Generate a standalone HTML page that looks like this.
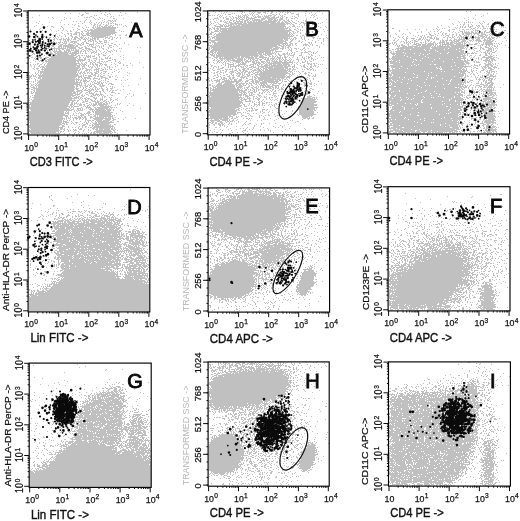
<!DOCTYPE html><html><head><meta charset="utf-8"><title>Figure</title><style>html,body{margin:0;padding:0;background:#fff}svg{display:block}</style></head><body><svg width="520" height="521" viewBox="0 0 520 521" font-family="'Liberation Sans', Arial, sans-serif"><rect width="520" height="521" fill="#fff"/><path transform="translate(0,.5)" d="M97 11h1m2 0h1m8 0h1m103 0h1m5 0h1m1 0h1m5 0h1m9 0h1m1 0h4m6 0h2m2 0h1m1 0h1m9 0h1m1 0h2m2 0h2m5 0h2m3 0h1m3 0h1m1 0h1m15 0h2m10 0h1m1 0h1m146 0h1m3 0h1M85 12h1m19 0h1m14 0h1m16 0h1m77 0h1m8 0h1m1 0h1m15 0h1m1 0h1m7 0h1m1 0h1m2 0h4m2 0h3m5 0h2m3 0h1m3 0h1m1 0h1m2 0h1m1 0h2m1 0h1m20 0h1M65 13h1m4 0h1m8 0h1m6 0h3m12 0h1m7 0h1m15 0h1m82 0h2m11 0h1m1 0h1m8 0h1m1 0h1m6 0h1m7 0h1m1 0h1m1 0h1m4 0h2m5 0h1m1 0h1m2 0h2m7 0h1m7 0h1m3 0h3m4 0h1m6 0h1m3 0h1m5 0h1m6 0h1m164 0h1M82 14h2m20 0h1m2 0h1m2 0h1m97 0h1m9 0h1m6 0h1m2 0h3m11 0h1m2 0h1m1 0h1m2 0h1m1 0h1m3 0h2m3 0h1m10 0h2m2 0h1m2 0h1m4 0h2m10 0h3m13 0h1m1 0h1M39 15h1m41 0h2m11 0h1m1 0h1m8 0h1m13 0h1m1 0h1m86 0h3m1 0h1m1 0h1m2 0h1m2 0h1m1 0h1m13 0h1m1 0h1m1 0h1m2 0h4m1 0h1m3 0h1m1 0h1m3 0h1m5 0h1m1 0h1m1 0h4m2 0h2m4 0h1m1 0h1m15 0h1m6 0h1m5 0h1m1 0h1m2 0h1m158 0h1m7 0h1M78 16h1m11 0h2m15 0h1m3 0h1m1 0h1m105 0h1m1 0h1m4 0h1m2 0h1m2 0h1m5 0h3m1 0h1m1 0h1m1 0h2m5 0h1m1 0h1m1 0h4m1 0h1m1 0h5m1 0h1m2 0h2m3 0h1m2 0h2m1 0h1m7 0h1m1 0h1m3 0h1m15 0h1m166 0h1M32 17h1m15 0h1m3 0h1m11 0h1m19 0h1m1 0h2m1 0h1m3 0h1m5 0h1m10 0h1m106 0h1m2 0h1m2 0h1m1 0h1m4 0h1m2 0h1m1 0h2m1 0h1m1 0h2m1 0h2m1 0h3m2 0h1m2 0h3m1 0h3m2 0h1m1 0h5m1 0h4m1 0h3m1 0h1m1 0h1m3 0h2m7 0h2m13 0h1m2 0h1m154 0h1M53 18h1m12 0h1m3 0h1m23 0h1m5 0h1m1 0h1m10 0h2m8 0h1m90 0h4m5 0h1m2 0h3m2 0h1m1 0h1m2 0h2m1 0h1m2 0h1m1 0h1m1 0h1m1 0h7m6 0h5m1 0h10m3 0h3m3 0h1m4 0h2m1 0h1m2 0h1m8 0h1m10 0h1m146 0h1m8 0h1M64 19h1m21 0h1m8 0h1m2 0h1m5 0h1m11 0h1m91 0h1m1 0h1m2 0h1m4 0h1m7 0h3m1 0h1m1 0h1m3 0h1m1 0h1m1 0h4m2 0h3m1 0h1m1 0h1m1 0h6m1 0h4m3 0h5m1 0h2m1 0h1m1 0h4m3 0h1m1 0h1m17 0h1m8 0h1m10 0h1m122 0h1m18 0h1m6 0h1M61 20h1m23 0h1m4 0h1m11 0h1m5 0h3m1 0h1m1 0h2m100 0h1m3 0h2m2 0h1m5 0h2m1 0h2m1 0h1m2 0h1m2 0h1m1 0h4m1 0h1m2 0h11m2 0h2m1 0h4m1 0h5m1 0h2m2 0h2m2 0h2m2 0h1m4 0h1m6 0h1m1 0h2m159 0h1m25 0h1M39 21h1m33 0h1m2 0h1m3 0h1m3 0h1m5 0h1m13 0h1m2 0h1m2 0h2m1 0h1m1 0h1m94 0h1m3 0h1m5 0h2m1 0h1m1 0h1m1 0h1m1 0h1m3 0h1m2 0h7m1 0h2m1 0h2m1 0h2m1 0h2m1 0h1m1 0h4m1 0h14m1 0h2m2 0h1m1 0h3m1 0h2m2 0h1m5 0h1m6 0h2m5 0h1m145 0h1m9 0h1m14 0h1m11 0h1m4 0h1M36 22h1m12 0h1m10 0h1m23 0h1m4 0h1m1 0h1m4 0h1m2 0h1m1 0h1m1 0h1m2 0h1m1 0h1m3 0h1m18 0h1m78 0h1m4 0h1m1 0h1m6 0h3m2 0h3m2 0h2m1 0h2m1 0h3m1 0h2m1 0h29m1 0h3m1 0h3m1 0h3m2 0h1m2 0h2m6 0h3m11 0h1m6 0h1m136 0h1m4 0h1m1 0h1m1 0h1m1 0h1m1 0h1m6 0h1m4 0h1M38 23h1m39 0h1m3 0h1m7 0h1m3 0h1m3 0h1m2 0h1m6 0h1m1 0h2m1 0h1m1 0h1m95 0h1m1 0h1m4 0h1m7 0h3m1 0h12m1 0h4m1 0h21m1 0h15m1 0h4m1 0h1m3 0h2m3 0h1m2 0h3m3 0h1m3 0h1m4 0h1m1 0h1m131 0h1m11 0h1m15 0h1m1 0h1m5 0h1m5 0h1M42 24h1m21 0h1m3 0h1m3 0h1m2 0h1m15 0h1m2 0h2m1 0h1m2 0h1m2 0h1m2 0h1m1 0h1m6 0h3m1 0h1m1 0h1m86 0h1m1 0h1m5 0h1m2 0h2m2 0h1m1 0h1m2 0h1m1 0h4m1 0h2m1 0h48m1 0h1m2 0h1m1 0h2m5 0h1m4 0h1m4 0h1m2 0h1m140 0h1m6 0h1m2 0h2m3 0h1m2 0h1m9 0h1m5 0h2M36 25h1m37 0h1m3 0h1m6 0h1m7 0h2m2 0h1m1 0h2m4 0h3m2 0h2m1 0h1m3 0h1m7 0h1m83 0h1m4 0h2m4 0h3m1 0h1m1 0h1m1 0h4m1 0h2m1 0h4m1 0h44m8 0h2m6 0h1m2 0h1m1 0h1m2 0h1m131 0h1m15 0h1m5 0h1m4 0h1m3 0h1m3 0h1m1 0h2m2 0h1m16 0h1M34 26h1m12 0h1m3 0h2m8 0h1m16 0h2m13 0h1m1 0h1m1 0h1m1 0h1m1 0h2m1 0h3m1 0h3m1 0h1m10 0h1m2 0h1m88 0h8m1 0h5m1 0h56m3 0h1m2 0h3m2 0h1m1 0h1m2 0h1m5 0h1m7 0h1m1 0h1m6 0h1m111 0h1m10 0h1m11 0h1m1 0h1m2 0h1m2 0h1m1 0h3m4 0h1m1 0h1m2 0h2m2 0h1m1 0h1m1 0h1m12 0h1M53 27h1m8 0h1m9 0h1m9 0h1m3 0h1m1 0h1m3 0h2m1 0h1m1 0h4m1 0h14m1 0h1m90 0h1m3 0h1m1 0h1m2 0h1m1 0h2m4 0h1m3 0h55m1 0h1m1 0h2m1 0h1m4 0h1m6 0h1m17 0h1m5 0h1m111 0h1m10 0h1m5 0h1m1 0h1m2 0h1m1 0h1m1 0h2m3 0h2m4 0h1m2 0h1m4 0h1m7 0h1m2 0h1m6 0h1m1 0h1m1 0h1M40 28h1m19 0h1m2 0h1m13 0h1m5 0h1m9 0h2m1 0h20m93 0h2m2 0h2m1 0h3m1 0h68m1 0h1m7 0h1m11 0h1m3 0h1m74 0h1m3 0h2m42 0h1m5 0h1m1 0h1m11 0h1m2 0h1m11 0h1m1 0h2m2 0h1m2 0h1m2 0h3m1 0h1m1 0h3M30 29h1m8 0h1m10 0h1m12 0h1m9 0h1m4 0h2m5 0h1m1 0h1m2 0h3m1 0h21m94 0h1m1 0h1m2 0h1m2 0h2m1 0h7m1 0h57m1 0h1m2 0h2m3 0h2m2 0h1m1 0h1m12 0h1m9 0h1m83 0h1m7 0h1m3 0h1m6 0h1m6 0h1m3 0h1m1 0h1m9 0h1m2 0h3m7 0h2m2 0h3m1 0h1m1 0h1m2 0h1m6 0h1m7 0h1m2 0h2m1 0h1M42 30h1m8 0h1m6 0h1m3 0h1m3 0h1m3 0h1m6 0h1m6 0h1m2 0h28m4 0h1m89 0h1m5 0h3m1 0h2m1 0h70m4 0h1m3 0h1m1 0h1m24 0h1m71 0h1m38 0h1m9 0h2m9 0h1m4 0h1m8 0h1m1 0h5m5 0h1m6 0h2m10 0h2M56 31h1m10 0h1m2 0h2m4 0h1m4 0h2m2 0h2m1 0h1m2 0h24m6 0h1m1 0h1m87 0h1m2 0h5m1 0h70m2 0h2m3 0h2m7 0h2m4 0h1m5 0h1m5 0h1m74 0h1m21 0h1m8 0h1m3 0h1m2 0h1m3 0h1m7 0h1m3 0h1m6 0h3m1 0h1m1 0h1m1 0h1m2 0h2m2 0h1m1 0h1m1 0h1m4 0h2m3 0h2m4 0h2M45 32h1m15 0h1m13 0h5m2 0h1m4 0h2m1 0h27m94 0h3m5 0h1m1 0h67m1 0h2m2 0h1m1 0h1m1 0h1m2 0h1m8 0h1m2 0h1m76 0h1m19 0h1m7 0h1m3 0h1m6 0h1m11 0h1m2 0h1m8 0h1m2 0h1m2 0h1m3 0h1m1 0h6m1 0h3m1 0h2m1 0h2m1 0h2m1 0h1m1 0h4m4 0h1m4 0h2M34 33h1m15 0h1m5 0h1m5 0h1m4 0h2m1 0h2m2 0h3m2 0h1m1 0h1m1 0h1m2 0h29m95 0h2m3 0h1m2 0h70m1 0h1m1 0h1m1 0h2m5 0h1m4 0h1m7 0h1m81 0h1m7 0h1m6 0h1m18 0h1m4 0h1m3 0h1m3 0h1m2 0h2m9 0h1m5 0h2m1 0h7m1 0h7m1 0h2m1 0h1m5 0h1m2 0h1m4 0h1m8 0h1M51 34h1m3 0h1m8 0h1m3 0h1m2 0h1m1 0h4m2 0h1m1 0h2m3 0h3m1 0h21m1 0h1m2 0h1m10 0h1m81 0h4m2 0h1m1 0h75m1 0h1m12 0h3m3 0h1m2 0h1m6 0h1m74 0h1m5 0h1m2 0h1m20 0h1m2 0h2m4 0h1m6 0h1m2 0h1m3 0h1m2 0h2m2 0h1m2 0h1m2 0h2m2 0h4m1 0h1m2 0h1m2 0h2m2 0h5m3 0h1m1 0h4m6 0h1M54 35h1m4 0h1m5 0h1m4 0h2m7 0h1m2 0h4m1 0h3m1 0h19m5 0h1m3 0h2m4 0h2m81 0h1m4 0h1m2 0h74m1 0h1m1 0h1m2 0h2m4 0h2m5 0h1m16 0h1m63 0h1m22 0h1m4 0h1m3 0h1m1 0h1m5 0h4m3 0h1m3 0h1m1 0h1m2 0h3m3 0h1m3 0h1m2 0h2m3 0h3m1 0h1m2 0h1m1 0h1m4 0h5m2 0h3m2 0h1m1 0h1m1 0h1m1 0h1m2 0h1M44 36h1m9 0h1m2 0h1m3 0h1m3 0h1m5 0h2m2 0h2m2 0h1m1 0h1m1 0h1m6 0h16m1 0h1m2 0h2m97 0h1m1 0h1m2 0h79m7 0h1m3 0h1m6 0h1m6 0h1m71 0h1m7 0h1m4 0h1m3 0h1m7 0h1m4 0h2m2 0h1m2 0h2m2 0h1m3 0h1m9 0h1m2 0h1m3 0h1m1 0h1m3 0h1m1 0h2m1 0h1m1 0h4m1 0h1m1 0h2m1 0h1m2 0h1m1 0h5m1 0h1m2 0h1m1 0h1m4 0h1m8 0h1M38 37h1m7 0h1m2 0h2m2 0h1m1 0h1m2 0h1m9 0h1m3 0h1m1 0h4m2 0h3m2 0h1m2 0h1m3 0h1m1 0h10m1 0h3m1 0h1m2 0h1m1 0h1m2 0h1m2 0h1m87 0h2m2 0h3m1 0h72m1 0h1m4 0h2m5 0h1m2 0h1m7 0h3m11 0h1m66 0h1m5 0h1m2 0h1m3 0h1m10 0h1m3 0h1m1 0h1m1 0h1m1 0h1m1 0h3m2 0h1m1 0h1m6 0h2m2 0h1m1 0h2m1 0h2m3 0h1m1 0h1m1 0h5m4 0h2m1 0h7m2 0h2m1 0h2m1 0h2m1 0h4m2 0h1m1 0h1m4 0h1M35 38h1m10 0h1m2 0h1m4 0h1m1 0h1m4 0h1m1 0h1m2 0h1m1 0h1m2 0h1m2 0h2m2 0h2m1 0h2m1 0h1m1 0h1m1 0h1m1 0h1m1 0h4m1 0h2m6 0h1m2 0h2m2 0h1m3 0h1m3 0h1m89 0h1m1 0h1m1 0h1m1 0h74m1 0h1m1 0h1m1 0h2m4 0h1m2 0h1m8 0h1m3 0h1m1 0h2m2 0h1m3 0h1m67 0h1m7 0h1m2 0h2m3 0h4m4 0h2m2 0h1m1 0h1m4 0h3m1 0h1m1 0h3m8 0h1m3 0h1m2 0h1m4 0h1m1 0h1m1 0h2m2 0h1m1 0h1m1 0h3m1 0h1m1 0h3m1 0h2m1 0h1m2 0h4m1 0h2m2 0h1m8 0h1M42 39h1m4 0h2m4 0h2m2 0h1m1 0h3m1 0h3m1 0h3m1 0h1m1 0h3m3 0h2m2 0h3m1 0h1m2 0h3m1 0h2m1 0h2m4 0h1m7 0h2m96 0h2m4 0h68m1 0h4m2 0h1m1 0h2m1 0h1m6 0h1m1 0h1m3 0h1m14 0h1m70 0h1m3 0h1m5 0h1m1 0h1m6 0h1m2 0h1m1 0h3m1 0h1m1 0h1m1 0h2m1 0h1m3 0h1m2 0h3m3 0h1m4 0h1m2 0h1m3 0h3m1 0h7m1 0h3m3 0h2m2 0h4m4 0h2m1 0h1m1 0h3m2 0h1M29 40h1m2 0h1m10 0h1m4 0h1m1 0h1m3 0h1m5 0h1m2 0h1m1 0h1m1 0h2m1 0h1m6 0h2m1 0h1m4 0h1m2 0h3m1 0h2m1 0h1m3 0h1m4 0h3m2 0h1m99 0h75m1 0h3m3 0h2m6 0h1m5 0h1m6 0h1m5 0h1m4 0h1m64 0h1m4 0h2m2 0h1m7 0h2m5 0h1m1 0h2m2 0h1m2 0h1m3 0h1m1 0h3m10 0h1m1 0h2m1 0h3m1 0h3m1 0h2m1 0h4m2 0h4m3 0h3m1 0h1m1 0h6m2 0h8m1 0h2m12 0h1M31 41h1m15 0h2m1 0h1m2 0h1m6 0h1m3 0h3m1 0h1m2 0h6m7 0h2m2 0h1m1 0h2m1 0h1m1 0h2m2 0h3m2 0h1m1 0h1m9 0h1m94 0h4m3 0h68m4 0h2m6 0h2m2 0h1m12 0h1m7 0h1m72 0h1m4 0h1m1 0h1m2 0h1m1 0h1m1 0h1m3 0h4m7 0h1m2 0h1m2 0h1m2 0h1m5 0h1m1 0h3m1 0h1m4 0h2m1 0h5m2 0h5m1 0h1m2 0h1m1 0h1m3 0h1m1 0h4m2 0h1m1 0h7m2 0h1m6 0h1M40 42h1m3 0h1m7 0h1m1 0h1m1 0h1m1 0h3m1 0h1m1 0h1m1 0h1m3 0h3m1 0h3m5 0h2m2 0h1m6 0h1m3 0h1m2 0h1m3 0h3m1 0h1m15 0h1m84 0h2m1 0h4m1 0h66m2 0h2m2 0h2m10 0h1m6 0h2m1 0h1m3 0h1m5 0h1m70 0h1m1 0h2m4 0h1m3 0h1m1 0h2m1 0h1m2 0h1m1 0h1m5 0h2m1 0h1m1 0h1m4 0h1m2 0h2m4 0h6m1 0h3m1 0h5m1 0h1m1 0h5m1 0h1m1 0h1m1 0h1m9 0h1m4 0h1m1 0h7M34 43h2m2 0h1m1 0h1m3 0h1m7 0h1m1 0h3m2 0h1m3 0h4m2 0h1m3 0h2m2 0h2m2 0h1m1 0h1m2 0h3m4 0h1m2 0h1m1 0h2m1 0h2m8 0h2m11 0h1m83 0h1m1 0h1m3 0h74m2 0h3m2 0h2m8 0h1m3 0h1m1 0h1m9 0h1m67 0h2m1 0h1m1 0h1m1 0h1m7 0h1m1 0h1m1 0h1m1 0h1m3 0h1m1 0h3m2 0h1m3 0h2m1 0h6m1 0h1m1 0h1m1 0h2m1 0h1m1 0h1m1 0h3m1 0h3m1 0h7m1 0h1m1 0h2m3 0h1m5 0h3m1 0h1m3 0h1m1 0h8m1 0h1m1 0h1m1 0h1m2 0h1M41 44h4m1 0h1m5 0h1m5 0h1m1 0h3m2 0h1m2 0h5m2 0h1m2 0h3m1 0h2m5 0h5m1 0h1m9 0h1m2 0h1m5 0h2m3 0h1m8 0h1m79 0h1m3 0h1m1 0h66m2 0h2m1 0h1m1 0h1m1 0h2m1 0h1m2 0h1m7 0h5m2 0h1m1 0h1m10 0h1m64 0h2m3 0h1m2 0h1m4 0h2m4 0h2m4 0h4m1 0h3m1 0h4m1 0h7m1 0h2m3 0h1m1 0h12m2 0h7m1 0h1m1 0h2m1 0h4m1 0h3m4 0h3m1 0h8m6 0h1M30 45h1m18 0h1m1 0h3m5 0h3m1 0h12m1 0h2m2 0h2m5 0h1m1 0h1m1 0h1m1 0h1m2 0h1m1 0h1m4 0h1m5 0h3m4 0h1m91 0h4m1 0h64m1 0h4m1 0h2m1 0h5m1 0h1m3 0h1m6 0h1m1 0h2m1 0h1m3 0h1m3 0h2m77 0h1m1 0h1m1 0h1m1 0h4m3 0h1m3 0h1m3 0h5m1 0h10m1 0h1m1 0h1m1 0h1m1 0h2m1 0h1m2 0h1m1 0h2m1 0h17m11 0h1m1 0h1m1 0h1m3 0h1m1 0h2m2 0h1m1 0h1m2 0h1m7 0h1M30 46h1m5 0h2m2 0h1m1 0h1m1 0h2m3 0h1m2 0h2m4 0h4m1 0h11m1 0h3m6 0h2m2 0h1m2 0h2m2 0h1m1 0h1m1 0h1m1 0h1m1 0h1m5 0h1m3 0h1m3 0h1m92 0h68m3 0h3m1 0h1m2 0h2m19 0h1m9 0h1m68 0h1m8 0h3m2 0h5m1 0h10m1 0h1m1 0h10m1 0h1m1 0h2m1 0h13m1 0h14m1 0h1m7 0h1m5 0h1m4 0h2m2 0h1m1 0h1m2 0h2m1 0h1M30 47h1m15 0h1m2 0h1m1 0h1m2 0h1m3 0h2m1 0h1m1 0h1m1 0h1m1 0h9m2 0h2m1 0h2m2 0h2m5 0h4m3 0h1m1 0h1m6 0h1m1 0h2m25 0h1m2 0h1m68 0h1m1 0h62m2 0h5m2 0h2m1 0h1m1 0h2m1 0h1m13 0h1m14 0h1m78 0h1m1 0h13m1 0h16m1 0h33m1 0h1m1 0h1m2 0h1m2 0h1m6 0h2m3 0h4m1 0h1m1 0h1m3 0h1m11 0h1M30 48h2m9 0h4m2 0h2m3 0h14m1 0h1m1 0h7m3 0h3m3 0h5m5 0h1m6 0h2m4 0h1m10 0h1m1 0h1m87 0h1m1 0h1m1 0h59m1 0h6m1 0h4m1 0h1m2 0h1m2 0h1m2 0h3m1 0h1m4 0h2m3 0h1m80 0h1m6 0h34m2 0h16m1 0h10m1 0h5m1 0h1m7 0h3m3 0h1m1 0h2m4 0h4m1 0h1m1 0h1m1 0h1M29 49h1m3 0h1m10 0h1m4 0h1m2 0h1m1 0h1m1 0h1m1 0h2m2 0h2m2 0h4m1 0h1m1 0h1m1 0h2m1 0h1m3 0h2m2 0h1m1 0h4m3 0h1m2 0h1m4 0h1m2 0h1m6 0h1m95 0h1m2 0h58m1 0h7m4 0h1m6 0h1m1 0h1m4 0h1m3 0h1m1 0h1m2 0h1m86 0h2m1 0h1m1 0h2m1 0h4m1 0h5m1 0h13m1 0h19m1 0h11m1 0h5m4 0h1m2 0h1m1 0h1m1 0h1m6 0h1m2 0h2m3 0h4m1 0h1M29 50h1m12 0h4m1 0h1m1 0h1m2 0h1m1 0h1m1 0h1m2 0h2m3 0h1m1 0h4m1 0h3m1 0h4m2 0h1m2 0h2m1 0h1m1 0h1m2 0h1m3 0h1m2 0h1m7 0h1m3 0h1m2 0h1m1 0h1m91 0h1m2 0h63m1 0h1m12 0h1m1 0h2m9 0h1m2 0h1m84 0h2m6 0h28m1 0h3m1 0h5m1 0h28m10 0h1m4 0h1m6 0h4m1 0h1m1 0h1m2 0h1M29 51h3m12 0h1m2 0h1m2 0h1m2 0h9m2 0h3m1 0h3m3 0h5m1 0h2m1 0h1m1 0h1m2 0h1m1 0h1m2 0h2m1 0h1m3 0h1m3 0h1m3 0h3m1 0h1m3 0h1m3 0h1m18 0h1m70 0h4m1 0h2m1 0h53m1 0h1m2 0h7m9 0h1m4 0h2m7 0h1m2 0h3m6 0h1m73 0h1m1 0h1m1 0h42m1 0h21m1 0h4m1 0h1m10 0h2m2 0h1m4 0h1m1 0h2m1 0h2m3 0h1M45 52h1m2 0h1m1 0h2m2 0h2m1 0h12m1 0h1m1 0h5m1 0h1m1 0h1m4 0h1m5 0h3m1 0h2m6 0h1m2 0h1m3 0h1m97 0h1m1 0h3m1 0h2m1 0h40m1 0h6m1 0h6m1 0h1m1 0h1m1 0h1m10 0h1m4 0h1m1 0h1m6 0h2m1 0h4m3 0h1m1 0h1m2 0h1m73 0h2m1 0h1m2 0h7m1 0h44m1 0h15m1 0h2m5 0h1m1 0h1m6 0h1m1 0h3m1 0h1m1 0h1m2 0h3M33 53h2m6 0h2m2 0h2m3 0h3m2 0h13m1 0h10m1 0h1m1 0h1m2 0h2m4 0h1m2 0h1m3 0h1m2 0h1m3 0h1m102 0h2m2 0h2m1 0h1m1 0h45m1 0h1m1 0h9m1 0h1m2 0h1m4 0h2m1 0h2m1 0h1m1 0h1m2 0h1m6 0h1m6 0h1m4 0h1m1 0h1m75 0h14m1 0h8m1 0h5m1 0h8m1 0h10m1 0h6m1 0h18m1 0h3m1 0h3m1 0h2m8 0h2m1 0h2m1 0h1M32 54h1m1 0h1m2 0h1m3 0h1m4 0h2m2 0h3m1 0h2m1 0h12m2 0h3m1 0h2m19 0h1m1 0h2m3 0h1m8 0h1m97 0h3m1 0h1m1 0h1m1 0h40m1 0h3m1 0h3m1 0h5m3 0h1m2 0h2m2 0h4m1 0h1m1 0h1m3 0h2m6 0h1m7 0h1m1 0h1m80 0h3m1 0h27m1 0h3m1 0h35m1 0h1m2 0h1m12 0h1m4 0h2m2 0h1m1 0h1M31 55h1m8 0h2m2 0h1m5 0h1m1 0h24m2 0h2m1 0h2m1 0h1m1 0h1m1 0h1m1 0h1m3 0h1m3 0h1m4 0h3m3 0h1m13 0h1m87 0h4m1 0h43m1 0h3m2 0h2m1 0h2m2 0h1m3 0h1m2 0h3m2 0h1m3 0h1m1 0h4m5 0h3m9 0h2m6 0h1m73 0h1m1 0h9m1 0h14m1 0h41m1 0h4m1 0h1m2 0h2m3 0h1m3 0h2m4 0h3m2 0h1m2 0h1m2 0h1M37 56h1m2 0h1m9 0h24m2 0h2m1 0h1m6 0h5m1 0h3m4 0h1m8 0h1m11 0h1m92 0h2m1 0h24m1 0h9m1 0h2m1 0h4m1 0h5m5 0h2m1 0h2m1 0h1m1 0h1m2 0h1m3 0h2m1 0h1m5 0h1m8 0h1m3 0h1m1 0h1m1 0h1m4 0h1m76 0h15m1 0h17m1 0h39m4 0h1m4 0h1m8 0h2m3 0h5M31 57h2m2 0h1m1 0h5m3 0h4m2 0h26m2 0h2m2 0h1m1 0h1m1 0h2m1 0h1m5 0h1m2 0h1m5 0h1m1 0h1m2 0h1m12 0h1m85 0h2m3 0h4m1 0h2m1 0h1m1 0h13m1 0h2m1 0h3m1 0h9m1 0h2m2 0h8m1 0h1m3 0h1m1 0h1m2 0h4m1 0h1m1 0h3m2 0h1m2 0h1m4 0h1m4 0h1m1 0h1m3 0h2m1 0h1m9 0h1m1 0h1m68 0h18m1 0h17m1 0h28m1 0h3m2 0h3m5 0h1m1 0h1m4 0h1m3 0h10m1 0h2m1 0h1M29 58h1m4 0h1m5 0h2m3 0h2m2 0h27m1 0h1m1 0h1m4 0h2m7 0h4m4 0h1m3 0h3m1 0h2m101 0h1m3 0h1m2 0h15m1 0h8m1 0h1m1 0h1m1 0h6m1 0h4m3 0h2m1 0h1m1 0h2m1 0h5m1 0h1m1 0h3m1 0h1m2 0h1m4 0h1m6 0h1m5 0h2m1 0h1m1 0h1m2 0h2m4 0h1m71 0h1m1 0h31m1 0h16m1 0h26m4 0h1m1 0h1m3 0h1m1 0h1m2 0h1m4 0h3m1 0h4m4 0h1M35 59h1m2 0h1m3 0h2m3 0h29m2 0h5m1 0h2m2 0h2m6 0h1m2 0h1m1 0h3m8 0h1m1 0h2m7 0h1m90 0h1m2 0h1m2 0h3m1 0h1m1 0h5m1 0h3m2 0h6m1 0h2m2 0h1m1 0h1m1 0h3m2 0h1m1 0h3m2 0h2m1 0h2m1 0h1m1 0h2m1 0h1m1 0h1m1 0h1m1 0h1m1 0h1m1 0h2m2 0h1m1 0h1m4 0h3m2 0h1m2 0h1m6 0h1m1 0h1m1 0h1m73 0h2m1 0h21m1 0h1m1 0h18m1 0h17m1 0h8m3 0h1m2 0h1m3 0h1m1 0h1m4 0h1m2 0h1m3 0h3m1 0h1m1 0h4M33 60h1m4 0h1m1 0h2m1 0h1m1 0h2m1 0h37m4 0h1m1 0h1m2 0h2m3 0h1m8 0h3m4 0h1m97 0h2m1 0h1m1 0h2m1 0h2m2 0h1m1 0h2m1 0h13m1 0h1m1 0h2m2 0h2m1 0h1m1 0h3m2 0h1m5 0h4m1 0h2m1 0h1m1 0h1m2 0h2m1 0h1m1 0h2m1 0h2m1 0h1m2 0h1m4 0h1m6 0h1m3 0h1m3 0h1m9 0h1m67 0h1m1 0h6m1 0h16m1 0h3m1 0h42m1 0h2m1 0h3m1 0h1m3 0h1m7 0h7m1 0h2m1 0h2M35 61h1m3 0h1m1 0h1m3 0h31m1 0h2m1 0h1m1 0h1m5 0h2m2 0h1m2 0h1m3 0h1m1 0h2m1 0h1m1 0h2m7 0h1m3 0h1m97 0h2m1 0h1m3 0h1m1 0h1m1 0h2m3 0h8m1 0h1m2 0h6m1 0h3m1 0h1m1 0h1m2 0h4m1 0h2m1 0h1m2 0h6m1 0h3m2 0h3m2 0h2m1 0h1m5 0h1m3 0h1m2 0h1m1 0h1m2 0h2m77 0h7m1 0h16m1 0h18m1 0h10m1 0h24m5 0h2m1 0h1m1 0h1m6 0h2m1 0h3m1 0h1M30 62h1m12 0h1m2 0h1m1 0h28m2 0h1m2 0h1m3 0h2m3 0h2m1 0h2m2 0h3m3 0h1m1 0h1m5 0h1m6 0h1m1 0h1m18 0h1m68 0h2m3 0h1m3 0h1m1 0h1m1 0h1m1 0h1m1 0h1m4 0h1m1 0h1m3 0h4m1 0h3m1 0h2m1 0h1m3 0h3m1 0h4m1 0h3m1 0h1m1 0h3m1 0h1m1 0h20m1 0h1m2 0h1m4 0h3m2 0h1m82 0h9m1 0h12m1 0h41m1 0h9m1 0h4m5 0h1m1 0h4m6 0h1m1 0h1m1 0h2M37 63h2m3 0h1m2 0h1m1 0h33m1 0h2m1 0h1m1 0h1m3 0h1m1 0h1m2 0h1m3 0h3m12 0h1m4 0h2m9 0h1m83 0h1m1 0h1m5 0h1m2 0h1m1 0h2m4 0h1m1 0h1m2 0h1m1 0h1m1 0h4m7 0h4m1 0h3m2 0h2m1 0h1m1 0h13m1 0h7m3 0h1m3 0h1m3 0h1m6 0h3m1 0h1m1 0h2m1 0h1m73 0h75m1 0h4m14 0h2m2 0h3m1 0h1m2 0h1m2 0h1M30 64h1m2 0h1m1 0h1m1 0h1m2 0h2m2 0h1m2 0h30m2 0h2m1 0h4m4 0h1m1 0h2m1 0h3m2 0h1m1 0h1m1 0h3m4 0h1m3 0h1m7 0h1m86 0h1m12 0h1m1 0h1m2 0h6m4 0h8m4 0h4m1 0h1m1 0h1m1 0h1m1 0h2m2 0h3m1 0h3m1 0h3m1 0h5m1 0h7m1 0h1m2 0h1m2 0h1m6 0h1m3 0h1m1 0h2m2 0h1m3 0h1m1 0h1m1 0h1m70 0h21m1 0h3m1 0h11m1 0h3m2 0h30m2 0h1m5 0h1m4 0h2m4 0h7m1 0h1m1 0h1M30 65h1m3 0h1m4 0h1m4 0h1m1 0h34m1 0h1m1 0h2m1 0h1m1 0h1m4 0h1m2 0h2m1 0h1m1 0h1m3 0h2m10 0h1m5 0h1m2 0h2m4 0h1m78 0h2m8 0h1m3 0h1m2 0h1m1 0h1m2 0h1m2 0h4m4 0h1m1 0h2m1 0h2m2 0h1m3 0h2m2 0h1m2 0h6m1 0h16m1 0h2m4 0h1m5 0h1m2 0h2m6 0h1m2 0h2m72 0h1m1 0h21m1 0h4m1 0h38m1 0h8m1 0h1m5 0h1m2 0h4m1 0h1m5 0h4m1 0h3m4 0h1M31 66h1m2 0h1m3 0h2m1 0h3m1 0h31m1 0h3m2 0h3m3 0h1m1 0h1m1 0h1m1 0h1m2 0h1m1 0h1m7 0h1m1 0h1m5 0h1m95 0h1m2 0h2m2 0h1m9 0h1m1 0h7m1 0h1m1 0h2m1 0h1m1 0h1m1 0h1m3 0h3m1 0h1m2 0h10m1 0h14m1 0h7m1 0h3m6 0h1m1 0h2m2 0h1m2 0h2m1 0h1m1 0h1m2 0h1m70 0h1m1 0h10m1 0h38m1 0h10m1 0h19m2 0h1m3 0h1m3 0h1m1 0h3m1 0h2m2 0h2m1 0h2M34 67h1m5 0h1m1 0h3m1 0h34m2 0h1m1 0h1m4 0h1m1 0h2m2 0h1m1 0h1m6 0h1m2 0h1m1 0h1m2 0h1m14 0h1m15 0h1m69 0h1m2 0h1m1 0h1m3 0h2m4 0h1m1 0h1m4 0h1m5 0h3m2 0h1m2 0h3m1 0h3m2 0h1m2 0h3m1 0h8m1 0h14m4 0h1m1 0h1m1 0h1m7 0h2m4 0h2m5 0h1m73 0h45m1 0h3m1 0h17m1 0h4m1 0h2m5 0h1m2 0h2m6 0h1m1 0h3m1 0h3m2 0h4M33 68h1m2 0h3m3 0h1m1 0h35m1 0h1m1 0h2m1 0h2m4 0h1m4 0h1m1 0h2m1 0h1m3 0h1m3 0h1m11 0h1m86 0h1m1 0h1m2 0h1m4 0h1m1 0h3m9 0h1m2 0h1m2 0h1m4 0h3m1 0h2m3 0h1m3 0h3m1 0h1m2 0h4m1 0h16m1 0h3m1 0h2m2 0h1m3 0h1m8 0h2m1 0h1m2 0h1m13 0h1m61 0h2m2 0h1m2 0h4m1 0h7m1 0h29m1 0h1m1 0h1m1 0h20m1 0h1m2 0h1m6 0h1m2 0h2m4 0h2m1 0h1m2 0h4m2 0h1m3 0h1M34 69h1m2 0h1m3 0h37m1 0h2m1 0h1m3 0h5m3 0h5m3 0h2m1 0h1m1 0h1m2 0h2m2 0h1m3 0h1m93 0h1m4 0h3m5 0h3m1 0h2m1 0h1m3 0h1m2 0h1m2 0h3m2 0h2m1 0h2m2 0h2m1 0h3m1 0h1m1 0h1m1 0h3m1 0h17m1 0h4m1 0h4m6 0h1m1 0h1m2 0h2m1 0h2m1 0h1m75 0h1m2 0h48m2 0h10m1 0h8m1 0h3m1 0h1m4 0h1m11 0h2m5 0h4M38 70h2m2 0h1m1 0h36m5 0h3m1 0h1m1 0h1m2 0h1m1 0h1m1 0h1m1 0h3m13 0h1m91 0h2m3 0h2m5 0h1m1 0h2m2 0h1m5 0h1m1 0h3m2 0h2m2 0h4m5 0h5m1 0h3m1 0h2m1 0h23m1 0h1m2 0h1m17 0h1m2 0h1m1 0h1m72 0h74m1 0h4m4 0h1m1 0h1m2 0h1m4 0h3m3 0h1m1 0h3M38 71h1m1 0h37m1 0h1m2 0h1m2 0h1m1 0h1m2 0h1m6 0h3m4 0h4m7 0h1m4 0h1m97 0h2m1 0h1m4 0h2m3 0h4m3 0h1m2 0h1m1 0h2m1 0h3m1 0h1m1 0h1m1 0h1m3 0h5m1 0h24m1 0h4m2 0h1m1 0h1m1 0h1m3 0h2m84 0h1m1 0h1m1 0h32m1 0h16m1 0h2m1 0h21m1 0h1m3 0h2m7 0h1m5 0h2m1 0h1m1 0h4m1 0h1M29 72h1m5 0h1m2 0h1m1 0h37m1 0h1m1 0h2m1 0h2m2 0h2m1 0h2m2 0h3m1 0h1m2 0h1m3 0h1m6 0h1m5 0h1m8 0h1m83 0h1m2 0h1m1 0h2m2 0h2m1 0h1m1 0h1m3 0h1m1 0h3m1 0h1m2 0h2m1 0h2m1 0h2m2 0h3m1 0h1m2 0h4m1 0h28m2 0h1m1 0h1m6 0h1m5 0h1m2 0h2m11 0h1m66 0h1m2 0h14m1 0h25m1 0h27m1 0h5m3 0h2m2 0h1m3 0h1m3 0h1m3 0h1m2 0h3m1 0h1m2 0h1M35 73h1m1 0h1m2 0h2m1 0h33m1 0h1m1 0h2m1 0h1m1 0h2m1 0h1m1 0h1m1 0h2m2 0h3m2 0h1m2 0h2m3 0h1m20 0h1m78 0h1m4 0h2m4 0h1m3 0h1m6 0h2m4 0h5m1 0h1m1 0h1m3 0h2m3 0h2m2 0h1m1 0h31m2 0h1m1 0h1m5 0h1m3 0h3m4 0h1m77 0h1m1 0h22m1 0h14m1 0h32m1 0h4m5 0h1m1 0h1m3 0h1m8 0h1m1 0h2m3 0h1m2 0h1M32 74h1m3 0h1m1 0h1m1 0h1m1 0h36m2 0h1m2 0h1m7 0h2m1 0h2m2 0h1m2 0h1m9 0h1m105 0h1m2 0h1m5 0h2m3 0h1m1 0h1m3 0h1m1 0h2m1 0h1m1 0h1m1 0h2m1 0h1m1 0h2m2 0h31m3 0h2m1 0h2m5 0h1m5 0h1m2 0h1m6 0h1m73 0h3m1 0h21m1 0h49m1 0h1m4 0h1m2 0h2m12 0h2m1 0h2m1 0h1M29 75h1m1 0h1m1 0h1m1 0h1m2 0h41m2 0h1m1 0h1m1 0h2m1 0h3m2 0h3m2 0h1m1 0h1m2 0h2m3 0h1m7 0h1m10 0h1m86 0h2m1 0h1m5 0h2m4 0h1m2 0h2m2 0h1m1 0h2m2 0h2m3 0h3m5 0h2m2 0h26m1 0h1m2 0h1m1 0h1m5 0h1m3 0h1m6 0h2m3 0h1m1 0h1m73 0h3m1 0h24m1 0h10m1 0h7m1 0h27m1 0h1m1 0h1m6 0h1m3 0h1m3 0h1m1 0h1m1 0h3m1 0h3m2 0h1M29 76h3m1 0h3m3 0h38m1 0h4m1 0h1m4 0h4m3 0h1m1 0h2m1 0h3m6 0h2m1 0h1m2 0h1m97 0h1m4 0h1m1 0h1m6 0h3m3 0h1m3 0h3m1 0h2m1 0h2m1 0h2m1 0h1m1 0h1m1 0h1m1 0h2m2 0h26m1 0h4m18 0h1m2 0h1m1 0h2m74 0h1m1 0h62m1 0h8m2 0h1m1 0h2m2 0h1m3 0h1m4 0h1m1 0h1m2 0h2m2 0h7M29 77h2m5 0h1m1 0h3m1 0h34m2 0h2m1 0h1m2 0h6m4 0h1m6 0h5m3 0h2m6 0h1m5 0h1m84 0h1m7 0h2m3 0h1m1 0h2m4 0h2m1 0h3m5 0h5m1 0h1m5 0h1m1 0h2m1 0h14m1 0h13m1 0h4m6 0h1m3 0h1m6 0h1m81 0h10m1 0h4m1 0h8m1 0h2m2 0h9m1 0h3m1 0h1m1 0h26m1 0h1m2 0h2m9 0h1m1 0h1m2 0h3m2 0h5m3 0h1M29 78h1m1 0h1m2 0h1m3 0h3m1 0h33m1 0h1m1 0h1m3 0h1m1 0h2m1 0h4m2 0h5m1 0h1m1 0h1m3 0h3m32 0h1m67 0h2m3 0h2m6 0h1m1 0h4m2 0h2m1 0h2m3 0h1m3 0h1m1 0h1m2 0h2m4 0h1m2 0h2m1 0h18m1 0h3m1 0h3m2 0h1m2 0h1m6 0h1m7 0h1m1 0h1m2 0h1m3 0h1m74 0h22m1 0h20m1 0h10m1 0h22m11 0h1m2 0h1m3 0h1m1 0h3m1 0h4m2 0h1M29 79h1m5 0h1m4 0h40m1 0h1m1 0h1m1 0h1m4 0h1m2 0h1m4 0h2m5 0h1m2 0h1m6 0h2m10 0h1m80 0h1m2 0h1m5 0h1m1 0h2m1 0h3m1 0h1m1 0h1m1 0h2m2 0h3m2 0h3m7 0h4m1 0h2m2 0h23m1 0h1m1 0h2m1 0h1m7 0h1m2 0h1m1 0h1m6 0h1m5 0h1m75 0h2m1 0h10m1 0h5m1 0h17m1 0h24m1 0h9m1 0h4m2 0h1m7 0h1m1 0h3m1 0h1m1 0h1m3 0h2m1 0h2m1 0h1M35 80h1m1 0h1m1 0h36m1 0h1m1 0h1m1 0h2m1 0h4m2 0h1m4 0h2m5 0h1m1 0h1m1 0h1m15 0h1m3 0h1m83 0h1m1 0h1m2 0h6m4 0h6m1 0h1m2 0h3m1 0h4m4 0h3m3 0h2m1 0h3m1 0h4m1 0h10m1 0h3m1 0h2m1 0h1m5 0h1m2 0h1m9 0h4m1 0h1m3 0h1m78 0h3m1 0h4m1 0h13m1 0h34m1 0h3m1 0h11m2 0h2m4 0h3m6 0h1m3 0h2m1 0h1m1 0h4M29 81h1m1 0h1m1 0h1m1 0h1m2 0h37m1 0h2m2 0h1m2 0h3m1 0h2m2 0h1m1 0h1m1 0h1m1 0h1m1 0h2m6 0h2m100 0h1m2 0h1m3 0h4m2 0h19m1 0h1m2 0h3m3 0h3m1 0h5m2 0h17m3 0h1m1 0h3m2 0h2m3 0h1m1 0h1m5 0h1m7 0h1m7 0h1m70 0h5m1 0h42m1 0h12m1 0h12m1 0h2m1 0h1m1 0h1m8 0h1m4 0h1m1 0h2m3 0h2M33 82h1m3 0h45m2 0h1m1 0h1m5 0h1m1 0h1m2 0h3m1 0h1m1 0h1m1 0h1m110 0h1m2 0h1m1 0h3m1 0h9m2 0h3m2 0h1m3 0h1m3 0h1m2 0h2m1 0h4m1 0h7m1 0h7m1 0h2m3 0h1m21 0h2m3 0h1m2 0h1m77 0h1m1 0h4m1 0h5m1 0h22m1 0h41m1 0h2m2 0h1m6 0h1m2 0h1m3 0h2m1 0h5M30 83h1m4 0h1m1 0h1m1 0h39m1 0h1m1 0h1m2 0h2m4 0h1m3 0h3m1 0h2m1 0h2m3 0h1m2 0h3m100 0h1m5 0h4m2 0h8m4 0h2m1 0h6m1 0h2m1 0h3m1 0h2m1 0h1m1 0h1m1 0h7m4 0h1m1 0h4m1 0h3m7 0h3m8 0h1m4 0h3m2 0h3m2 0h1m6 0h1m66 0h1m1 0h1m1 0h15m1 0h41m1 0h12m1 0h1m1 0h1m10 0h3m2 0h1m3 0h1m1 0h3m1 0h3M31 84h1m1 0h1m2 0h1m1 0h42m1 0h1m3 0h1m2 0h1m1 0h1m1 0h2m3 0h2m1 0h1m1 0h1m5 0h1m2 0h3m7 0h1m16 0h1m70 0h2m6 0h5m1 0h11m1 0h2m1 0h3m1 0h2m2 0h1m1 0h1m2 0h1m3 0h2m2 0h1m1 0h1m1 0h2m1 0h2m2 0h1m1 0h2m5 0h1m3 0h1m1 0h1m4 0h1m2 0h1m7 0h1m2 0h2m4 0h2m4 0h1m72 0h2m1 0h51m1 0h4m1 0h9m1 0h5m7 0h1m8 0h4m2 0h2m2 0h3m10 0h1M31 85h2m2 0h1m1 0h37m2 0h2m1 0h3m2 0h2m1 0h1m1 0h1m1 0h1m2 0h1m4 0h2m1 0h3m23 0h1m80 0h2m1 0h1m1 0h1m1 0h19m1 0h2m1 0h3m1 0h3m3 0h1m1 0h2m4 0h1m2 0h6m1 0h3m2 0h7m4 0h1m1 0h1m4 0h1m13 0h1m2 0h1m6 0h1m73 0h1m2 0h26m1 0h7m1 0h3m1 0h31m1 0h1m1 0h2m1 0h1m2 0h1m2 0h1m2 0h4m3 0h5m1 0h4M30 86h1m2 0h1m2 0h1m1 0h37m1 0h2m2 0h1m1 0h1m2 0h3m2 0h2m2 0h2m4 0h4m6 0h1m1 0h1m10 0h1m88 0h2m1 0h20m1 0h1m1 0h5m5 0h2m3 0h1m2 0h1m1 0h1m1 0h1m1 0h2m1 0h8m2 0h2m1 0h1m3 0h1m5 0h1m5 0h1m9 0h1m1 0h2m1 0h1m1 0h1m76 0h6m2 0h23m1 0h15m1 0h28m1 0h2m2 0h1m5 0h1m3 0h3m2 0h1m1 0h1m1 0h4m2 0h1M31 87h4m1 0h1m1 0h37m1 0h1m3 0h1m2 0h1m1 0h1m3 0h1m3 0h1m1 0h2m4 0h1m4 0h1m5 0h1m1 0h1m95 0h1m2 0h3m1 0h18m2 0h5m2 0h1m1 0h3m2 0h2m1 0h3m1 0h1m1 0h1m1 0h3m1 0h5m1 0h2m1 0h2m1 0h1m2 0h1m1 0h1m5 0h1m5 0h1m5 0h1m4 0h1m81 0h33m1 0h33m2 0h1m1 0h3m1 0h4m1 0h1m3 0h1m2 0h1m2 0h1m1 0h1m2 0h3m1 0h6m1 0h1m5 0h1M29 88h1m3 0h41m1 0h4m4 0h1m2 0h1m3 0h1m1 0h1m2 0h1m1 0h1m1 0h1m1 0h2m4 0h1m2 0h3m95 0h1m1 0h2m1 0h1m1 0h21m1 0h2m1 0h1m1 0h1m1 0h1m2 0h1m4 0h2m2 0h2m2 0h1m8 0h3m1 0h1m1 0h1m1 0h2m2 0h2m2 0h2m2 0h1m12 0h1m2 0h2m3 0h2m76 0h1m2 0h18m1 0h34m1 0h15m1 0h2m1 0h1m3 0h1m3 0h1m8 0h1m5 0h1m1 0h1m1 0h1m1 0h1M31 89h2m1 0h1m1 0h39m1 0h2m4 0h1m2 0h1m2 0h2m1 0h3m1 0h1m1 0h2m3 0h2m2 0h2m3 0h1m5 0h1m5 0h1m84 0h1m1 0h1m1 0h28m1 0h1m3 0h2m1 0h1m1 0h1m2 0h2m1 0h1m1 0h2m1 0h2m1 0h5m3 0h2m5 0h1m1 0h3m7 0h1m7 0h1m9 0h1m2 0h2m74 0h2m1 0h25m1 0h44m1 0h2m5 0h1m2 0h1m2 0h1m1 0h1m2 0h2m1 0h2m1 0h6m1 0h1M33 90h2m1 0h38m3 0h5m2 0h4m1 0h3m1 0h1m2 0h1m5 0h2m3 0h1m2 0h1m1 0h2m1 0h2m3 0h1m9 0h1m79 0h33m1 0h3m3 0h1m1 0h1m1 0h1m1 0h1m1 0h1m3 0h3m1 0h2m2 0h1m1 0h1m2 0h1m2 0h1m6 0h1m2 0h1m16 0h1m1 0h1m2 0h1m77 0h1m1 0h9m1 0h26m1 0h35m2 0h1m6 0h3m5 0h1m2 0h1m2 0h9m1 0h1M31 91h1m2 0h1m1 0h39m1 0h4m1 0h2m5 0h3m4 0h3m1 0h2m2 0h1m5 0h1m2 0h1m95 0h1m1 0h1m2 0h25m1 0h1m1 0h4m3 0h2m3 0h2m1 0h1m6 0h1m1 0h1m2 0h1m2 0h1m2 0h2m5 0h1m12 0h1m9 0h1m2 0h1m10 0h1m70 0h4m1 0h5m1 0h25m1 0h8m1 0h25m1 0h2m1 0h1m5 0h2m2 0h1m3 0h1m2 0h1m1 0h9M31 92h1m1 0h1m1 0h37m1 0h3m1 0h1m2 0h2m4 0h2m1 0h1m1 0h1m2 0h1m5 0h1m3 0h1m6 0h4m94 0h29m1 0h3m1 0h3m2 0h1m1 0h3m1 0h2m3 0h1m2 0h1m1 0h1m2 0h1m1 0h1m3 0h1m16 0h1m98 0h2m1 0h29m1 0h33m1 0h2m1 0h1m1 0h4m7 0h1m1 0h3m2 0h1m6 0h1m2 0h7M31 93h2m2 0h41m1 0h1m1 0h2m4 0h1m3 0h5m2 0h1m3 0h1m4 0h1m9 0h1m2 0h2m9 0h1m15 0h1m63 0h30m2 0h2m1 0h1m1 0h1m2 0h1m1 0h2m6 0h1m1 0h2m10 0h4m12 0h1m3 0h1m7 0h1m3 0h4m8 0h1m4 0h1m66 0h18m1 0h10m1 0h11m1 0h5m1 0h24m3 0h1m4 0h1m2 0h1m1 0h1m6 0h1m1 0h1m1 0h8m1 0h2M35 94h38m2 0h5m2 0h1m3 0h2m4 0h2m1 0h4m1 0h3m7 0h1m16 0h1m5 0h1m74 0h1m1 0h32m1 0h3m3 0h1m1 0h1m1 0h2m2 0h2m7 0h1m2 0h2m2 0h1m10 0h1m7 0h1m1 0h1m11 0h2m5 0h1m74 0h1m1 0h49m1 0h17m1 0h5m6 0h1m1 0h1m1 0h1m2 0h1m2 0h1m3 0h3m1 0h2m1 0h4m1 0h1M32 95h1m1 0h42m1 0h1m3 0h2m1 0h1m3 0h1m2 0h1m1 0h3m1 0h1m1 0h1m1 0h1m1 0h1m3 0h1m3 0h2m20 0h1m75 0h33m1 0h1m1 0h3m1 0h4m5 0h3m11 0h1m1 0h2m2 0h1m2 0h1m13 0h1m3 0h1m5 0h1m3 0h1m4 0h1m73 0h1m2 0h4m1 0h18m1 0h16m1 0h31m1 0h1m2 0h4m2 0h1m2 0h1m5 0h1m1 0h3m1 0h4m1 0h2m1 0h1M30 96h1m3 0h37m1 0h2m2 0h1m1 0h2m2 0h2m6 0h3m5 0h1m3 0h1m1 0h2m20 0h1m4 0h1m76 0h2m1 0h28m1 0h1m4 0h4m4 0h2m1 0h1m2 0h1m1 0h1m2 0h1m1 0h1m7 0h1m1 0h1m8 0h1m10 0h1m7 0h1m2 0h5m78 0h4m1 0h28m1 0h14m1 0h1m1 0h13m1 0h5m2 0h1m3 0h1m7 0h1m7 0h7m3 0h2M32 97h40m2 0h5m1 0h2m4 0h1m6 0h2m1 0h1m5 0h1m1 0h1m4 0h1m1 0h1m13 0h1m83 0h33m1 0h1m3 0h1m1 0h1m3 0h1m3 0h1m2 0h1m3 0h2m3 0h1m1 0h2m2 0h1m13 0h1m3 0h1m9 0h1m3 0h4m1 0h3m1 0h1m71 0h1m1 0h10m1 0h5m1 0h17m1 0h6m1 0h1m1 0h9m1 0h10m1 0h6m3 0h1m1 0h2m1 0h2m1 0h1m1 0h3m2 0h2m4 0h8m3 0h1M29 98h1m4 0h43m1 0h1m1 0h1m1 0h1m1 0h2m1 0h3m4 0h3m3 0h1m1 0h1m7 0h1m6 0h1m91 0h31m1 0h2m1 0h1m2 0h4m2 0h1m1 0h2m1 0h2m6 0h1m2 0h1m7 0h1m5 0h1m13 0h1m3 0h12m1 0h1m1 0h1m71 0h4m1 0h15m1 0h4m1 0h37m1 0h11m4 0h2m4 0h1m1 0h3m1 0h1m3 0h8m1 0h4M31 99h1m1 0h39m2 0h1m4 0h1m1 0h1m3 0h2m1 0h1m1 0h2m3 0h1m4 0h3m3 0h1m3 0h2m3 0h2m92 0h30m1 0h2m1 0h4m2 0h1m3 0h1m3 0h3m3 0h1m2 0h1m3 0h1m1 0h1m2 0h2m10 0h1m1 0h1m6 0h2m4 0h14m1 0h1m71 0h12m1 0h5m1 0h3m1 0h10m1 0h26m1 0h14m1 0h1m6 0h1m1 0h1m3 0h2m3 0h9m3 0h2M29 100h1m2 0h44m1 0h2m3 0h1m2 0h1m1 0h1m3 0h2m1 0h1m2 0h1m2 0h1m1 0h1m1 0h2m4 0h1m2 0h1m3 0h1m90 0h32m1 0h2m2 0h1m3 0h2m7 0h1m3 0h1m8 0h1m2 0h1m2 0h1m10 0h1m1 0h1m8 0h1m2 0h13m73 0h12m1 0h20m1 0h27m1 0h5m1 0h7m9 0h1m7 0h2m2 0h3m1 0h1m1 0h4M32 101h38m2 0h2m3 0h1m5 0h1m1 0h3m4 0h4m1 0h3m3 0h2m1 0h1m1 0h1m3 0h1m95 0h34m3 0h6m1 0h1m1 0h1m4 0h1m1 0h1m2 0h1m34 0h1m1 0h16m72 0h1m1 0h30m1 0h20m1 0h12m1 0h4m1 0h1m5 0h1m2 0h1m11 0h4m1 0h5m1 0h2m1 0h1M29 102h41m1 0h2m1 0h1m1 0h1m5 0h3m4 0h2m4 0h4m1 0h3m2 0h2m2 0h1m1 0h1m96 0h35m9 0h1m3 0h1m1 0h2m2 0h1m3 0h2m1 0h1m1 0h1m6 0h1m1 0h1m5 0h1m13 0h1m1 0h14m73 0h32m2 0h41m10 0h1m2 0h1m2 0h1m2 0h1m1 0h11M30 103h39m2 0h2m1 0h3m1 0h1m1 0h1m5 0h2m3 0h1m1 0h1m1 0h2m1 0h4m1 0h2m1 0h2m1 0h1m7 0h1m2 0h1m8 0h1m78 0h33m1 0h1m6 0h1m4 0h1m4 0h1m2 0h3m1 0h1m8 0h2m6 0h1m12 0h1m4 0h13m75 0h8m1 0h7m1 0h4m1 0h6m1 0h26m1 0h15m1 0h1m1 0h1m1 0h1m2 0h1m3 0h1m1 0h1m2 0h1m1 0h1m2 0h2m1 0h5m1 0h4M29 104h40m1 0h3m1 0h1m2 0h1m1 0h3m1 0h2m4 0h1m1 0h1m1 0h4m1 0h10m9 0h1m1 0h1m88 0h32m3 0h2m4 0h1m4 0h3m1 0h2m2 0h1m6 0h1m1 0h1m2 0h1m1 0h1m1 0h2m4 0h1m16 0h16m71 0h2m1 0h24m1 0h1m1 0h12m1 0h11m1 0h7m1 0h6m1 0h2m1 0h1m1 0h1m2 0h1m2 0h1m1 0h1m2 0h2m2 0h1m4 0h14M29 105h1m1 0h37m2 0h2m1 0h1m5 0h3m2 0h1m2 0h2m1 0h1m1 0h4m1 0h1m1 0h5m1 0h2m1 0h1m2 0h1m3 0h1m11 0h1m5 0h1m75 0h33m2 0h1m3 0h1m2 0h1m2 0h1m2 0h1m1 0h1m2 0h1m1 0h1m3 0h1m3 0h1m1 0h1m25 0h17m72 0h3m2 0h22m1 0h43m2 0h4m1 0h2m1 0h1m5 0h3m3 0h1m3 0h9m1 0h1M29 106h1m1 0h39m1 0h2m1 0h5m4 0h1m1 0h1m1 0h1m1 0h1m3 0h1m6 0h11m97 0h33m3 0h3m6 0h1m2 0h1m13 0h1m3 0h1m3 0h1m19 0h16m78 0h10m1 0h43m2 0h15m5 0h1m2 0h4m3 0h1m1 0h3m1 0h4m1 0h3m1 0h1M29 107h38m2 0h1m1 0h1m1 0h1m7 0h1m4 0h5m3 0h2m1 0h12m1 0h3m1 0h1m1 0h1m91 0h1m2 0h28m2 0h1m9 0h1m11 0h1m6 0h1m4 0h1m15 0h1m6 0h20m70 0h1m1 0h1m1 0h12m1 0h26m1 0h18m1 0h12m1 0h1m6 0h1m1 0h1m2 0h2m4 0h2m1 0h1m1 0h6m1 0h2M29 108h40m1 0h1m2 0h1m3 0h4m1 0h1m3 0h1m1 0h1m1 0h2m3 0h2m1 0h10m1 0h1m1 0h1m28 0h1m67 0h2m1 0h25m2 0h2m3 0h1m2 0h2m1 0h1m1 0h2m1 0h1m21 0h2m20 0h17m1 0h1m71 0h1m3 0h12m1 0h7m1 0h4m1 0h13m1 0h29m2 0h1m9 0h1m2 0h3m2 0h1m2 0h5m1 0h2m1 0h2M30 109h40m1 0h3m3 0h2m1 0h1m1 0h1m1 0h1m4 0h5m1 0h10m1 0h5m2 0h1m94 0h1m1 0h25m1 0h3m2 0h1m3 0h1m6 0h1m2 0h3m4 0h3m2 0h1m30 0h17m73 0h1m2 0h13m1 0h44m1 0h8m2 0h2m1 0h2m6 0h1m3 0h1m5 0h2m2 0h8M31 110h41m2 0h1m1 0h1m1 0h5m7 0h1m1 0h1m1 0h1m1 0h10m1 0h4m2 0h1m6 0h1m88 0h28m1 0h2m6 0h1m1 0h2m1 0h3m1 0h2m5 0h1m3 0h1m5 0h1m8 0h1m10 0h1m4 0h1m1 0h14m1 0h2m72 0h1m1 0h3m1 0h54m1 0h13m3 0h1m4 0h1m2 0h4m1 0h1m5 0h6m1 0h4m7 0h1M29 111h35m2 0h1m1 0h1m5 0h1m2 0h1m10 0h2m2 0h2m1 0h15m12 0h1m85 0h29m10 0h1m1 0h1m1 0h1m8 0h1m1 0h1m6 0h1m16 0h1m5 0h1m6 0h15m75 0h11m1 0h35m1 0h23m13 0h1m2 0h1m5 0h5m1 0h1m1 0h6m2 0h1M29 112h35m1 0h1m1 0h2m6 0h1m3 0h1m7 0h4m2 0h1m1 0h18m95 0h28m1 0h4m2 0h1m1 0h1m14 0h1m2 0h2m3 0h1m3 0h1m4 0h1m21 0h15m3 0h1m70 0h1m1 0h9m1 0h18m1 0h31m1 0h10m1 0h2m2 0h1m3 0h1m3 0h2m1 0h1m5 0h10M29 113h35m1 0h4m4 0h1m2 0h1m1 0h1m1 0h2m2 0h1m1 0h4m5 0h16m5 0h1m91 0h1m1 0h26m1 0h1m3 0h1m5 0h2m4 0h1m2 0h1m5 0h1m21 0h1m6 0h1m7 0h15m74 0h58m1 0h1m1 0h10m1 0h1m2 0h2m2 0h1m1 0h1m3 0h1m2 0h2m3 0h1m2 0h11m4 0h1M29 114h36m3 0h1m4 0h1m7 0h3m1 0h1m2 0h1m1 0h2m1 0h1m1 0h17m96 0h29m4 0h1m7 0h1m18 0h1m5 0h1m7 0h1m14 0h1m1 0h17m72 0h22m1 0h28m1 0h18m1 0h2m1 0h1m6 0h1m3 0h1m5 0h1m4 0h9m1 0h1M29 115h39m2 0h1m1 0h1m1 0h1m1 0h1m3 0h4m4 0h2m4 0h2m1 0h1m1 0h12m1 0h1m1 0h1m93 0h23m2 0h2m7 0h2m4 0h1m1 0h1m8 0h1m1 0h1m3 0h1m2 0h2m7 0h2m19 0h1m2 0h12m75 0h2m1 0h10m1 0h15m2 0h40m3 0h1m3 0h1m1 0h1m2 0h1m4 0h1m4 0h1m1 0h1m1 0h10M29 116h34m2 0h3m2 0h1m7 0h2m1 0h1m2 0h2m4 0h2m1 0h3m1 0h1m1 0h14m95 0h1m1 0h18m1 0h4m3 0h1m1 0h1m2 0h1m3 0h2m4 0h2m6 0h1m3 0h1m11 0h1m5 0h1m1 0h1m18 0h8m1 0h1m76 0h70m1 0h4m21 0h2m1 0h9m2 0h1M29 117h34m3 0h1m1 0h1m1 0h1m1 0h1m1 0h3m1 0h3m1 0h1m1 0h2m4 0h3m2 0h9m1 0h2m1 0h3m1 0h1m2 0h1m9 0h1m84 0h18m1 0h1m2 0h1m3 0h2m21 0h1m4 0h1m37 0h6m1 0h1m3 0h1m74 0h1m2 0h14m1 0h38m1 0h16m1 0h1m3 0h1m2 0h1m6 0h1m4 0h1m4 0h8m1 0h1M29 118h36m1 0h1m1 0h2m3 0h1m1 0h3m1 0h2m2 0h1m1 0h2m3 0h1m2 0h18m1 0h2m4 0h1m16 0h1m72 0h14m1 0h6m2 0h2m1 0h2m7 0h1m2 0h2m1 0h1m1 0h1m12 0h1m5 0h1m7 0h1m24 0h3m1 0h3m2 0h2m74 0h16m1 0h19m1 0h16m1 0h9m1 0h11m8 0h3m10 0h1m1 0h9M29 119h34m1 0h1m1 0h1m3 0h1m2 0h1m2 0h1m2 0h1m2 0h1m2 0h2m7 0h9m2 0h6m2 0h3m7 0h1m84 0h1m2 0h1m2 0h5m1 0h8m1 0h1m3 0h1m3 0h1m10 0h1m14 0h1m1 0h1m1 0h1m8 0h1m25 0h1m5 0h1m80 0h2m1 0h3m1 0h12m1 0h11m1 0h12m1 0h27m1 0h1m8 0h1m3 0h1m3 0h2m2 0h2m1 0h1m1 0h7M29 120h33m1 0h1m3 0h1m1 0h1m3 0h1m11 0h1m1 0h4m1 0h2m2 0h6m1 0h7m2 0h2m96 0h10m2 0h6m1 0h1m2 0h2m2 0h1m13 0h1m6 0h1m3 0h1m12 0h1m15 0h1m1 0h1m95 0h1m1 0h34m1 0h27m1 0h5m1 0h1m9 0h1m3 0h1m1 0h2m6 0h1m1 0h6m1 0h4M30 121h32m1 0h4m4 0h1m8 0h1m4 0h1m2 0h1m2 0h1m3 0h1m1 0h12m1 0h2m5 0h2m92 0h3m3 0h5m3 0h1m1 0h2m1 0h3m1 0h1m3 0h1m7 0h1m50 0h2m89 0h26m1 0h42m1 0h1m1 0h2m2 0h1m10 0h1m2 0h1m3 0h1m1 0h10M29 122h33m1 0h1m1 0h4m3 0h1m2 0h3m6 0h1m1 0h1m1 0h1m3 0h1m2 0h2m1 0h16m95 0h2m1 0h2m1 0h2m3 0h3m3 0h1m2 0h1m8 0h1m6 0h1m41 0h1m7 0h1m92 0h2m2 0h25m1 0h13m1 0h1m1 0h25m2 0h2m6 0h1m5 0h1m6 0h1m1 0h12M30 123h31m1 0h3m1 0h1m4 0h1m1 0h1m2 0h1m5 0h1m3 0h2m2 0h1m2 0h4m1 0h12m98 0h1m2 0h2m2 0h2m1 0h2m1 0h2m1 0h1m4 0h1m1 0h1m4 0h1m7 0h1m4 0h2m10 0h1m1 0h1m5 0h1m5 0h1m24 0h1m89 0h31m1 0h23m1 0h11m1 0h6m11 0h1m4 0h4m2 0h5m1 0h2m1 0h1M30 124h32m2 0h1m1 0h2m6 0h1m4 0h1m3 0h3m1 0h1m4 0h1m1 0h15m1 0h1m3 0h2m93 0h1m3 0h2m3 0h3m1 0h2m4 0h1m2 0h1m11 0h1m1 0h1m2 0h1m7 0h1m4 0h1m26 0h1m99 0h1m1 0h2m1 0h47m1 0h18m2 0h2m4 0h1m1 0h1m1 0h1m2 0h1m2 0h2m4 0h3m1 0h2m2 0h2m4 0h1M29 125h31m2 0h2m18 0h3m4 0h2m1 0h2m1 0h4m1 0h11m1 0h1m96 0h1m4 0h1m4 0h2m1 0h1m1 0h1m17 0h1m11 0h1m25 0h1m3 0h1m104 0h10m1 0h40m1 0h8m1 0h8m1 0h1m2 0h1m19 0h2m2 0h6m1 0h1M29 126h30m3 0h3m3 0h1m10 0h1m2 0h1m2 0h2m5 0h1m1 0h20m106 0h1m3 0h1m2 0h1m8 0h1m17 0h1m5 0h1m12 0h1m8 0h1m7 0h1m97 0h2m3 0h21m1 0h30m1 0h12m1 0h1m10 0h1m4 0h3m5 0h1m2 0h5m1 0h4M29 127h34m5 0h1m3 0h1m2 0h1m2 0h1m3 0h1m2 0h1m2 0h1m1 0h2m1 0h18m1 0h1m1 0h1m94 0h1m5 0h2m2 0h1m6 0h1m20 0h1m5 0h1m9 0h1m11 0h1m2 0h1m3 0h1m106 0h1m1 0h11m2 0h46m2 0h7m1 0h1m1 0h1m3 0h1m9 0h1m1 0h1m1 0h1m3 0h1m1 0h9m1 0h1m1 0h1M30 128h29m1 0h3m1 0h1m13 0h1m1 0h2m10 0h3m1 0h2m1 0h11m1 0h2m1 0h1m115 0h1m9 0h1m2 0h1m2 0h1m6 0h1m13 0h1m21 0h1m14 0h1m83 0h8m1 0h62m1 0h1m6 0h2m1 0h2m5 0h2m4 0h2m1 0h7m2 0h1M29 129h1m1 0h28m1 0h2m1 0h2m2 0h1m5 0h1m1 0h1m3 0h3m2 0h1m3 0h1m4 0h1m1 0h3m1 0h4m1 0h6m1 0h3m1 0h1m98 0h1m5 0h1m7 0h1m7 0h1m8 0h1m3 0h1m2 0h1m7 0h1m7 0h1m16 0h1m19 0h1m82 0h1m1 0h1m2 0h6m1 0h11m1 0h7m1 0h35m1 0h4m4 0h1m20 0h2m1 0h9M29 130h31m4 0h1m3 0h1m1 0h1m3 0h3m6 0h1m4 0h1m1 0h1m5 0h15m2 0h2m2 0h1m8 0h1m83 0h1m11 0h1m8 0h1m11 0h3m14 0h1m3 0h1m3 0h1m1 0h1m117 0h1m1 0h12m1 0h12m2 0h14m1 0h25m4 0h1m7 0h1m8 0h1m1 0h2m1 0h1m1 0h11M29 131h30m1 0h2m1 0h1m4 0h1m4 0h1m4 0h1m4 0h1m10 0h18m2 0h1m99 0h1m27 0h1m4 0h1m22 0h1m11 0h1m12 0h1m92 0h5m2 0h8m1 0h11m1 0h4m1 0h6m1 0h9m1 0h15m1 0h4m1 0h1m2 0h1m7 0h1m2 0h2m2 0h1m1 0h1m4 0h1m1 0h5m1 0h2m1 0h2M30 132h26m2 0h1m1 0h1m14 0h1m3 0h1m8 0h1m2 0h1m1 0h2m1 0h6m1 0h8m1 0h1m1 0h2m93 0h1m2 0h1m3 0h2m3 0h1m10 0h1m4 0h1m5 0h1m9 0h1m19 0h1m114 0h3m2 0h4m1 0h8m1 0h3m1 0h10m2 0h2m2 0h4m1 0h2m1 0h8m1 0h1m1 0h1m2 0h2m1 0h3m1 0h1m3 0h1m3 0h1m5 0h1m10 0h1m1 0h3m1 0h5m1 0h1m2 0h1M29 133h1m1 0h29m4 0h1m4 0h1m4 0h1m3 0h1m3 0h1m1 0h1m1 0h1m3 0h2m1 0h3m1 0h1m1 0h10m1 0h2m5 0h1m102 0h1m8 0h2m14 0h1m2 0h1m35 0h1M209 188h1m2 0h1m3 0h1m6 0h1m3 0h1m6 0h1m3 0h4m6 0h1m2 0h2m1 0h1m1 0h4m2 0h1m4 0h2m1 0h2m12 0h1m2 0h1m3 0h1m1 0h1m6 0h1M130 189h1m86 0h2m6 0h3m8 0h3m2 0h1m3 0h1m1 0h3m2 0h6m1 0h1m3 0h1m1 0h2m2 0h2m3 0h1m8 0h2m18 0h1m1 0h1m3 0h1m1 0h1m1 0h1m5 0h1M216 190h1m1 0h2m5 0h1m2 0h3m5 0h1m3 0h1m1 0h1m1 0h1m3 0h4m4 0h3m1 0h1m1 0h1m2 0h2m3 0h3m2 0h3m9 0h1m18 0h1m14 0h1M216 191h2m4 0h1m2 0h1m1 0h1m1 0h1m4 0h2m1 0h1m1 0h2m1 0h3m1 0h1m1 0h9m1 0h12m5 0h1m9 0h2m3 0h1m4 0h1m1 0h1m14 0h1m15 0h1M210 192h1m7 0h3m5 0h1m1 0h1m3 0h2m5 0h1m2 0h11m2 0h2m2 0h3m1 0h1m1 0h6m2 0h2m1 0h3m1 0h1m2 0h1m1 0h1m1 0h3m4 0h2m7 0h1m2 0h1m4 0h1M212 193h1m1 0h1m2 0h1m12 0h1m1 0h2m1 0h5m2 0h2m1 0h8m1 0h5m1 0h1m1 0h3m1 0h1m1 0h4m1 0h3m2 0h3m2 0h1m2 0h1m5 0h1m9 0h1m19 0h1m82 0h1M77 194h1m132 0h1m1 0h1m4 0h1m5 0h1m2 0h1m6 0h1m2 0h2m3 0h23m1 0h4m1 0h1m2 0h4m2 0h1m2 0h3m2 0h2m1 0h2m4 0h1m1 0h1m1 0h2m6 0h1m2 0h1m9 0h1m4 0h1m173 0h2M51 195h1m36 0h1m5 0h1m114 0h2m4 0h2m3 0h4m1 0h1m1 0h1m1 0h3m2 0h1m1 0h1m1 0h20m1 0h8m1 0h2m1 0h6m1 0h6m2 0h2m3 0h1m2 0h1m30 0h1m164 0h1M49 196h1m21 0h1m138 0h1m5 0h1m3 0h1m6 0h2m1 0h6m1 0h40m1 0h3m1 0h3m3 0h1m1 0h3m1 0h1m3 0h1m2 0h1m5 0h1m5 0h1m8 0h1m5 0h1m118 0h1m24 0h1M49 197h1m172 0h1m3 0h3m1 0h2m1 0h3m1 0h46m3 0h2m3 0h3m2 0h1m7 0h1m166 0h1M67 198h1m143 0h2m7 0h1m2 0h2m4 0h1m1 0h5m1 0h1m1 0h34m1 0h6m1 0h5m3 0h1m10 0h1m1 0h1m3 0h1m5 0h1m102 0h1M51 199h1m159 0h1m1 0h1m6 0h1m1 0h3m1 0h61m3 0h1m1 0h1m2 0h1m2 0h2m3 0h1m8 0h1m117 0h1M52 200h1m80 0h1m78 0h3m3 0h1m1 0h1m1 0h1m1 0h3m1 0h56m1 0h2m1 0h2m2 0h1m3 0h2m5 0h2m4 0h1m2 0h1M83 201h1m126 0h4m2 0h2m4 0h6m1 0h51m1 0h3m1 0h6m2 0h1m4 0h3m3 0h1m1 0h1m3 0h1m141 0h1m1 0h1M72 202h1m8 0h1m127 0h1m10 0h4m1 0h60m1 0h2m8 0h1m11 0h1m1 0h1m109 0h1m32 0h1m2 0h1m3 0h1M32 203h1m70 0h1m1 0h1m105 0h2m1 0h1m1 0h1m1 0h67m1 0h2m1 0h1m1 0h1m1 0h1m6 0h1m17 0h1m1 0h1m5 0h1m79 0h1m57 0h1M40 204h1m64 0h1m20 0h1m9 0h1m73 0h1m2 0h1m1 0h1m3 0h1m1 0h1m1 0h66m1 0h2m3 0h4m9 0h1m131 0h1m20 0h1m12 0h1m2 0h1m6 0h1M53 205h2m26 0h1m6 0h1m122 0h2m2 0h1m1 0h70m2 0h1m1 0h3m1 0h1m4 0h1m3 0h2m9 0h1m6 0h1m4 0h1m162 0h1M53 206h1m70 0h1m23 0h1m60 0h3m1 0h1m2 0h1m1 0h67m1 0h1m1 0h2m1 0h4m1 0h1m1 0h1m9 0h1m1 0h3m6 0h1m7 0h1m174 0h1M83 207h1m18 0h1m25 0h1m80 0h1m1 0h3m2 0h71m1 0h3m2 0h3m3 0h1m26 0h2m157 0h1M31 208h1m18 0h1m6 0h1m31 0h1m24 0h1m94 0h2m1 0h2m1 0h2m1 0h67m1 0h5m6 0h2m1 0h2m1 0h1m5 0h2m3 0h1m107 0h1m8 0h1m13 0h1m9 0h1M48 209h1m21 0h1m2 0h1m4 0h1m15 0h1m2 0h1m1 0h2m21 0h1m1 0h1m22 0h1m61 0h4m1 0h1m1 0h75m4 0h3m12 0h1m7 0h1m91 0h1m38 0h2m2 0h1m12 0h1m14 0h1M41 210h1m14 0h1m1 0h1m8 0h1m16 0h1m1 0h1m34 0h1m20 0h1m2 0h1m64 0h3m1 0h74m3 0h1m1 0h1m5 0h1m6 0h1m12 0h1m85 0h1m13 0h1m4 0h1m5 0h1m14 0h1m1 0h1m21 0h1m35 0h1M45 211h1m2 0h1m23 0h4m2 0h2m1 0h1m3 0h1m2 0h2m2 0h1m2 0h1m7 0h1m34 0h1m6 0h1m64 0h76m2 0h3m4 0h1m3 0h2m13 0h1m1 0h1m8 0h1m112 0h1m7 0h1m5 0h1m36 0h1M47 212h1m5 0h1m2 0h1m11 0h1m1 0h1m9 0h1m3 0h1m4 0h1m1 0h2m4 0h1m6 0h1m4 0h1m3 0h1m18 0h1m78 0h75m1 0h3m5 0h1m4 0h1m134 0h1m15 0h1m3 0h1m4 0h1m18 0h1M52 213h1m3 0h1m4 0h2m9 0h1m9 0h1m8 0h4m3 0h1m2 0h1m4 0h1m2 0h1m2 0h1m96 0h79m2 0h1m5 0h1m12 0h1m5 0h1m1 0h1m94 0h1m8 0h1m17 0h1m5 0h1m25 0h1m7 0h1M41 214h1m8 0h1m1 0h1m6 0h1m2 0h2m4 0h1m9 0h1m8 0h1m7 0h2m6 0h1m4 0h1m1 0h4m4 0h1m5 0h1m1 0h1m13 0h1m68 0h1m1 0h74m1 0h3m3 0h5m1 0h1m3 0h1m2 0h1m122 0h1m22 0h2m15 0h1m26 0h1m8 0h1M42 215h1m5 0h1m7 0h1m2 0h1m7 0h3m5 0h1m2 0h1m1 0h3m4 0h1m1 0h2m3 0h3m2 0h1m2 0h1m1 0h4m2 0h1m2 0h1m3 0h1m3 0h1m2 0h1m23 0h1m60 0h76m5 0h1m3 0h1m1 0h1m2 0h1m3 0h1m6 0h2m4 0h1m2 0h1m78 0h1m6 0h1m11 0h1m6 0h1m7 0h1m12 0h1m20 0h1m3 0h1m13 0h1M40 216h1m2 0h1m2 0h1m8 0h1m3 0h1m6 0h2m4 0h1m2 0h2m1 0h2m3 0h1m7 0h1m1 0h1m1 0h5m1 0h1m2 0h1m1 0h4m2 0h1m1 0h1m94 0h81m2 0h1m1 0h1m10 0h1m14 0h1m103 0h1m5 0h1m5 0h1m33 0h1m22 0h1M38 217h2m18 0h1m1 0h2m1 0h2m1 0h1m5 0h1m8 0h1m2 0h2m1 0h1m1 0h2m1 0h3m6 0h4m2 0h1m1 0h1m1 0h3m1 0h1m12 0h1m19 0h1m62 0h76m4 0h1m2 0h1m1 0h5m1 0h1m5 0h1m5 0h1m5 0h1m7 0h1m73 0h1m35 0h1m2 0h1m12 0h1m7 0h1m13 0h1M29 218h1m12 0h1m11 0h2m2 0h2m2 0h2m6 0h1m3 0h1m2 0h1m1 0h2m1 0h2m3 0h1m3 0h1m3 0h3m1 0h7m1 0h3m1 0h1m1 0h1m1 0h3m2 0h1m3 0h1m7 0h1m76 0h82m20 0h1m9 0h1m76 0h1m15 0h1m1 0h1m5 0h1m20 0h1m3 0h1m2 0h1m9 0h1m3 0h2m26 0h1M43 219h1m10 0h1m1 0h2m4 0h1m1 0h2m1 0h1m1 0h2m1 0h1m2 0h2m1 0h2m1 0h2m1 0h1m1 0h4m1 0h4m1 0h3m1 0h2m1 0h5m1 0h7m2 0h3m2 0h1m14 0h1m70 0h77m1 0h1m3 0h1m3 0h1m4 0h2m2 0h2m5 0h1m7 0h3m81 0h1m18 0h1m3 0h1m22 0h1m17 0h1m22 0h1M31 220h1m5 0h1m20 0h6m1 0h4m1 0h2m1 0h2m3 0h1m1 0h1m1 0h5m1 0h9m1 0h5m1 0h3m1 0h6m1 0h6m12 0h1m77 0h75m2 0h1m2 0h1m2 0h2m1 0h1m160 0h1m14 0h1m11 0h1m15 0h1m4 0h1M52 221h2m1 0h1m1 0h6m1 0h2m1 0h3m2 0h9m2 0h2m1 0h3m1 0h11m1 0h6m1 0h1m1 0h1m1 0h2m2 0h5m15 0h1m71 0h3m1 0h72m1 0h2m6 0h1m4 0h1m5 0h1m3 0h1m95 0h2m13 0h1m12 0h1m3 0h1m3 0h2m13 0h1m10 0h1m14 0h1m13 0h1M53 222h6m1 0h1m1 0h1m1 0h2m1 0h8m2 0h2m2 0h1m1 0h6m2 0h14m1 0h6m2 0h4m1 0h1m23 0h1m65 0h72m3 0h1m2 0h1m5 0h2m3 0h1m10 0h1m97 0h1m1 0h1m3 0h1m1 0h1m1 0h1m12 0h1m10 0h1m17 0h1m4 0h2m6 0h1M51 223h16m1 0h17m1 0h9m2 0h8m1 0h7m1 0h2m1 0h3m2 0h1m4 0h1m81 0h1m1 0h1m1 0h64m1 0h2m1 0h2m1 0h2m3 0h3m1 0h1m2 0h1m2 0h1m8 0h1m8 0h1m9 0h1m68 0h1m12 0h1m8 0h1m19 0h2m7 0h1m6 0h1m2 0h1m2 0h1m13 0h1m13 0h1m1 0h1m7 0h1m1 0h1M51 224h1m1 0h3m1 0h4m1 0h11m1 0h3m1 0h25m1 0h8m1 0h6m2 0h2m86 0h66m1 0h6m2 0h2m1 0h2m5 0h1m9 0h1m2 0h1m3 0h1m3 0h1m105 0h1m2 0h1m4 0h1m3 0h1m1 0h3m1 0h1m1 0h1m1 0h1m6 0h1m11 0h1m10 0h1m6 0h1M53 225h2m1 0h3m1 0h9m1 0h4m1 0h40m1 0h1m1 0h3m3 0h1m2 0h2m81 0h66m1 0h1m1 0h2m1 0h1m1 0h1m6 0h1m2 0h1m6 0h1m4 0h1m11 0h2m2 0h1m85 0h1m6 0h1m4 0h1m10 0h1m9 0h1m6 0h1m2 0h2m1 0h1m1 0h1m2 0h1m3 0h1m1 0h1m14 0h1m11 0h1m1 0h2m5 0h1M53 226h31m1 0h20m1 0h12m2 0h1m7 0h1m1 0h1m3 0h1m1 0h1m8 0h1m64 0h1m1 0h61m1 0h5m1 0h1m1 0h2m1 0h3m11 0h1m9 0h1m1 0h1m13 0h1m1 0h1m84 0h2m3 0h1m1 0h1m1 0h1m2 0h1m4 0h1m7 0h1m3 0h1m29 0h1m9 0h1m2 0h1m7 0h1m6 0h1M54 227h5m1 0h5m1 0h7m1 0h4m1 0h8m1 0h1m1 0h10m2 0h15m1 0h3m14 0h1m73 0h66m1 0h4m3 0h1m3 0h1m3 0h2m5 0h1m6 0h1m102 0h1m13 0h1m1 0h1m11 0h3m5 0h1m22 0h1m1 0h1m6 0h1M45 228h1m6 0h1m1 0h11m1 0h23m1 0h12m2 0h3m2 0h6m1 0h4m1 0h1m15 0h1m71 0h65m1 0h5m1 0h1m1 0h1m14 0h1m6 0h1m2 0h1m6 0h1m89 0h1m10 0h2m6 0h1m17 0h1m32 0h1m5 0h1M41 229h1m9 0h1m3 0h2m1 0h12m1 0h20m1 0h1m1 0h14m1 0h5m1 0h4m3 0h1m6 0h1m3 0h3m4 0h1m70 0h1m1 0h7m1 0h44m1 0h7m1 0h5m3 0h1m2 0h1m5 0h1m3 0h1m6 0h1m22 0h1m71 0h1m6 0h1m17 0h2m3 0h1m1 0h1m9 0h1m3 0h1m2 0h1m2 0h1m4 0h1m10 0h1m4 0h1m1 0h1m4 0h1m18 0h1m9 0h2M34 230h1m1 0h1m16 0h2m2 0h11m1 0h2m1 0h12m1 0h9m1 0h6m1 0h16m1 0h3m10 0h2m2 0h3m70 0h1m1 0h1m1 0h8m1 0h41m1 0h10m2 0h1m3 0h1m1 0h1m2 0h1m5 0h1m2 0h1m1 0h1m26 0h1m77 0h1m16 0h2m16 0h1m2 0h1m3 0h1m6 0h1m1 0h1m2 0h1m3 0h1m2 0h1m2 0h2m2 0h2m11 0h1m7 0h1m4 0h1m2 0h1m6 0h1M52 231h3m1 0h14m1 0h22m1 0h6m1 0h20m4 0h2m1 0h3m1 0h4m1 0h3m2 0h1m69 0h55m1 0h3m1 0h1m1 0h3m4 0h1m2 0h2m2 0h1m4 0h1m2 0h1m17 0h1m79 0h1m17 0h1m4 0h1m9 0h1m10 0h1m2 0h1m5 0h1m2 0h1m10 0h1m10 0h2m2 0h3m4 0h4m3 0h1M48 232h1m6 0h14m1 0h1m1 0h8m1 0h22m1 0h16m1 0h1m6 0h3m1 0h2m1 0h1m1 0h3m2 0h3m65 0h2m4 0h1m1 0h5m2 0h36m1 0h4m2 0h3m1 0h1m2 0h1m1 0h2m2 0h1m12 0h1m1 0h1m8 0h1m11 0h1m71 0h2m4 0h1m2 0h1m7 0h1m6 0h1m2 0h1m6 0h2m9 0h1m2 0h1m1 0h1m1 0h1m7 0h1m1 0h1m1 0h1m2 0h2m12 0h1m3 0h1m7 0h1m11 0h1M34 233h1m16 0h14m1 0h16m1 0h10m1 0h2m1 0h20m1 0h2m1 0h1m1 0h1m2 0h2m3 0h11m1 0h1m65 0h1m2 0h1m2 0h1m5 0h2m1 0h32m1 0h11m2 0h1m1 0h3m3 0h1m2 0h1m3 0h1m1 0h1m1 0h1m1 0h1m1 0h2m2 0h1m4 0h1m8 0h1m10 0h1m84 0h1m1 0h1m3 0h1m2 0h2m3 0h1m1 0h2m2 0h1m3 0h1m4 0h1m5 0h1m11 0h1m4 0h1m6 0h1m2 0h1m11 0h2m1 0h1m20 0h1M48 234h3m4 0h9m1 0h5m1 0h40m1 0h8m1 0h3m2 0h1m2 0h7m2 0h2m2 0h1m2 0h2m65 0h1m2 0h4m2 0h3m1 0h31m2 0h1m1 0h2m1 0h6m1 0h2m1 0h3m1 0h2m2 0h1m9 0h2m1 0h1m2 0h1m3 0h2m2 0h1m88 0h1m6 0h1m20 0h1m1 0h1m1 0h1m4 0h1m6 0h2m5 0h1m10 0h1m18 0h1m6 0h1m2 0h1m3 0h3m3 0h2m7 0h1M29 235h1m3 0h1m19 0h8m1 0h30m1 0h6m1 0h18m1 0h1m1 0h2m1 0h1m1 0h1m3 0h13m66 0h2m2 0h3m1 0h1m2 0h1m1 0h1m1 0h3m2 0h25m1 0h4m2 0h3m1 0h1m4 0h3m4 0h3m1 0h2m2 0h1m2 0h2m6 0h2m1 0h2m5 0h2m6 0h1m85 0h2m5 0h1m2 0h1m7 0h1m6 0h2m1 0h2m5 0h1m2 0h1m1 0h1m2 0h1m6 0h3m2 0h6m1 0h1m7 0h1m4 0h1m1 0h1m6 0h1m2 0h2m3 0h2m2 0h1M52 236h2m2 0h17m1 0h8m1 0h10m1 0h28m1 0h2m1 0h3m1 0h3m1 0h11m65 0h1m1 0h2m1 0h1m5 0h2m1 0h4m4 0h4m1 0h9m1 0h4m1 0h3m1 0h3m3 0h1m1 0h7m1 0h3m5 0h1m1 0h1m1 0h1m2 0h2m2 0h2m2 0h1m8 0h1m12 0h1m92 0h1m2 0h3m10 0h2m2 0h1m2 0h2m2 0h2m1 0h1m2 0h1m1 0h1m2 0h2m1 0h1m9 0h2m1 0h3m2 0h1m5 0h1m1 0h1m4 0h1m1 0h1m2 0h1m2 0h1m14 0h1M34 237h1m8 0h1m3 0h1m3 0h1m1 0h3m1 0h10m1 0h1m1 0h33m1 0h9m1 0h7m1 0h1m3 0h3m1 0h1m1 0h6m1 0h4m1 0h2m68 0h3m4 0h1m1 0h2m3 0h4m1 0h4m2 0h1m1 0h11m1 0h11m1 0h3m1 0h1m1 0h2m1 0h1m1 0h1m1 0h1m3 0h2m2 0h2m7 0h1m11 0h1m17 0h1m72 0h1m15 0h1m3 0h1m4 0h1m2 0h1m1 0h1m2 0h2m4 0h2m3 0h1m1 0h2m2 0h1m2 0h1m1 0h1m3 0h1m1 0h1m2 0h4m4 0h3m3 0h1m21 0h1M40 238h1m3 0h1m3 0h1m2 0h2m2 0h1m1 0h15m1 0h23m1 0h20m2 0h5m1 0h4m1 0h1m2 0h1m1 0h3m1 0h1m1 0h2m2 0h1m64 0h1m7 0h1m3 0h1m2 0h1m1 0h2m1 0h1m2 0h3m1 0h5m2 0h12m1 0h2m1 0h3m3 0h2m1 0h1m2 0h2m3 0h1m1 0h1m3 0h1m1 0h1m2 0h3m3 0h1m10 0h1m13 0h1m3 0h1m86 0h3m11 0h1m2 0h1m1 0h1m1 0h4m1 0h1m2 0h3m1 0h1m1 0h2m5 0h1m1 0h1m4 0h1m3 0h1m1 0h1m1 0h1m1 0h1m2 0h2m2 0h1m18 0h1m3 0h1m1 0h1m4 0h1M40 239h1m2 0h1m9 0h9m1 0h11m1 0h46m2 0h2m1 0h3m1 0h5m1 0h3m1 0h2m2 0h1m69 0h1m3 0h2m1 0h6m3 0h3m2 0h1m1 0h1m1 0h2m3 0h5m1 0h4m1 0h2m5 0h2m4 0h1m3 0h1m1 0h7m1 0h1m1 0h1m1 0h2m2 0h1m1 0h6m4 0h2m15 0h1m1 0h1m70 0h2m6 0h1m7 0h1m2 0h1m6 0h2m2 0h1m2 0h1m3 0h2m1 0h1m1 0h1m1 0h2m1 0h1m5 0h3m1 0h1m2 0h1m1 0h2m1 0h1m3 0h1m1 0h1m10 0h1m1 0h1m2 0h2m5 0h1m1 0h1m1 0h2m15 0h1M36 240h1m18 0h14m1 0h2m1 0h3m1 0h9m1 0h13m1 0h18m2 0h1m5 0h6m2 0h3m1 0h4m1 0h1m72 0h3m1 0h1m2 0h1m1 0h1m7 0h1m3 0h4m2 0h1m1 0h2m3 0h2m2 0h1m1 0h3m3 0h2m1 0h1m3 0h1m1 0h3m1 0h4m1 0h1m3 0h2m1 0h1m3 0h1m2 0h1m6 0h1m3 0h1m1 0h1m3 0h1m3 0h1m82 0h1m2 0h2m5 0h1m3 0h2m1 0h3m7 0h1m5 0h3m1 0h4m1 0h1m1 0h5m1 0h1m1 0h1m4 0h1m7 0h2m6 0h1m2 0h1m3 0h1m1 0h3m3 0h1m6 0h3m5 0h1m1 0h1M48 241h1m4 0h16m1 0h8m1 0h23m2 0h1m1 0h8m1 0h6m8 0h5m1 0h5m1 0h3m2 0h1m65 0h1m1 0h1m8 0h1m3 0h1m2 0h1m3 0h1m1 0h3m1 0h4m1 0h6m2 0h1m1 0h1m3 0h1m2 0h1m1 0h2m2 0h5m1 0h6m1 0h4m4 0h1m1 0h2m6 0h1m18 0h1m6 0h1m69 0h1m5 0h1m1 0h3m3 0h1m7 0h2m1 0h1m2 0h1m2 0h1m1 0h1m1 0h2m1 0h1m2 0h1m1 0h1m2 0h1m3 0h2m1 0h1m1 0h2m5 0h1m2 0h1m2 0h1m1 0h2m1 0h1m2 0h1m1 0h2m1 0h1m7 0h1m9 0h1m6 0h1M48 242h1m1 0h2m5 0h14m1 0h7m1 0h5m1 0h10m1 0h5m1 0h16m1 0h1m4 0h3m1 0h2m1 0h9m1 0h3m1 0h1m1 0h1m61 0h1m4 0h1m5 0h1m3 0h1m3 0h1m8 0h2m1 0h1m1 0h9m3 0h5m1 0h1m1 0h2m1 0h5m1 0h6m1 0h5m1 0h1m1 0h1m1 0h1m6 0h1m1 0h2m4 0h1m15 0h1m68 0h1m1 0h1m3 0h1m4 0h1m5 0h1m2 0h1m3 0h1m2 0h1m4 0h2m5 0h1m1 0h1m1 0h1m3 0h1m2 0h1m1 0h1m1 0h6m1 0h3m3 0h1m1 0h3m5 0h1m1 0h1m1 0h1m4 0h1m1 0h1m8 0h1m8 0h1m5 0h1m1 0h1M35 243h1m12 0h1m4 0h1m2 0h2m2 0h18m1 0h19m1 0h21m2 0h1m1 0h2m3 0h12m1 0h2m2 0h1m64 0h2m1 0h1m3 0h1m1 0h1m8 0h1m1 0h1m6 0h1m5 0h3m6 0h1m3 0h1m3 0h1m2 0h9m2 0h2m1 0h3m1 0h12m2 0h1m10 0h2m6 0h1m79 0h1m3 0h1m2 0h1m5 0h1m4 0h1m3 0h7m1 0h5m3 0h2m2 0h1m1 0h4m2 0h2m1 0h2m1 0h2m2 0h1m1 0h1m1 0h2m1 0h2m2 0h1m2 0h1m3 0h2m1 0h1m1 0h2m3 0h2m2 0h1M48 244h1m4 0h10m2 0h11m1 0h1m1 0h6m1 0h6m1 0h15m1 0h7m1 0h5m1 0h4m1 0h1m2 0h8m1 0h4m1 0h1m65 0h1m5 0h4m4 0h1m5 0h2m3 0h2m5 0h1m1 0h3m1 0h1m3 0h1m1 0h3m1 0h1m1 0h3m1 0h1m1 0h3m3 0h4m1 0h6m3 0h3m16 0h1m4 0h1m4 0h1m72 0h1m3 0h1m3 0h1m2 0h1m2 0h1m3 0h2m4 0h1m5 0h1m4 0h4m1 0h2m1 0h6m1 0h4m1 0h1m1 0h5m2 0h1m1 0h6m1 0h1m5 0h1m1 0h3m6 0h1m10 0h1m7 0h1m1 0h2M39 245h1m3 0h1m10 0h11m1 0h14m1 0h3m1 0h2m2 0h20m1 0h8m1 0h2m3 0h1m1 0h1m1 0h3m2 0h1m1 0h2m1 0h2m2 0h3m1 0h2m64 0h3m4 0h1m5 0h1m2 0h1m2 0h1m1 0h1m1 0h1m1 0h1m3 0h1m2 0h2m1 0h1m2 0h3m1 0h1m4 0h4m1 0h1m2 0h24m1 0h1m3 0h1m1 0h2m1 0h1m9 0h1m81 0h1m3 0h1m1 0h1m4 0h1m3 0h2m4 0h1m3 0h1m1 0h1m2 0h2m1 0h4m1 0h1m1 0h2m2 0h3m2 0h1m1 0h1m1 0h5m1 0h3m2 0h4m1 0h3m7 0h1m1 0h1m4 0h1m3 0h2m2 0h1m2 0h2m16 0h1M45 246h1m2 0h1m4 0h2m4 0h3m1 0h52m1 0h6m4 0h7m1 0h3m1 0h1m4 0h3m67 0h1m1 0h1m6 0h1m3 0h2m6 0h1m1 0h2m1 0h1m1 0h1m1 0h7m1 0h1m2 0h2m1 0h1m2 0h1m1 0h11m1 0h14m1 0h1m1 0h2m1 0h2m6 0h1m11 0h1m3 0h1m72 0h1m3 0h1m1 0h2m1 0h2m3 0h1m3 0h1m3 0h2m3 0h1m1 0h3m2 0h2m2 0h5m2 0h1m2 0h2m1 0h2m1 0h5m1 0h4m2 0h1m2 0h2m1 0h1m1 0h2m1 0h2m2 0h4m3 0h2m7 0h1m12 0h1M29 247h1m22 0h1m3 0h1m1 0h63m2 0h1m1 0h1m2 0h7m1 0h4m2 0h1m69 0h1m5 0h1m7 0h2m5 0h1m2 0h1m2 0h2m1 0h1m1 0h1m6 0h2m3 0h1m4 0h1m1 0h23m1 0h2m2 0h1m6 0h1m6 0h3m2 0h1m8 0h1m74 0h1m7 0h1m5 0h2m2 0h1m3 0h2m3 0h2m1 0h1m4 0h3m1 0h4m1 0h1m2 0h2m1 0h1m3 0h14m1 0h1m3 0h1m2 0h1m1 0h1m25 0h1M40 248h1m12 0h2m2 0h12m1 0h4m1 0h5m1 0h3m1 0h2m1 0h5m2 0h16m1 0h7m1 0h2m1 0h5m1 0h13m1 0h2m64 0h1m7 0h1m10 0h1m1 0h1m3 0h1m1 0h1m3 0h1m1 0h1m2 0h1m2 0h1m2 0h3m5 0h2m1 0h7m1 0h10m1 0h11m3 0h1m4 0h1m1 0h1m7 0h1m17 0h1m76 0h1m10 0h2m1 0h1m2 0h3m2 0h7m1 0h1m1 0h1m2 0h2m1 0h12m1 0h1m1 0h3m1 0h1m1 0h3m1 0h3m5 0h1m1 0h1m1 0h1m4 0h3m6 0h2m2 0h1M52 249h1m6 0h7m2 0h7m1 0h22m2 0h5m1 0h14m1 0h1m1 0h1m2 0h3m1 0h10m1 0h1m1 0h1m3 0h1m66 0h2m1 0h1m2 0h1m3 0h1m4 0h1m5 0h4m1 0h1m2 0h4m2 0h5m1 0h3m1 0h6m1 0h27m1 0h1m1 0h1m1 0h1m4 0h1m4 0h3m5 0h1m7 0h1m67 0h1m3 0h2m4 0h2m6 0h1m2 0h2m1 0h3m1 0h3m1 0h2m1 0h2m1 0h1m1 0h1m1 0h4m1 0h2m1 0h1m2 0h3m1 0h1m2 0h1m1 0h7m1 0h3m1 0h2m3 0h1m1 0h1m4 0h1m10 0h1m5 0h1m4 0h2m3 0h1M37 250h1m6 0h1m10 0h2m2 0h28m1 0h1m1 0h12m1 0h10m2 0h2m1 0h1m1 0h1m1 0h1m1 0h6m1 0h1m1 0h10m1 0h1m71 0h1m1 0h1m8 0h1m3 0h3m2 0h1m2 0h1m3 0h2m1 0h2m1 0h2m1 0h1m4 0h6m1 0h18m1 0h1m1 0h6m1 0h1m2 0h2m2 0h1m2 0h1m1 0h2m4 0h1m80 0h1m1 0h1m4 0h1m9 0h3m4 0h1m2 0h2m1 0h4m1 0h2m1 0h1m1 0h6m1 0h3m1 0h16m1 0h1m2 0h1m1 0h2m2 0h1m5 0h3m4 0h2m3 0h1m3 0h1m11 0h1M54 251h1m2 0h6m1 0h10m1 0h3m1 0h6m1 0h5m1 0h3m1 0h12m1 0h5m2 0h9m1 0h1m1 0h9m1 0h4m3 0h2m63 0h2m5 0h1m11 0h3m1 0h5m1 0h5m1 0h1m2 0h1m2 0h1m1 0h5m1 0h27m1 0h3m1 0h1m2 0h1m12 0h1m2 0h1m6 0h1m1 0h1m69 0h1m3 0h1m3 0h3m2 0h4m5 0h3m2 0h2m1 0h1m3 0h3m1 0h4m1 0h1m2 0h19m1 0h1m1 0h2m1 0h1m1 0h5m1 0h1m4 0h2m12 0h1m5 0h1m2 0h1M38 252h1m12 0h1m2 0h2m1 0h2m1 0h20m1 0h20m1 0h7m1 0h10m1 0h1m2 0h1m1 0h1m1 0h1m1 0h2m2 0h6m1 0h2m1 0h3m69 0h1m5 0h1m4 0h1m2 0h3m1 0h4m1 0h2m1 0h3m3 0h1m1 0h1m2 0h14m1 0h16m2 0h2m1 0h2m5 0h2m4 0h1m11 0h1m12 0h1m61 0h2m3 0h1m7 0h1m1 0h1m3 0h1m1 0h1m2 0h2m1 0h2m2 0h2m1 0h5m1 0h1m1 0h15m2 0h9m1 0h4m1 0h5m1 0h3m1 0h2m1 0h1m2 0h1m1 0h1m3 0h2m4 0h2m4 0h2M48 253h1m6 0h4m1 0h17m2 0h8m1 0h21m1 0h9m1 0h1m2 0h1m1 0h1m3 0h3m1 0h1m1 0h6m1 0h2m3 0h1m62 0h2m2 0h1m1 0h1m2 0h1m3 0h3m2 0h1m2 0h1m6 0h1m1 0h1m1 0h1m1 0h5m1 0h2m1 0h6m2 0h29m1 0h1m1 0h1m3 0h2m5 0h1m1 0h1m2 0h1m81 0h2m2 0h1m1 0h1m1 0h1m1 0h1m1 0h2m2 0h1m4 0h2m1 0h1m2 0h3m1 0h8m1 0h20m1 0h9m1 0h4m1 0h2m1 0h1m2 0h1m4 0h3m1 0h4m1 0h1m2 0h1m4 0h1m8 0h1m3 0h1M36 254h1m19 0h6m2 0h13m1 0h3m1 0h18m1 0h10m1 0h6m1 0h2m5 0h2m1 0h1m1 0h8m1 0h1m1 0h1m78 0h1m2 0h1m2 0h2m1 0h1m1 0h1m3 0h4m4 0h5m1 0h4m1 0h1m2 0h2m2 0h23m1 0h3m2 0h1m2 0h1m4 0h1m7 0h1m2 0h1m82 0h1m3 0h1m1 0h1m7 0h1m1 0h1m1 0h1m3 0h2m4 0h3m1 0h6m1 0h8m1 0h19m1 0h7m4 0h2m1 0h1m1 0h1m4 0h2m7 0h1m4 0h1m8 0h1M33 255h1m3 0h1m2 0h1m16 0h11m1 0h4m1 0h9m1 0h5m1 0h2m1 0h2m1 0h16m1 0h7m1 0h3m2 0h1m2 0h7m1 0h5m1 0h2m64 0h1m2 0h1m10 0h3m1 0h1m5 0h1m1 0h1m2 0h4m2 0h3m1 0h3m4 0h5m1 0h15m1 0h6m3 0h4m3 0h1m3 0h1m4 0h1m88 0h1m1 0h1m6 0h1m1 0h6m2 0h4m1 0h2m1 0h4m1 0h13m1 0h19m1 0h5m1 0h1m2 0h2m1 0h1m2 0h3m1 0h1m5 0h1m3 0h1M40 256h1m3 0h1m1 0h1m8 0h1m2 0h2m1 0h11m1 0h11m1 0h1m1 0h3m1 0h6m1 0h3m1 0h14m1 0h2m2 0h2m3 0h3m1 0h1m2 0h2m3 0h5m1 0h2m2 0h1m62 0h1m1 0h1m5 0h1m4 0h1m10 0h3m1 0h1m2 0h1m1 0h1m1 0h1m1 0h1m4 0h5m2 0h21m1 0h1m1 0h1m1 0h1m5 0h1m1 0h2m4 0h1m2 0h1m4 0h1m3 0h1m78 0h1m3 0h2m1 0h1m1 0h2m3 0h1m1 0h2m1 0h1m1 0h1m2 0h4m1 0h2m1 0h13m1 0h22m1 0h1m1 0h4m2 0h2m4 0h1m2 0h3m1 0h1m3 0h1m4 0h1m1 0h1m6 0h1m1 0h1M35 257h1m2 0h2m8 0h1m5 0h2m1 0h16m1 0h6m1 0h24m1 0h15m2 0h1m1 0h1m1 0h1m1 0h3m4 0h9m1 0h1m69 0h1m3 0h2m2 0h2m2 0h1m1 0h1m1 0h5m3 0h2m4 0h1m2 0h10m2 0h19m1 0h4m2 0h1m3 0h1m6 0h2m1 0h1m1 0h1m1 0h1m6 0h1m76 0h1m2 0h1m4 0h1m4 0h3m2 0h3m1 0h1m1 0h9m1 0h3m2 0h2m1 0h30m2 0h6m2 0h2m3 0h2m1 0h1m1 0h2m2 0h1m6 0h1M37 258h1m16 0h2m1 0h2m1 0h12m1 0h6m1 0h4m1 0h13m1 0h7m1 0h9m1 0h2m1 0h1m1 0h1m1 0h3m3 0h4m1 0h9m2 0h3m61 0h1m6 0h1m2 0h2m2 0h2m1 0h2m3 0h1m3 0h2m1 0h1m1 0h1m2 0h4m1 0h5m1 0h1m2 0h26m3 0h2m5 0h1m3 0h1m3 0h1m1 0h1m89 0h2m4 0h1m1 0h1m1 0h1m1 0h1m4 0h2m1 0h4m1 0h3m1 0h44m1 0h6m1 0h3m4 0h1m3 0h2m3 0h2m2 0h1m2 0h1m7 0h2M35 259h1m3 0h1m7 0h3m6 0h4m1 0h25m1 0h7m1 0h4m1 0h12m1 0h7m1 0h2m1 0h6m1 0h6m1 0h1m1 0h1m1 0h4m64 0h1m3 0h1m2 0h1m1 0h1m2 0h2m5 0h1m1 0h2m1 0h2m3 0h1m2 0h2m2 0h1m3 0h2m2 0h1m3 0h1m1 0h1m1 0h14m1 0h2m2 0h1m1 0h3m5 0h1m2 0h1m1 0h1m6 0h1m3 0h1m83 0h1m3 0h2m2 0h1m2 0h1m1 0h2m1 0h1m2 0h2m2 0h2m2 0h9m1 0h35m2 0h4m2 0h2m1 0h1m1 0h2m3 0h1m3 0h1m1 0h2m1 0h1m10 0h1M30 260h1m7 0h1m4 0h1m7 0h1m6 0h1m2 0h8m1 0h18m1 0h22m1 0h2m1 0h6m4 0h2m1 0h1m1 0h3m1 0h12m1 0h1m66 0h1m1 0h2m3 0h2m5 0h2m2 0h6m1 0h1m2 0h5m1 0h2m2 0h1m2 0h3m1 0h4m1 0h15m1 0h4m1 0h1m1 0h1m6 0h1m16 0h1m6 0h1m6 0h1m67 0h2m1 0h1m4 0h1m2 0h2m1 0h1m2 0h1m2 0h7m1 0h46m1 0h3m5 0h3m3 0h1m4 0h1m3 0h1m2 0h1m7 0h1m1 0h1M30 261h1m2 0h1m8 0h1m5 0h1m2 0h1m1 0h2m3 0h1m2 0h8m1 0h14m1 0h9m2 0h22m1 0h2m5 0h6m2 0h4m1 0h1m2 0h1m2 0h1m64 0h1m6 0h1m1 0h1m4 0h1m3 0h1m1 0h11m1 0h3m2 0h1m2 0h4m2 0h2m1 0h4m1 0h8m1 0h7m1 0h3m1 0h1m12 0h1m7 0h1m84 0h1m5 0h1m1 0h1m2 0h1m2 0h1m1 0h1m1 0h5m1 0h6m1 0h1m1 0h43m1 0h1m3 0h1m2 0h2m1 0h2m1 0h1m2 0h1M48 262h1m5 0h1m3 0h1m1 0h1m3 0h21m1 0h5m1 0h4m1 0h11m1 0h6m1 0h2m1 0h1m3 0h5m2 0h4m2 0h10m64 0h1m3 0h1m5 0h1m1 0h2m1 0h3m1 0h18m1 0h1m3 0h2m1 0h2m2 0h1m1 0h15m1 0h1m2 0h1m1 0h1m5 0h2m1 0h1m1 0h1m1 0h1m20 0h1m75 0h2m4 0h2m2 0h1m2 0h1m3 0h3m3 0h48m1 0h2m1 0h3m1 0h1m1 0h1m1 0h1m1 0h1m3 0h1m4 0h1m1 0h2m7 0h1m1 0h1M30 263h1m14 0h1m1 0h1m4 0h1m5 0h2m2 0h10m1 0h17m1 0h21m2 0h7m8 0h5m2 0h3m2 0h4m1 0h1m65 0h1m4 0h2m2 0h4m1 0h22m1 0h3m3 0h5m2 0h5m1 0h3m1 0h1m1 0h5m1 0h1m1 0h1m2 0h1m1 0h2m4 0h1m6 0h1m2 0h1m90 0h1m1 0h2m1 0h1m4 0h3m2 0h1m1 0h2m1 0h50m2 0h3m2 0h2m2 0h1m3 0h2m4 0h4m1 0h2m1 0h1m10 0h1m1 0h1M30 264h1m10 0h1m12 0h1m1 0h1m1 0h2m1 0h3m1 0h56m1 0h3m2 0h3m2 0h1m1 0h8m1 0h2m2 0h2m66 0h3m1 0h32m1 0h1m1 0h1m1 0h1m2 0h5m1 0h3m1 0h1m1 0h3m2 0h3m1 0h2m1 0h1m2 0h2m1 0h2m4 0h1m4 0h1m13 0h1m74 0h1m5 0h1m2 0h1m2 0h1m1 0h3m1 0h3m1 0h55m1 0h4m1 0h1m1 0h4m4 0h1m3 0h1m10 0h1M30 265h1m23 0h1m1 0h1m1 0h1m2 0h8m1 0h48m1 0h2m1 0h1m1 0h1m2 0h1m1 0h8m1 0h3m1 0h5m1 0h1m61 0h1m4 0h4m2 0h27m1 0h1m1 0h6m1 0h2m2 0h4m1 0h1m1 0h3m1 0h1m2 0h2m1 0h1m2 0h1m1 0h1m1 0h1m1 0h1m2 0h2m17 0h1m1 0h1m78 0h2m1 0h6m1 0h5m2 0h2m1 0h1m1 0h50m1 0h6m1 0h4m1 0h1m1 0h1m2 0h1m3 0h2m6 0h1M36 266h1m7 0h1m9 0h1m1 0h1m3 0h9m1 0h5m1 0h29m1 0h2m1 0h1m1 0h3m2 0h3m3 0h1m1 0h4m1 0h9m1 0h3m1 0h5m65 0h40m1 0h6m2 0h3m1 0h4m2 0h1m2 0h1m1 0h3m2 0h1m4 0h1m6 0h1m13 0h1m1 0h2m2 0h1m76 0h2m2 0h1m3 0h5m2 0h67m4 0h2m1 0h1m2 0h3m1 0h1m2 0h1m3 0h1m6 0h1M30 267h1m15 0h1m10 0h2m2 0h3m1 0h50m1 0h2m3 0h2m2 0h6m2 0h3m2 0h2m1 0h2m1 0h2m2 0h1m61 0h1m4 0h40m1 0h3m1 0h2m1 0h2m3 0h2m1 0h3m1 0h1m6 0h2m3 0h1m2 0h1m2 0h1m11 0h1m3 0h1m1 0h2m78 0h1m1 0h2m1 0h7m1 0h2m1 0h1m1 0h56m1 0h1m1 0h4m1 0h1m1 0h1m1 0h1m3 0h1m1 0h1m2 0h1m7 0h1m1 0h1m8 0h1M35 268h1m15 0h1m4 0h1m4 0h8m1 0h31m1 0h1m2 0h5m3 0h8m2 0h1m1 0h16m1 0h2m3 0h1m63 0h1m2 0h44m1 0h4m5 0h1m2 0h1m1 0h2m1 0h1m1 0h2m8 0h1m7 0h1m10 0h1m1 0h3m2 0h1m6 0h1m67 0h2m1 0h2m3 0h2m2 0h2m1 0h4m1 0h3m1 0h57m1 0h2m1 0h1m2 0h3m1 0h2m2 0h1m3 0h1m16 0h1M33 269h1m6 0h1m21 0h50m3 0h1m1 0h1m4 0h1m3 0h1m1 0h3m1 0h2m2 0h1m1 0h2m1 0h1m1 0h2m1 0h2m62 0h3m1 0h42m8 0h1m1 0h1m1 0h2m2 0h1m1 0h2m5 0h2m3 0h1m5 0h1m2 0h1m7 0h9m8 0h1m69 0h2m2 0h1m1 0h2m1 0h8m1 0h62m1 0h1m9 0h1m2 0h1m10 0h1m4 0h1m5 0h1M33 270h1m26 0h3m1 0h41m1 0h2m2 0h2m1 0h1m6 0h1m1 0h1m3 0h1m1 0h12m1 0h1m1 0h2m1 0h1m65 0h47m1 0h1m5 0h2m2 0h1m1 0h1m6 0h1m6 0h1m4 0h1m4 0h1m1 0h1m5 0h2m2 0h6m8 0h1m68 0h2m1 0h1m1 0h7m1 0h58m1 0h5m3 0h2m1 0h4m7 0h1m4 0h1m7 0h1m3 0h1M44 271h2m8 0h1m2 0h1m2 0h1m2 0h47m1 0h3m1 0h1m1 0h1m1 0h1m1 0h1m2 0h1m2 0h1m1 0h3m1 0h9m1 0h3m2 0h1m62 0h43m4 0h1m1 0h5m6 0h1m25 0h1m6 0h10m2 0h1m72 0h1m1 0h1m1 0h1m2 0h2m2 0h1m1 0h4m1 0h63m4 0h1m6 0h1m1 0h2m3 0h2m2 0h1m5 0h1m2 0h2M36 272h1m8 0h1m1 0h1m14 0h53m1 0h2m6 0h2m1 0h5m1 0h4m1 0h7m65 0h47m1 0h1m1 0h1m1 0h1m1 0h1m2 0h1m4 0h1m2 0h3m8 0h1m4 0h1m6 0h1m2 0h1m1 0h12m74 0h1m3 0h3m1 0h71m1 0h2m1 0h2m3 0h1m1 0h1m18 0h1m1 0h1M37 273h1m5 0h1m9 0h1m7 0h55m1 0h1m2 0h1m4 0h1m1 0h21m62 0h1m1 0h46m1 0h1m2 0h1m2 0h1m1 0h3m3 0h1m1 0h1m3 0h1m2 0h2m18 0h15m72 0h1m2 0h2m1 0h69m1 0h5m1 0h2m8 0h2m1 0h1m8 0h1m2 0h2m3 0h1m6 0h1M33 274h1m10 0h1m8 0h1m3 0h5m1 0h55m2 0h1m1 0h1m1 0h3m1 0h9m1 0h2m2 0h2m1 0h1m1 0h1m62 0h45m1 0h4m1 0h2m1 0h6m3 0h1m2 0h2m1 0h3m5 0h1m7 0h1m1 0h1m4 0h14m73 0h1m1 0h78m3 0h4m1 0h1m2 0h1m1 0h2m2 0h1m1 0h1m4 0h1m12 0h1M35 275h1m7 0h2m11 0h1m1 0h57m1 0h2m7 0h23m61 0h44m2 0h3m1 0h2m1 0h1m2 0h1m3 0h1m3 0h2m20 0h1m4 0h1m1 0h14m73 0h7m1 0h4m1 0h69m1 0h1m3 0h2m6 0h1m2 0h1m5 0h2m2 0h1m6 0h1M46 276h1m13 0h61m2 0h1m1 0h6m1 0h1m1 0h9m1 0h1m1 0h2m61 0h44m1 0h1m1 0h1m1 0h2m2 0h1m1 0h2m3 0h1m3 0h1m2 0h6m2 0h1m3 0h1m8 0h1m2 0h14m1 0h1m73 0h1m1 0h3m1 0h70m1 0h1m1 0h1m1 0h2m4 0h1m8 0h2m1 0h1m8 0h1M29 277h1m28 0h2m2 0h1m1 0h52m1 0h2m5 0h21m2 0h1m61 0h46m3 0h1m2 0h2m3 0h1m1 0h3m1 0h1m2 0h1m6 0h1m18 0h13m76 0h6m1 0h65m1 0h1m1 0h2m1 0h1m1 0h3m1 0h1m1 0h1m5 0h2m1 0h1m6 0h1m2 0h1m8 0h1M42 278h1m8 0h2m1 0h2m1 0h1m3 0h1m1 0h57m2 0h1m2 0h8m1 0h13m1 0h1m60 0h45m1 0h2m1 0h6m1 0h2m6 0h1m11 0h1m8 0h1m1 0h2m2 0h14m76 0h3m1 0h1m2 0h66m2 0h1m1 0h1m2 0h1m1 0h2m9 0h1M45 279h1m6 0h1m1 0h1m1 0h1m1 0h2m1 0h73m1 0h4m1 0h2m3 0h2m1 0h1m60 0h48m1 0h1m3 0h7m1 0h1m1 0h1m6 0h1m21 0h13m1 0h2m72 0h77m1 0h2m5 0h1m1 0h1m4 0h2m6 0h2m1 0h1m3 0h1m2 0h1M45 280h1m11 0h2m1 0h85m2 0h2m60 0h46m1 0h1m1 0h1m2 0h1m1 0h1m1 0h1m3 0h1m2 0h3m23 0h1m1 0h13m76 0h2m1 0h2m1 0h2m1 0h64m1 0h9m1 0h1m2 0h1m2 0h1m9 0h2m3 0h1M51 281h1m1 0h3m3 0h87m1 0h1m61 0h46m1 0h1m1 0h1m4 0h1m3 0h4m3 0h1m5 0h1m1 0h1m10 0h1m5 0h15m2 0h1m5 0h1m66 0h79m2 0h5m2 0h1m6 0h1m4 0h2m12 0h1M52 282h1m1 0h1m1 0h87m1 0h5m60 0h47m2 0h1m6 0h1m5 0h1m8 0h3m10 0h1m3 0h1m1 0h17m74 0h78m3 0h1m1 0h2m3 0h1m4 0h1m1 0h4m16 0h1M35 283h1m8 0h1m6 0h4m1 0h1m1 0h87m1 0h1m62 0h45m2 0h1m1 0h2m1 0h1m2 0h1m1 0h1m3 0h3m5 0h1m1 0h1m18 0h16m74 0h78m1 0h2m1 0h1m1 0h1m2 0h1m1 0h1m3 0h2m1 0h2m2 0h3m4 0h1m4 0h1M30 284h1m1 0h1m4 0h1m4 0h1m2 0h1m1 0h1m1 0h3m1 0h96m60 0h48m5 0h1m3 0h1m5 0h1m3 0h2m2 0h1m6 0h1m1 0h1m7 0h17m2 0h1m72 0h2m1 0h4m1 0h61m1 0h4m1 0h6m1 0h2m1 0h2m9 0h3m1 0h1m1 0h2M38 285h2m7 0h1m1 0h1m3 0h96m60 0h45m1 0h1m2 0h1m2 0h1m1 0h1m2 0h1m2 0h1m2 0h1m9 0h2m7 0h1m5 0h17m78 0h66m1 0h1m1 0h2m1 0h1m1 0h3m1 0h1m2 0h1m3 0h2m2 0h1m1 0h8M37 286h1m3 0h1m1 0h1m1 0h1m1 0h4m1 0h97m60 0h48m3 0h1m3 0h1m31 0h2m1 0h14m76 0h1m1 0h2m1 0h66m1 0h1m4 0h2m1 0h1m2 0h1m8 0h11m2 0h2M33 287h1m9 0h1m2 0h1m4 0h98m60 0h42m1 0h1m2 0h1m2 0h2m1 0h1m1 0h1m1 0h1m5 0h1m1 0h1m22 0h15m78 0h67m1 0h1m2 0h2m1 0h3m2 0h2m1 0h1m10 0h7m1 0h3m14 0h1M40 288h1m1 0h1m1 0h5m1 0h99m60 0h43m3 0h1m3 0h1m2 0h1m1 0h1m2 0h1m3 0h1m3 0h1m2 0h1m18 0h14m79 0h66m1 0h7m1 0h1m1 0h3m8 0h3m1 0h1m1 0h8M29 289h1m7 0h1m2 0h1m2 0h1m1 0h2m2 0h100m60 0h42m1 0h2m7 0h1m3 0h1m21 0h1m8 0h16m77 0h2m1 0h1m1 0h1m1 0h64m2 0h2m4 0h1m1 0h2m6 0h4m2 0h8m3 0h1M29 290h1m1 0h1m1 0h2m2 0h2m3 0h2m2 0h103m60 0h44m2 0h2m4 0h1m5 0h1m6 0h2m10 0h1m9 0h1m1 0h10m81 0h4m1 0h65m1 0h3m3 0h1m2 0h1m11 0h13m1 0h1M31 291h2m1 0h1m2 0h9m1 0h102m60 0h43m14 0h1m2 0h1m3 0h1m11 0h1m5 0h1m4 0h14m79 0h60m1 0h4m1 0h6m4 0h2m3 0h1m1 0h2m3 0h1m1 0h2m3 0h10m2 0h1M31 292h1m1 0h1m2 0h1m1 0h6m1 0h104m60 0h41m2 0h1m2 0h1m2 0h2m3 0h1m2 0h1m2 0h1m6 0h1m4 0h1m15 0h1m1 0h8m1 0h1m1 0h1m1 0h1m76 0h2m1 0h2m1 0h61m2 0h4m1 0h2m1 0h1m2 0h1m3 0h1m7 0h13m1 0h1m3 0h1M31 293h1m1 0h1m1 0h114m60 0h40m2 0h1m3 0h2m1 0h1m1 0h1m1 0h1m12 0h1m4 0h1m7 0h1m9 0h1m1 0h7m3 0h1m78 0h1m2 0h61m2 0h2m6 0h1m2 0h1m3 0h1m5 0h1m1 0h1m1 0h13m3 0h1M29 294h5m1 0h114m62 0h35m2 0h1m1 0h1m2 0h1m9 0h1m3 0h1m16 0h1m4 0h1m7 0h1m1 0h7m1 0h1m81 0h1m1 0h2m1 0h60m2 0h4m1 0h2m6 0h1m10 0h16M30 295h7m1 0h111m60 0h2m2 0h31m1 0h3m1 0h1m25 0h1m5 0h2m9 0h1m8 0h2m1 0h2m83 0h63m2 0h2m1 0h1m2 0h1m4 0h1m3 0h1m2 0h1m9 0h13m1 0h1m1 0h1M29 296h1m1 0h118m61 0h3m1 0h2m1 0h25m2 0h2m6 0h1m2 0h1m8 0h1m25 0h1m29 0h1m68 0h7m1 0h53m1 0h1m2 0h1m1 0h1m1 0h2m1 0h4m4 0h1m4 0h1m5 0h11m2 0h2M29 297h120m61 0h2m2 0h2m1 0h17m1 0h2m1 0h4m1 0h2m5 0h1m2 0h1m3 0h2m17 0h1m7 0h1m14 0h1m3 0h1m85 0h3m1 0h59m3 0h1m1 0h1m2 0h1m1 0h2m2 0h2m1 0h1m3 0h3m4 0h3m1 0h10M29 298h120m61 0h1m3 0h3m4 0h3m1 0h1m1 0h1m2 0h1m1 0h1m1 0h2m2 0h2m2 0h1m2 0h1m6 0h1m10 0h1m14 0h1m13 0h2m95 0h60m1 0h1m1 0h6m1 0h2m4 0h1m4 0h1m8 0h15m1 0h1M29 299h120m65 0h1m2 0h1m1 0h1m1 0h5m1 0h2m2 0h1m2 0h2m4 0h1m2 0h1m1 0h1m17 0h1m9 0h1m9 0h1m1 0h1m2 0h1m7 0h1m7 0h1m4 0h1m80 0h54m2 0h3m1 0h8m1 0h2m4 0h1m2 0h1m11 0h1m2 0h10m2 0h1M29 300h120m70 0h2m4 0h2m1 0h1m3 0h2m11 0h1m6 0h1m15 0h1m10 0h1m7 0h1m2 0h1m98 0h1m3 0h1m1 0h57m2 0h2m2 0h2m1 0h1m3 0h1m12 0h1m1 0h3m1 0h9m1 0h1M29 301h120m70 0h1m2 0h1m3 0h1m1 0h1m1 0h1m4 0h1m7 0h2m8 0h1m3 0h1m12 0h1m4 0h1m42 0h1m70 0h54m1 0h4m3 0h4m1 0h3m1 0h1m6 0h1m10 0h2m1 0h10m1 0h2m3 0h1M29 302h120m62 0h1m7 0h1m1 0h2m8 0h1m3 0h2m4 0h1m3 0h1m8 0h1m9 0h1m1 0h1m1 0h1m2 0h1m2 0h1m7 0h1m106 0h2m1 0h53m1 0h3m1 0h2m1 0h2m2 0h3m2 0h1m4 0h1m2 0h1m1 0h1m8 0h14M29 303h120m78 0h1m20 0h1m6 0h1m9 0h1m1 0h1m4 0h1m25 0h1m10 0h1m79 0h49m1 0h8m7 0h1m4 0h1m17 0h1m3 0h13M29 304h120m79 0h1m21 0h1m4 0h1m14 0h1m118 0h2m1 0h6m1 0h6m1 0h19m1 0h11m2 0h3m1 0h3m4 0h1m14 0h1m5 0h1m4 0h1m4 0h15M29 305h120m60 0h2m15 0h1m8 0h1m11 0h1m4 0h1m20 0h2m34 0h1m79 0h15m1 0h4m1 0h11m1 0h1m1 0h18m3 0h5m3 0h1m3 0h1m3 0h1m9 0h1m7 0h16M29 306h120m61 0h1m20 0h1m4 0h1m2 0h1m3 0h1m1 0h1m10 0h1m11 0h1m4 0h1m5 0h1m25 0h1m85 0h7m1 0h8m1 0h18m1 0h5m1 0h18m1 0h1m5 0h2m6 0h1m11 0h1m1 0h2m1 0h13M29 307h120m61 0h1m7 0h1m3 0h1m4 0h1m37 0h1m3 0h1m3 0h1m24 0h1m91 0h8m1 0h9m1 0h7m1 0h9m1 0h10m1 0h1m1 0h1m3 0h6m1 0h1m2 0h1m1 0h1m5 0h2m5 0h1m6 0h1m1 0h3m1 0h14m1 0h1m9 0h1M29 308h120m69 0h1m17 0h1m2 0h1m13 0h1m5 0h1m8 0h1m9 0h1m111 0h1m2 0h5m1 0h9m1 0h3m1 0h6m1 0h3m1 0h1m3 0h16m1 0h1m1 0h1m2 0h1m4 0h1m6 0h2m6 0h1m6 0h1m2 0h2m1 0h10M29 309h120m65 0h1m21 0h2m29 0h1m2 0h1m7 0h1m111 0h3m2 0h1m1 0h2m2 0h3m2 0h9m1 0h2m4 0h1m1 0h1m2 0h6m1 0h5m1 0h5m1 0h1m1 0h3m8 0h1m2 0h2m5 0h1m11 0h4m1 0h9M29 310h120m63 0h1m21 0h1m4 0h1m19 0h1M237 311h1m8 0h1m11 0h1m1 0h1m21 0h1M210 362h1m4 0h1m2 0h1m1 0h1m2 0h3m1 0h1m7 0h1m2 0h1m1 0h1m1 0h3m4 0h1m1 0h2m2 0h1m1 0h1m1 0h2m9 0h2m3 0h1m2 0h1m1 0h1m2 0h1m7 0h1m14 0h1m6 0h1m2 0h1m151 0h2M218 363h1m1 0h1m2 0h1m1 0h2m1 0h2m2 0h1m3 0h4m2 0h3m2 0h2m1 0h5m1 0h1m1 0h1m3 0h1m1 0h1m2 0h1m2 0h1m1 0h1m4 0h2m1 0h1m2 0h1m1 0h1m5 0h1m2 0h1m4 0h2m23 0h1m151 0h1m3 0h1M77 364h1m131 0h2m1 0h1m5 0h1m2 0h1m2 0h2m1 0h1m1 0h1m1 0h2m2 0h2m2 0h2m1 0h1m2 0h3m1 0h4m1 0h1m1 0h2m1 0h5m1 0h2m1 0h2m1 0h3m4 0h1m1 0h1m1 0h1m9 0h1m1 0h1m12 0h1m10 0h1m139 0h1m20 0h1m11 0h1M33 365h1m176 0h1m7 0h1m4 0h1m1 0h1m3 0h4m1 0h4m2 0h1m1 0h3m7 0h1m3 0h1m1 0h1m1 0h2m4 0h7m1 0h8m1 0h1m1 0h2m6 0h1m4 0h1m2 0h1m8 0h1m14 0h1M85 366h1m124 0h1m2 0h1m1 0h1m3 0h1m1 0h5m3 0h2m2 0h1m1 0h3m3 0h4m1 0h1m1 0h2m1 0h1m3 0h6m1 0h2m1 0h1m2 0h4m1 0h3m2 0h1m1 0h1m4 0h2m1 0h2m20 0h1m15 0h1m149 0h1M79 367h1m129 0h1m1 0h1m1 0h2m2 0h4m1 0h2m1 0h1m1 0h1m1 0h3m5 0h5m1 0h1m1 0h9m2 0h1m1 0h3m1 0h1m1 0h3m2 0h1m2 0h2m1 0h1m1 0h3m9 0h2m2 0h1m2 0h1m5 0h1m6 0h1m4 0h1m6 0h1m156 0h1m5 0h1M210 368h2m6 0h3m1 0h2m2 0h2m1 0h1m5 0h1m1 0h5m2 0h2m3 0h6m1 0h9m1 0h8m1 0h3m1 0h1m13 0h1m2 0h1m12 0h1m152 0h1m16 0h1m10 0h1M106 369h1m15 0h1m89 0h1m2 0h3m1 0h1m2 0h1m5 0h2m1 0h4m1 0h3m1 0h4m1 0h2m1 0h1m1 0h2m1 0h2m1 0h13m1 0h6m1 0h2m1 0h3m1 0h3m1 0h1m1 0h1m2 0h2m1 0h1m1 0h1m6 0h1m180 0h1m11 0h1M105 370h1m105 0h5m3 0h4m2 0h1m3 0h1m4 0h1m1 0h1m2 0h3m1 0h1m1 0h5m1 0h1m1 0h12m1 0h2m1 0h1m1 0h11m1 0h2m3 0h2m7 0h1m12 0h1m158 0h1m8 0h1m13 0h1M211 371h1m1 0h2m1 0h1m5 0h1m1 0h2m2 0h8m1 0h4m1 0h5m1 0h5m1 0h7m1 0h13m1 0h1m1 0h6m1 0h3m2 0h2m2 0h1m1 0h1m3 0h1m15 0h1m152 0h1m8 0h1m4 0h1m1 0h1m3 0h1M64 372h1m147 0h1m5 0h1m1 0h1m1 0h2m1 0h3m2 0h2m1 0h5m1 0h30m1 0h16m4 0h1m2 0h2m9 0h1m169 0h1m7 0h1M214 373h2m1 0h3m1 0h1m4 0h5m1 0h2m1 0h49m1 0h1m1 0h1m1 0h1m1 0h1m1 0h1m24 0h1m145 0h1m12 0h1m4 0h1m20 0h1M211 374h2m3 0h2m4 0h61m1 0h4m1 0h1m8 0h1m8 0h2m6 0h1m134 0h1m16 0h1m17 0h1m6 0h1M214 375h3m1 0h67m1 0h3m1 0h1m4 0h2m12 0h1m135 0h1m12 0h2m7 0h1m13 0h1m5 0h1M212 376h2m2 0h1m1 0h5m1 0h63m1 0h1m2 0h1m9 0h1m5 0h1m10 0h1m148 0h1m15 0h1m2 0h1m5 0h1m7 0h1m8 0h1M34 377h1m176 0h1m2 0h75m1 0h1m2 0h1m1 0h1m1 0h1m153 0h1m1 0h1m13 0h1m8 0h1M42 378h1m168 0h1m1 0h76m1 0h1m2 0h1m11 0h1m121 0h1m15 0h1m11 0h1m5 0h1m11 0h1m14 0h1M109 379h1m24 0h1m75 0h1m1 0h76m12 0h1m10 0h1m116 0h2m33 0h1m7 0h1m3 0h1m1 0h1m6 0h2m3 0h2m6 0h1M64 380h1m148 0h79m1 0h1m3 0h1m6 0h1m8 0h1m110 0h1m15 0h1m5 0h1m1 0h1m3 0h1m9 0h1m2 0h1m4 0h1m1 0h2m3 0h1m18 0h1M67 381h1m143 0h77m1 0h2m149 0h1m12 0h1m7 0h1m7 0h1m2 0h4m1 0h2M58 382h1m48 0h1m8 0h1m2 0h1m17 0h1m10 0h1m60 0h83m1 0h1m2 0h1m7 0h1m124 0h1m7 0h1m12 0h1m13 0h2m1 0h2m1 0h2m1 0h1m3 0h2m4 0h2m1 0h1m1 0h1m3 0h1m8 0h1M54 383h1m63 0h1m18 0h1m71 0h80m1 0h1m2 0h1m129 0h1m5 0h1m8 0h1m3 0h1m4 0h1m2 0h1m1 0h1m1 0h1m2 0h1m1 0h1m1 0h1m2 0h2m2 0h1m2 0h2m1 0h2m3 0h1m8 0h2M40 384h1m18 0h1m24 0h1m20 0h1m6 0h1m1 0h1m7 0h2m85 0h81m4 0h1m16 0h1m4 0h1m87 0h1m1 0h1m10 0h1m2 0h1m6 0h1m4 0h1m7 0h1m15 0h1m10 0h7m1 0h1m2 0h1m3 0h2m4 0h1m6 0h1M48 385h1m16 0h1m43 0h1m30 0h1m69 0h81m1 0h1m3 0h3m3 0h1m2 0h1m101 0h1m13 0h1m13 0h1m2 0h2m3 0h1m7 0h2m1 0h1m3 0h3m3 0h1m2 0h3m1 0h4m1 0h1m6 0h2m1 0h2m3 0h1m5 0h1m4 0h1m5 0h1M30 386h1m44 0h1m34 0h1m1 0h1m3 0h4m9 0h1m1 0h1m79 0h76m1 0h3m2 0h2m1 0h1m10 0h1m6 0h1m83 0h1m7 0h1m4 0h1m4 0h1m1 0h1m15 0h3m4 0h1m1 0h1m2 0h1m1 0h1m5 0h1m3 0h1m2 0h3m3 0h13m2 0h2m11 0h1M96 387h1m8 0h1m5 0h1m1 0h3m2 0h3m1 0h1m86 0h1m1 0h75m1 0h2m1 0h1m112 0h1m1 0h2m5 0h1m2 0h1m7 0h1m1 0h1m2 0h1m4 0h1m1 0h2m3 0h1m2 0h1m2 0h1m5 0h1m8 0h3m1 0h1m2 0h6m1 0h2m3 0h2m1 0h1m1 0h1m1 0h1M56 388h1m45 0h2m2 0h2m1 0h4m1 0h3m3 0h1m89 0h1m1 0h76m9 0h1m92 0h1m4 0h2m4 0h1m2 0h1m1 0h1m9 0h1m4 0h1m1 0h1m2 0h1m5 0h1m5 0h2m5 0h2m2 0h2m7 0h1m1 0h14m1 0h2m1 0h1m3 0h1M84 389h1m23 0h2m4 0h3m2 0h2m1 0h1m2 0h1m8 0h1m74 0h80m1 0h1m1 0h1m3 0h1m6 0h1m91 0h2m12 0h1m12 0h1m7 0h2m3 0h1m2 0h1m1 0h1m1 0h1m2 0h1m3 0h2m2 0h2m2 0h3m1 0h16m7 0h1m3 0h1m1 0h1M53 390h1m22 0h1m15 0h1m10 0h1m3 0h2m4 0h4m1 0h2m1 0h2m87 0h76m3 0h1m1 0h1m6 0h1m5 0h1m14 0h1m72 0h3m5 0h1m1 0h1m2 0h1m3 0h3m1 0h1m10 0h1m1 0h1m5 0h1m6 0h2m1 0h2m1 0h3m2 0h4m1 0h5m1 0h6m2 0h8m2 0h4m1 0h1m3 0h1M69 391h1m29 0h1m3 0h1m2 0h1m1 0h1m2 0h2m1 0h4m1 0h2m5 0h1m82 0h79m3 0h1m13 0h1m83 0h2m3 0h2m5 0h1m4 0h2m2 0h1m1 0h4m1 0h2m2 0h3m2 0h1m7 0h1m2 0h1m2 0h2m3 0h1m1 0h6m1 0h4m2 0h17m14 0h1M34 392h1m44 0h1m6 0h1m9 0h1m3 0h1m1 0h4m1 0h7m1 0h2m1 0h1m1 0h2m1 0h1m16 0h1m68 0h76m2 0h1m2 0h1m21 0h1m84 0h1m6 0h2m3 0h1m1 0h1m3 0h4m3 0h2m1 0h4m1 0h11m1 0h1m1 0h2m3 0h1m3 0h1m1 0h2m3 0h6m1 0h10m1 0h2m2 0h1m3 0h1m2 0h1M43 393h1m12 0h1m5 0h1m9 0h1m18 0h1m2 0h1m2 0h1m1 0h3m1 0h1m1 0h5m1 0h4m1 0h2m2 0h5m18 0h1m65 0h77m2 0h1m1 0h1m101 0h1m4 0h1m1 0h4m2 0h1m1 0h2m1 0h1m1 0h1m1 0h2m1 0h3m1 0h7m1 0h1m2 0h4m1 0h1m2 0h4m1 0h1m2 0h1m1 0h3m1 0h3m1 0h8m1 0h13m2 0h1m5 0h2m3 0h1M75 394h1m5 0h1m8 0h1m3 0h1m1 0h12m1 0h2m1 0h8m89 0h1m1 0h75m5 0h1m97 0h6m1 0h1m3 0h4m3 0h3m2 0h3m1 0h2m1 0h2m1 0h1m1 0h4m1 0h4m2 0h3m1 0h1m1 0h1m1 0h3m1 0h4m1 0h9m1 0h1m1 0h2m1 0h1m1 0h1m2 0h6m3 0h2m1 0h1M34 395h1m11 0h1m5 0h1m2 0h1m16 0h1m6 0h1m4 0h2m2 0h2m2 0h2m1 0h1m1 0h3m1 0h5m1 0h12m1 0h1m2 0h2m1 0h1m82 0h1m1 0h70m1 0h3m7 0h1m98 0h1m2 0h1m1 0h1m1 0h5m1 0h1m1 0h14m1 0h2m1 0h1m2 0h10m1 0h3m1 0h2m1 0h1m1 0h3m1 0h3m1 0h12m1 0h2m1 0h7m2 0h2m2 0h1m1 0h2M86 396h1m1 0h2m2 0h1m1 0h2m1 0h2m1 0h9m2 0h8m1 0h5m22 0h1m61 0h67m1 0h6m3 0h1m102 0h1m2 0h2m1 0h2m1 0h10m1 0h8m1 0h4m1 0h6m1 0h7m1 0h2m2 0h22m1 0h10m1 0h1m5 0h1m1 0h1m5 0h1M39 397h1m22 0h1m18 0h1m6 0h1m1 0h1m1 0h1m1 0h2m1 0h4m1 0h1m1 0h1m1 0h1m1 0h7m2 0h5m1 0h1m5 0h1m80 0h67m1 0h3m1 0h1m1 0h1m16 0h1m89 0h5m2 0h2m2 0h7m2 0h5m1 0h3m1 0h1m1 0h4m1 0h2m1 0h1m1 0h1m1 0h4m1 0h15m1 0h4m1 0h6m1 0h6m1 0h1m1 0h2m6 0h1m3 0h1M51 398h1m20 0h1m12 0h1m2 0h2m2 0h4m1 0h4m1 0h1m1 0h10m1 0h2m1 0h6m4 0h1m10 0h1m10 0h1m59 0h1m1 0h64m1 0h2m1 0h4m1 0h1m17 0h1m1 0h1m2 0h2m4 0h1m75 0h2m2 0h2m1 0h4m1 0h23m1 0h17m1 0h2m1 0h16m1 0h11m1 0h2m7 0h1m2 0h1M32 399h1m20 0h1m32 0h1m2 0h2m1 0h2m1 0h1m2 0h6m1 0h15m1 0h4m12 0h1m73 0h59m1 0h6m7 0h2m6 0h1m4 0h1m92 0h12m2 0h12m1 0h1m1 0h8m1 0h15m1 0h10m1 0h7m1 0h1m1 0h3m1 0h2m1 0h4m1 0h1m2 0h2m5 0h1m1 0h1M30 400h1m4 0h1m35 0h1m5 0h1m7 0h1m1 0h1m1 0h1m1 0h20m1 0h7m1 0h1m1 0h2m1 0h2m82 0h53m1 0h7m2 0h3m1 0h2m1 0h1m1 0h2m23 0h1m84 0h4m1 0h12m1 0h2m1 0h6m1 0h6m1 0h21m1 0h3m2 0h18m1 0h4m2 0h1m1 0h2m2 0h1m2 0h2M31 401h1m19 0h1m28 0h1m1 0h2m1 0h4m2 0h1m1 0h9m1 0h1m1 0h4m1 0h11m2 0h3m10 0h1m72 0h54m1 0h4m2 0h1m1 0h2m1 0h1m2 0h1m8 0h1m34 0h1m66 0h27m1 0h10m1 0h1m1 0h2m1 0h2m1 0h2m1 0h8m1 0h6m1 0h4m1 0h15m1 0h2m6 0h1m5 0h1M44 402h1m38 0h3m1 0h1m1 0h2m1 0h13m1 0h16m1 0h1m2 0h1m82 0h54m1 0h1m1 0h1m2 0h1m1 0h3m1 0h4m4 0h1m10 0h1m95 0h2m2 0h18m1 0h20m1 0h5m1 0h32m1 0h9M56 403h1m5 0h1m19 0h2m2 0h2m1 0h17m1 0h6m1 0h9m4 0h1m82 0h2m1 0h34m1 0h13m1 0h7m1 0h1m5 0h1m3 0h1m1 0h2m4 0h1m37 0h1m63 0h1m1 0h9m1 0h32m1 0h14m1 0h10m1 0h17m4 0h1m4 0h1M56 404h1m13 0h1m3 0h1m5 0h1m3 0h1m1 0h13m1 0h23m86 0h42m1 0h2m1 0h5m1 0h1m2 0h4m1 0h1m5 0h1m2 0h1m2 0h1m2 0h1m1 0h1m4 0h1m3 0h1m6 0h1m2 0h1m84 0h18m1 0h9m1 0h10m1 0h29m1 0h13m1 0h2m1 0h2m12 0h1m10 0h1M39 405h1m22 0h1m9 0h1m3 0h1m5 0h1m1 0h12m1 0h4m2 0h13m2 0h4m1 0h3m11 0h1m71 0h3m1 0h35m1 0h6m1 0h3m1 0h1m1 0h4m2 0h1m3 0h1m1 0h4m4 0h2m4 0h1m15 0h2m83 0h1m1 0h1m1 0h21m1 0h3m1 0h1m2 0h6m3 0h26m1 0h3m1 0h3m1 0h1m1 0h12m6 0h1m9 0h1M30 406h1m23 0h1m13 0h1m6 0h1m2 0h1m1 0h10m1 0h4m1 0h1m1 0h12m1 0h1m1 0h13m1 0h1m4 0h1m77 0h3m1 0h10m1 0h5m1 0h1m1 0h4m1 0h6m1 0h2m1 0h2m2 0h2m1 0h4m1 0h2m2 0h2m9 0h2m5 0h2m4 0h4m1 0h1m15 0h1m15 0h2m62 0h1m2 0h5m1 0h10m1 0h1m1 0h4m1 0h4m1 0h8m1 0h12m1 0h8m1 0h17m1 0h2m1 0h2m1 0h6m4 0h2M48 407h1m13 0h1m3 0h1m11 0h1m3 0h11m1 0h1m1 0h22m1 0h4m3 0h1m82 0h1m1 0h3m1 0h4m1 0h9m1 0h2m1 0h4m1 0h2m1 0h1m1 0h1m1 0h5m1 0h2m1 0h1m1 0h5m1 0h1m1 0h1m1 0h2m2 0h2m5 0h1m2 0h1m1 0h1m2 0h1m2 0h1m1 0h1m6 0h2m4 0h1m87 0h2m1 0h15m1 0h2m1 0h15m2 0h2m1 0h1m1 0h9m1 0h5m1 0h6m1 0h7m1 0h14m8 0h3M46 408h1m18 0h2m12 0h1m1 0h1m2 0h12m1 0h3m1 0h12m1 0h8m1 0h1m9 0h1m2 0h1m72 0h1m3 0h5m1 0h14m1 0h9m4 0h1m3 0h2m1 0h1m1 0h2m1 0h4m1 0h3m2 0h4m1 0h6m2 0h1m3 0h1m4 0h1m4 0h1m92 0h8m1 0h3m1 0h7m1 0h8m2 0h22m1 0h6m1 0h9m1 0h8m1 0h3m1 0h1m2 0h3m4 0h2m4 0h1m3 0h1M38 409h1m24 0h1m15 0h1m1 0h2m1 0h6m1 0h3m1 0h6m1 0h3m1 0h7m1 0h7m2 0h1m12 0h1m1 0h1m10 0h1m61 0h2m1 0h6m1 0h1m1 0h3m1 0h1m1 0h1m2 0h4m4 0h3m2 0h1m1 0h1m1 0h3m1 0h3m1 0h3m1 0h1m2 0h1m1 0h5m1 0h1m2 0h1m3 0h1m2 0h2m5 0h1m18 0h1m10 0h1m70 0h3m1 0h1m1 0h5m1 0h10m2 0h4m1 0h4m1 0h6m1 0h1m1 0h21m1 0h21m1 0h1m13 0h1m1 0h1M71 410h1m3 0h1m3 0h3m1 0h5m1 0h10m1 0h9m3 0h8m2 0h2m3 0h1m6 0h2m12 0h1m60 0h1m4 0h1m4 0h1m1 0h1m1 0h3m1 0h9m1 0h2m3 0h2m1 0h1m2 0h2m4 0h1m1 0h2m2 0h1m2 0h1m1 0h1m2 0h1m1 0h1m1 0h1m3 0h1m1 0h1m1 0h2m1 0h1m1 0h2m2 0h1m1 0h2m9 0h1m88 0h4m1 0h20m1 0h6m1 0h2m1 0h5m1 0h16m1 0h28m2 0h1m6 0h1M44 411h1m19 0h1m8 0h1m2 0h1m1 0h5m2 0h6m1 0h30m1 0h2m1 0h1m3 0h1m1 0h1m5 0h1m3 0h1m3 0h1m62 0h2m1 0h1m2 0h1m2 0h2m1 0h1m2 0h1m1 0h2m4 0h3m4 0h1m4 0h2m4 0h2m1 0h4m3 0h1m1 0h2m5 0h2m1 0h1m1 0h2m2 0h2m1 0h1m2 0h1m2 0h1m2 0h1m2 0h2m1 0h2m22 0h1m69 0h25m1 0h3m1 0h12m1 0h1m1 0h20m2 0h1m1 0h5m1 0h2m1 0h8m2 0h1m1 0h1m1 0h1m7 0h2m2 0h1M54 412h1m21 0h5m1 0h23m1 0h8m1 0h3m1 0h2m1 0h2m1 0h1m8 0h4m75 0h1m1 0h1m3 0h1m2 0h1m2 0h2m6 0h1m5 0h5m1 0h1m3 0h1m2 0h2m1 0h1m2 0h1m2 0h6m2 0h1m2 0h2m2 0h1m1 0h1m6 0h1m8 0h1m2 0h2m2 0h1m88 0h9m1 0h29m1 0h11m1 0h11m1 0h18m1 0h2m1 0h2m5 0h1m9 0h1M30 413h1m17 0h1m4 0h1m2 0h1m10 0h2m4 0h1m1 0h15m1 0h11m1 0h3m1 0h13m1 0h2m1 0h1m4 0h1m11 0h1m72 0h1m13 0h1m1 0h1m2 0h1m1 0h2m1 0h1m1 0h1m3 0h1m4 0h2m1 0h3m1 0h2m6 0h2m1 0h1m1 0h3m2 0h1m1 0h2m1 0h1m1 0h1m3 0h1m2 0h2m3 0h1m10 0h1m1 0h1m82 0h1m1 0h11m1 0h11m1 0h4m1 0h1m1 0h10m1 0h11m1 0h4m1 0h5m1 0h3m1 0h2m1 0h3m1 0h1m1 0h9m3 0h2m6 0h1M75 414h1m1 0h2m1 0h2m1 0h6m2 0h5m1 0h3m1 0h9m2 0h6m1 0h4m10 0h8m5 0h2m65 0h1m14 0h1m1 0h2m2 0h3m2 0h1m1 0h2m1 0h3m1 0h3m1 0h2m5 0h1m3 0h1m1 0h3m5 0h1m2 0h1m1 0h1m4 0h2m1 0h3m2 0h1m4 0h1m2 0h1m89 0h1m1 0h7m1 0h52m1 0h5m1 0h9m1 0h6m1 0h1m1 0h2m4 0h1m2 0h1m1 0h3m1 0h1M52 415h1m4 0h1m9 0h1m2 0h1m4 0h1m2 0h5m1 0h38m1 0h1m1 0h1m3 0h1m3 0h1m1 0h5m2 0h3m80 0h2m5 0h1m1 0h1m3 0h2m1 0h1m3 0h1m2 0h1m1 0h1m2 0h2m2 0h1m1 0h1m1 0h1m4 0h1m2 0h1m3 0h1m1 0h1m2 0h3m3 0h2m1 0h1m5 0h2m5 0h1m90 0h11m1 0h9m1 0h26m1 0h6m1 0h1m1 0h11m1 0h10m1 0h1m1 0h2m1 0h2m4 0h1m2 0h2m1 0h1m1 0h1M67 416h1m7 0h3m1 0h4m1 0h14m1 0h11m1 0h1m1 0h9m2 0h1m5 0h1m1 0h4m1 0h2m1 0h1m7 0h1m73 0h1m2 0h2m5 0h2m1 0h2m1 0h1m9 0h1m7 0h2m1 0h1m1 0h2m1 0h3m1 0h1m1 0h1m1 0h1m2 0h1m3 0h1m1 0h1m1 0h2m2 0h1m5 0h1m12 0h1m4 0h1m77 0h1m1 0h1m1 0h4m1 0h11m1 0h13m1 0h4m1 0h3m1 0h4m2 0h8m1 0h9m1 0h8m1 0h7m1 0h2m10 0h1m4 0h3M60 417h1m12 0h24m1 0h6m1 0h17m3 0h2m2 0h1m2 0h2m2 0h2m1 0h4m71 0h1m1 0h2m1 0h2m7 0h1m2 0h1m2 0h2m2 0h1m2 0h3m2 0h1m4 0h2m2 0h2m2 0h1m1 0h2m3 0h3m1 0h1m1 0h5m2 0h1m5 0h1m1 0h1m2 0h2m2 0h1m94 0h21m1 0h36m1 0h29m1 0h1m12 0h2M31 418h1m20 0h1m13 0h1m4 0h1m7 0h2m1 0h4m1 0h18m1 0h8m1 0h2m1 0h7m7 0h1m1 0h3m1 0h3m3 0h2m63 0h1m12 0h3m3 0h1m6 0h4m2 0h1m2 0h2m3 0h8m3 0h1m1 0h1m3 0h3m2 0h1m1 0h1m8 0h1m1 0h1m5 0h2m2 0h2m93 0h13m4 0h12m1 0h2m1 0h15m1 0h9m1 0h12m1 0h4m1 0h2m1 0h4m1 0h2m1 0h1m1 0h1m1 0h1m8 0h2m2 0h2m3 0h1M71 419h1m3 0h1m1 0h3m1 0h1m2 0h21m1 0h2m1 0h4m1 0h7m1 0h2m6 0h1m2 0h2m1 0h1m1 0h2m1 0h1m1 0h1m3 0h1m65 0h1m10 0h1m4 0h1m1 0h3m3 0h1m3 0h2m1 0h2m1 0h3m2 0h1m2 0h1m4 0h1m3 0h1m2 0h1m1 0h1m4 0h1m8 0h1m3 0h1m5 0h1m6 0h3m22 0h1m63 0h1m1 0h22m1 0h22m1 0h3m1 0h1m1 0h21m1 0h2m1 0h8m1 0h2m1 0h1m4 0h1m2 0h1m1 0h2m2 0h3M48 420h1m13 0h1m7 0h1m2 0h1m1 0h1m2 0h1m1 0h26m1 0h2m1 0h12m7 0h1m1 0h6m1 0h1m1 0h2m2 0h2m1 0h1m80 0h2m2 0h1m10 0h1m4 0h1m1 0h2m2 0h3m3 0h2m1 0h1m1 0h7m2 0h2m2 0h2m4 0h1m4 0h1m2 0h1m8 0h1m2 0h1m85 0h1m1 0h3m1 0h6m1 0h1m1 0h15m2 0h9m1 0h48m2 0h1m1 0h1m4 0h1M43 421h1m8 0h2m7 0h1m7 0h1m3 0h1m1 0h16m1 0h4m1 0h2m1 0h22m2 0h1m5 0h1m1 0h4m1 0h7m2 0h1m83 0h1m8 0h1m2 0h1m2 0h2m1 0h1m1 0h1m2 0h2m4 0h1m1 0h6m1 0h2m1 0h2m4 0h1m4 0h3m3 0h1m3 0h1m3 0h1m12 0h1m7 0h1m72 0h7m1 0h4m1 0h13m1 0h4m1 0h9m1 0h12m1 0h6m1 0h10m1 0h2m2 0h1m1 0h5m3 0h3m4 0h1m2 0h1m1 0h1m3 0h1M47 422h1m5 0h1m20 0h1m1 0h1m1 0h4m1 0h3m1 0h1m1 0h4m2 0h22m1 0h5m1 0h1m5 0h4m1 0h1m1 0h6m1 0h3m2 0h1m78 0h1m5 0h3m2 0h1m3 0h3m1 0h1m2 0h1m1 0h3m1 0h1m1 0h4m4 0h1m2 0h3m1 0h5m1 0h1m1 0h1m3 0h2m1 0h1m1 0h1m10 0h1m3 0h1m1 0h1m81 0h20m2 0h3m1 0h24m1 0h2m1 0h5m1 0h9m1 0h15m2 0h2m4 0h1m3 0h2m2 0h1M30 423h1m4 0h1m1 0h1m15 0h1m17 0h4m2 0h2m1 0h13m1 0h7m1 0h4m1 0h5m1 0h2m1 0h7m1 0h1m2 0h2m2 0h6m1 0h2m1 0h3m4 0h1m70 0h2m3 0h1m1 0h1m7 0h1m6 0h4m3 0h1m1 0h5m1 0h1m10 0h4m1 0h2m1 0h4m6 0h1m6 0h1m7 0h1m5 0h1m82 0h1m1 0h3m1 0h9m1 0h36m1 0h6m1 0h8m1 0h2m1 0h13m1 0h2m7 0h2m4 0h1m6 0h1M49 424h1m2 0h1m10 0h1m6 0h4m2 0h22m1 0h6m2 0h15m2 0h1m1 0h4m1 0h3m2 0h1m1 0h3m1 0h2m1 0h1m1 0h1m2 0h1m65 0h1m3 0h1m4 0h3m7 0h1m3 0h1m6 0h2m1 0h2m4 0h6m2 0h2m1 0h1m2 0h2m1 0h5m4 0h2m1 0h1m1 0h3m1 0h1m5 0h1m4 0h1m6 0h1m81 0h1m1 0h19m1 0h1m1 0h13m1 0h9m1 0h9m1 0h13m1 0h13m1 0h4m2 0h2m4 0h1M36 425h1m28 0h1m8 0h1m2 0h7m1 0h1m1 0h16m1 0h6m1 0h11m1 0h1m3 0h2m3 0h10m70 0h1m1 0h1m10 0h1m10 0h1m4 0h1m6 0h1m5 0h1m4 0h2m2 0h4m1 0h1m3 0h3m1 0h1m2 0h1m1 0h1m1 0h4m1 0h2m2 0h2m2 0h1m7 0h1m84 0h5m1 0h12m1 0h1m1 0h5m1 0h3m2 0h15m1 0h10m1 0h12m1 0h4m1 0h9m2 0h3m5 0h1m5 0h1M72 426h6m1 0h14m1 0h1m1 0h1m2 0h4m2 0h10m2 0h5m2 0h3m2 0h12m1 0h3m1 0h2m1 0h1m71 0h1m8 0h1m2 0h1m4 0h1m1 0h1m2 0h1m1 0h3m2 0h1m1 0h2m1 0h1m1 0h1m1 0h2m1 0h1m2 0h5m2 0h2m2 0h1m1 0h2m1 0h1m1 0h1m7 0h2m1 0h1m2 0h1m3 0h2m1 0h1m1 0h1m3 0h1m4 0h1m73 0h22m2 0h9m1 0h6m1 0h2m1 0h12m1 0h3m1 0h6m1 0h17m1 0h3m4 0h2m6 0h1m1 0h2m4 0h1M43 427h1m7 0h1m3 0h1m2 0h1m1 0h1m13 0h4m1 0h1m1 0h5m1 0h9m1 0h4m2 0h11m1 0h3m1 0h1m1 0h2m1 0h6m1 0h1m1 0h1m1 0h2m1 0h4m1 0h4m70 0h1m4 0h1m4 0h3m2 0h3m2 0h1m4 0h2m1 0h2m5 0h2m1 0h2m1 0h1m2 0h6m1 0h1m2 0h1m1 0h1m3 0h1m2 0h2m3 0h3m4 0h1m1 0h1m2 0h1m3 0h1m87 0h8m1 0h8m1 0h5m1 0h9m1 0h2m1 0h4m1 0h4m1 0h2m1 0h17m1 0h14m2 0h1m1 0h1m1 0h1m11 0h1m3 0h1m10 0h1M36 428h1m20 0h1m3 0h1m6 0h1m2 0h2m3 0h2m1 0h3m1 0h3m1 0h13m1 0h1m1 0h19m1 0h4m1 0h7m1 0h1m1 0h5m1 0h2m64 0h4m12 0h2m2 0h1m1 0h1m2 0h1m1 0h3m1 0h1m6 0h1m1 0h3m1 0h2m1 0h1m1 0h4m3 0h2m2 0h1m2 0h1m1 0h2m2 0h1m2 0h2m2 0h1m3 0h1m1 0h1m2 0h1m6 0h1m86 0h4m2 0h4m1 0h13m1 0h10m2 0h4m1 0h1m1 0h21m1 0h10m1 0h7m2 0h2m3 0h1m3 0h2m11 0h1M35 429h1m19 0h1m13 0h1m1 0h1m3 0h1m2 0h33m1 0h2m1 0h3m1 0h10m1 0h1m1 0h2m1 0h6m2 0h1m3 0h1m74 0h1m4 0h2m2 0h1m1 0h1m1 0h1m3 0h1m4 0h2m1 0h2m3 0h1m1 0h4m5 0h6m1 0h1m1 0h4m3 0h1m2 0h2m7 0h1m3 0h1m2 0h1m1 0h1m6 0h1m1 0h1m80 0h3m1 0h16m1 0h13m2 0h29m1 0h1m1 0h6m1 0h12m1 0h1m7 0h1m2 0h1m1 0h1m2 0h1m2 0h1M31 430h1m20 0h1m18 0h1m2 0h1m1 0h11m1 0h1m1 0h7m1 0h1m1 0h6m1 0h11m3 0h2m2 0h3m1 0h10m1 0h5m66 0h2m5 0h1m1 0h1m1 0h1m2 0h1m1 0h1m2 0h1m1 0h1m2 0h1m3 0h1m2 0h1m2 0h7m1 0h3m2 0h1m1 0h5m2 0h2m1 0h1m3 0h1m2 0h2m2 0h1m3 0h1m1 0h3m8 0h2m4 0h1m84 0h1m1 0h3m2 0h19m1 0h15m1 0h6m1 0h2m1 0h27m2 0h7m5 0h1m2 0h1m3 0h1m4 0h1m2 0h1m1 0h1M34 431h1m12 0h1m13 0h1m1 0h2m5 0h1m1 0h4m1 0h13m1 0h1m1 0h30m3 0h2m2 0h4m1 0h2m1 0h3m2 0h3m4 0h1m67 0h2m6 0h1m1 0h1m1 0h2m1 0h1m2 0h1m1 0h5m1 0h1m3 0h1m1 0h1m2 0h1m1 0h3m2 0h6m2 0h4m2 0h2m1 0h1m3 0h2m2 0h1m1 0h1m4 0h1m5 0h1m7 0h1m5 0h1m76 0h11m1 0h11m1 0h11m1 0h5m1 0h7m1 0h5m1 0h10m1 0h17m1 0h3m6 0h1m1 0h1m5 0h3m9 0h1M60 432h1m2 0h1m5 0h1m6 0h1m1 0h17m1 0h10m1 0h13m1 0h1m1 0h1m3 0h1m1 0h1m1 0h5m1 0h5m1 0h3m2 0h1m63 0h1m7 0h1m3 0h4m3 0h1m1 0h2m3 0h1m1 0h1m1 0h2m5 0h4m1 0h2m1 0h9m1 0h1m1 0h4m2 0h4m2 0h2m1 0h1m2 0h1m2 0h1m2 0h2m32 0h1m61 0h4m1 0h11m1 0h13m1 0h3m1 0h4m1 0h23m1 0h5m1 0h3m1 0h3m1 0h3m1 0h7m3 0h1m7 0h1m3 0h1M39 433h1m11 0h1m5 0h1m12 0h1m1 0h1m2 0h6m1 0h11m1 0h1m1 0h2m1 0h22m1 0h1m2 0h1m2 0h6m2 0h7m1 0h2m76 0h1m3 0h4m1 0h1m1 0h1m1 0h1m4 0h2m2 0h3m2 0h2m2 0h2m2 0h2m2 0h3m1 0h1m3 0h1m1 0h3m3 0h6m3 0h1m5 0h2m10 0h1m12 0h1m71 0h12m1 0h9m1 0h18m1 0h3m1 0h5m1 0h24m1 0h8m2 0h2m2 0h2m2 0h1m1 0h1m1 0h1m7 0h1M52 434h1m5 0h1m14 0h6m1 0h27m1 0h1m1 0h3m1 0h1m1 0h2m1 0h4m2 0h1m2 0h6m1 0h2m1 0h1m3 0h4m64 0h2m7 0h1m1 0h17m3 0h1m1 0h2m3 0h3m2 0h2m1 0h10m1 0h2m1 0h5m1 0h1m3 0h2m1 0h1m3 0h1m3 0h3m1 0h2m1 0h1m2 0h1m24 0h1m62 0h9m1 0h3m1 0h10m1 0h3m1 0h23m1 0h10m1 0h8m2 0h7m2 0h1m1 0h3m11 0h1M34 435h1m29 0h1m8 0h14m1 0h23m1 0h9m2 0h2m5 0h2m2 0h1m3 0h9m67 0h2m2 0h15m1 0h1m2 0h1m1 0h1m3 0h1m1 0h2m3 0h1m1 0h1m1 0h1m2 0h1m1 0h1m1 0h1m1 0h6m3 0h1m1 0h4m1 0h1m2 0h2m2 0h1m1 0h1m1 0h1m1 0h1m2 0h1m2 0h1m90 0h9m1 0h14m1 0h3m1 0h19m1 0h7m1 0h14m1 0h9m1 0h3m1 0h1m7 0h1m3 0h3M43 436h1m2 0h1m16 0h1m10 0h8m1 0h4m1 0h5m1 0h2m1 0h6m1 0h3m1 0h6m1 0h1m1 0h3m1 0h1m1 0h1m1 0h1m2 0h8m1 0h2m2 0h2m69 0h1m1 0h1m1 0h1m2 0h17m1 0h3m2 0h2m1 0h2m3 0h1m3 0h4m1 0h2m4 0h1m2 0h1m2 0h1m1 0h7m4 0h2m1 0h1m14 0h1m86 0h2m1 0h13m1 0h18m1 0h2m1 0h5m2 0h5m1 0h1m1 0h8m1 0h5m1 0h2m1 0h14m1 0h2m18 0h1M43 437h2m7 0h1m15 0h1m3 0h25m1 0h1m1 0h3m1 0h14m1 0h2m1 0h2m4 0h10m2 0h1m1 0h3m3 0h1m62 0h2m1 0h1m1 0h20m2 0h2m3 0h1m2 0h3m2 0h1m3 0h12m2 0h2m1 0h1m1 0h2m1 0h2m1 0h5m1 0h2m4 0h1m3 0h2m4 0h1m12 0h1m10 0h1m62 0h1m1 0h14m1 0h18m1 0h11m2 0h2m1 0h9m1 0h10m1 0h9m1 0h2m1 0h3m1 0h1m5 0h1m7 0h1M32 438h2m4 0h1m31 0h3m2 0h6m1 0h39m1 0h1m1 0h1m5 0h1m2 0h6m3 0h2m2 0h1m65 0h27m1 0h1m2 0h1m3 0h1m4 0h1m1 0h3m1 0h2m1 0h2m1 0h1m1 0h1m3 0h4m2 0h6m3 0h1m3 0h1m1 0h2m2 0h1m3 0h1m7 0h1m83 0h29m1 0h3m2 0h13m1 0h13m2 0h2m1 0h5m1 0h12m1 0h1m1 0h1m1 0h2m2 0h1m1 0h1m1 0h1M39 439h1m9 0h1m14 0h2m5 0h22m1 0h23m1 0h3m6 0h9m1 0h5m1 0h1m1 0h1m1 0h1m63 0h1m1 0h26m1 0h4m3 0h1m2 0h3m1 0h1m2 0h1m3 0h3m2 0h3m1 0h4m4 0h1m2 0h1m1 0h1m1 0h1m4 0h1m4 0h1m5 0h1m12 0h1m10 0h1m64 0h2m1 0h6m1 0h9m1 0h14m1 0h38m1 0h11m2 0h1m4 0h1m1 0h1m6 0h3m4 0h1M45 440h1m5 0h1m1 0h1m7 0h1m10 0h1m3 0h6m2 0h3m2 0h2m1 0h4m1 0h2m1 0h2m1 0h15m1 0h2m5 0h2m1 0h9m1 0h4m1 0h6m61 0h30m3 0h2m1 0h1m4 0h1m2 0h6m1 0h4m1 0h2m1 0h1m8 0h2m2 0h2m3 0h3m1 0h2m2 0h3m10 0h1m80 0h1m1 0h7m1 0h5m1 0h11m1 0h6m1 0h8m1 0h1m2 0h6m1 0h11m1 0h17m1 0h4m5 0h1m3 0h5m4 0h2M35 441h1m25 0h1m1 0h1m2 0h2m1 0h5m1 0h12m1 0h9m1 0h1m1 0h1m1 0h7m1 0h4m1 0h2m1 0h4m1 0h4m2 0h1m1 0h1m1 0h1m1 0h5m1 0h3m1 0h1m2 0h1m62 0h29m1 0h2m2 0h2m1 0h5m1 0h1m1 0h2m3 0h2m2 0h1m4 0h3m1 0h2m1 0h3m1 0h1m1 0h1m1 0h1m1 0h3m2 0h1m4 0h1m8 0h2m6 0h1m74 0h28m1 0h6m1 0h5m1 0h4m1 0h2m1 0h7m1 0h6m1 0h21m1 0h1m7 0h5m1 0h1m1 0h1m1 0h1m2 0h1M34 442h1m4 0h1m3 0h1m18 0h1m2 0h1m2 0h5m1 0h14m1 0h11m1 0h6m1 0h7m1 0h3m3 0h1m2 0h2m2 0h11m1 0h1m3 0h1m3 0h1m59 0h31m1 0h4m1 0h1m2 0h2m2 0h1m1 0h2m1 0h2m3 0h2m4 0h1m2 0h4m3 0h1m1 0h4m2 0h5m2 0h1m11 0h1m1 0h3m1 0h1m3 0h1m73 0h1m2 0h1m1 0h17m1 0h4m2 0h1m1 0h18m1 0h9m1 0h16m1 0h1m1 0h2m2 0h1m2 0h1m3 0h1m3 0h3m1 0h1m1 0h2m3 0h1M39 443h1m5 0h1m11 0h1m2 0h1m4 0h1m2 0h3m1 0h26m1 0h3m1 0h1m1 0h10m1 0h4m1 0h1m1 0h1m3 0h15m1 0h3m3 0h1m60 0h30m1 0h1m2 0h1m7 0h1m2 0h1m3 0h1m2 0h3m1 0h3m1 0h10m4 0h1m14 0h2m3 0h1m3 0h1m1 0h3m2 0h1m12 0h1m60 0h1m2 0h1m1 0h32m1 0h5m1 0h1m1 0h7m1 0h19m2 0h2m1 0h6m1 0h1m1 0h1m1 0h1m4 0h4m1 0h3m1 0h2m3 0h1M58 444h1m1 0h1m2 0h1m1 0h3m3 0h5m1 0h22m1 0h5m2 0h6m2 0h1m1 0h1m2 0h2m3 0h1m1 0h1m1 0h2m1 0h6m1 0h2m1 0h4m2 0h1m1 0h1m58 0h33m4 0h1m2 0h1m1 0h1m1 0h3m2 0h2m4 0h5m4 0h1m1 0h4m3 0h1m1 0h1m2 0h1m2 0h1m1 0h1m3 0h3m2 0h1m6 0h2m1 0h4m76 0h14m1 0h16m1 0h7m1 0h15m1 0h15m1 0h12m1 0h1m5 0h3m3 0h2m2 0h3M43 445h2m5 0h2m3 0h1m1 0h1m3 0h4m1 0h1m1 0h1m1 0h36m4 0h1m1 0h6m1 0h4m2 0h8m1 0h6m2 0h5m1 0h1m60 0h33m1 0h3m1 0h1m4 0h2m1 0h1m1 0h1m7 0h1m3 0h4m5 0h1m2 0h1m1 0h1m1 0h1m2 0h1m4 0h1m1 0h1m1 0h1m7 0h11m74 0h1m1 0h16m2 0h14m1 0h2m1 0h3m1 0h2m1 0h15m1 0h2m1 0h1m1 0h15m1 0h1m4 0h1m6 0h6m1 0h2m1 0h3M37 446h1m6 0h1m5 0h1m1 0h2m6 0h2m1 0h4m1 0h47m3 0h2m1 0h1m1 0h4m2 0h3m1 0h6m1 0h2m1 0h2m1 0h1m1 0h1m60 0h35m2 0h1m1 0h2m5 0h2m2 0h1m2 0h4m1 0h3m1 0h2m1 0h2m2 0h1m1 0h2m1 0h2m1 0h1m7 0h1m1 0h1m5 0h1m2 0h10m74 0h14m1 0h1m1 0h10m1 0h1m1 0h9m1 0h43m1 0h1m7 0h1m2 0h3m1 0h3M61 447h1m4 0h48m1 0h2m2 0h1m1 0h2m3 0h5m1 0h6m1 0h5m1 0h3m61 0h32m1 0h1m1 0h1m3 0h5m1 0h1m3 0h1m1 0h1m1 0h3m1 0h3m1 0h2m2 0h2m1 0h2m3 0h1m1 0h4m6 0h2m4 0h1m1 0h1m2 0h1m1 0h9m1 0h1m72 0h3m1 0h33m1 0h5m1 0h25m1 0h11m1 0h1m1 0h2m2 0h1m1 0h2m1 0h1m2 0h2m1 0h2m1 0h1m1 0h2m2 0h1M36 448h1m1 0h1m5 0h1m15 0h1m2 0h54m3 0h1m2 0h1m2 0h2m2 0h2m1 0h1m1 0h3m1 0h9m1 0h1m59 0h34m1 0h2m2 0h1m1 0h1m2 0h2m1 0h2m6 0h2m1 0h1m3 0h2m1 0h2m2 0h1m3 0h3m6 0h1m4 0h2m3 0h1m2 0h12m73 0h14m1 0h2m2 0h13m1 0h26m2 0h19m2 0h4m4 0h1m5 0h6m2 0h1m2 0h1M46 449h1m14 0h1m2 0h1m1 0h46m1 0h1m1 0h2m5 0h4m2 0h1m2 0h3m1 0h11m2 0h2m59 0h35m4 0h1m2 0h1m1 0h3m2 0h2m1 0h1m3 0h1m1 0h1m4 0h1m2 0h1m3 0h2m2 0h2m1 0h1m4 0h2m5 0h1m4 0h12m1 0h1m73 0h4m1 0h8m1 0h10m1 0h56m4 0h1m3 0h1m1 0h1m2 0h7m1 0h1m1 0h1M35 450h1m6 0h1m4 0h1m8 0h1m2 0h3m1 0h54m3 0h7m1 0h2m1 0h6m1 0h2m1 0h10m58 0h35m4 0h1m3 0h1m1 0h1m8 0h1m1 0h1m1 0h3m1 0h2m1 0h1m2 0h1m5 0h1m1 0h3m1 0h2m6 0h1m5 0h14m72 0h2m1 0h13m1 0h30m1 0h1m1 0h5m1 0h9m1 0h16m2 0h1m6 0h1m3 0h6m1 0h4M53 451h1m5 0h58m1 0h4m2 0h10m2 0h8m1 0h2m1 0h1m1 0h1m58 0h36m1 0h3m2 0h1m1 0h2m1 0h1m1 0h1m3 0h2m3 0h1m1 0h1m3 0h1m1 0h2m3 0h1m1 0h1m1 0h1m3 0h1m4 0h1m7 0h2m1 0h11m1 0h1m1 0h1m71 0h9m1 0h1m1 0h19m1 0h1m1 0h16m1 0h5m1 0h15m1 0h6m1 0h5m5 0h1m2 0h1m4 0h6M33 452h1m7 0h1m7 0h2m4 0h6m1 0h59m1 0h13m1 0h14m59 0h35m3 0h1m1 0h3m3 0h2m6 0h1m1 0h1m1 0h2m7 0h2m2 0h1m2 0h1m9 0h1m6 0h17m72 0h1m1 0h18m1 0h3m1 0h1m1 0h24m1 0h15m1 0h1m1 0h3m1 0h3m3 0h4m8 0h1m1 0h3m1 0h2m1 0h4m1 0h1M38 453h1m8 0h1m3 0h1m3 0h1m2 0h1m1 0h55m1 0h4m2 0h11m1 0h11m2 0h3m59 0h35m1 0h1m1 0h1m1 0h2m2 0h3m2 0h1m1 0h2m3 0h1m2 0h1m2 0h2m2 0h3m2 0h1m2 0h1m1 0h1m1 0h1m10 0h1m2 0h14m2 0h1m71 0h2m1 0h1m1 0h12m1 0h5m1 0h1m1 0h9m1 0h12m1 0h2m3 0h1m1 0h20m1 0h2m1 0h2m2 0h1m8 0h1m2 0h6m1 0h2m1 0h1m10 0h1M43 454h1m5 0h4m1 0h2m1 0h61m1 0h21m1 0h4m2 0h1m61 0h35m5 0h1m1 0h1m6 0h1m4 0h1m2 0h1m3 0h2m3 0h2m2 0h2m3 0h1m1 0h1m2 0h1m8 0h1m1 0h18m71 0h1m1 0h4m1 0h9m2 0h9m1 0h11m1 0h8m1 0h6m1 0h2m1 0h20m1 0h1m1 0h1m1 0h1m4 0h1m3 0h1m2 0h1m1 0h4m1 0h2M37 455h1m6 0h1m11 0h85m1 0h2m1 0h3m1 0h2m58 0h39m4 0h2m2 0h1m3 0h1m1 0h1m1 0h2m3 0h1m7 0h1m8 0h1m3 0h1m8 0h1m1 0h15m73 0h21m1 0h15m1 0h3m1 0h2m1 0h6m1 0h2m1 0h2m1 0h16m1 0h3m1 0h2m2 0h1m10 0h9m1 0h1M36 456h1m15 0h1m2 0h81m1 0h5m1 0h4m1 0h3m58 0h32m1 0h1m5 0h1m1 0h2m3 0h1m2 0h1m2 0h1m3 0h1m1 0h3m2 0h1m1 0h2m3 0h1m2 0h3m4 0h1m3 0h1m2 0h1m4 0h14m8 0h1m65 0h1m1 0h13m1 0h17m1 0h19m1 0h13m1 0h4m1 0h7m1 0h3m1 0h1m1 0h1m9 0h5m1 0h2m2 0h1M51 457h2m1 0h1m1 0h86m1 0h6m1 0h1m58 0h35m2 0h1m5 0h2m5 0h1m17 0h1m10 0h1m2 0h1m4 0h2m2 0h15m1 0h1m72 0h1m2 0h11m1 0h7m1 0h7m1 0h10m3 0h24m1 0h7m2 0h2m5 0h1m1 0h1m6 0h3m1 0h1m1 0h5M30 458h1m6 0h2m2 0h1m8 0h1m2 0h1m1 0h92m1 0h2m59 0h35m2 0h1m1 0h3m4 0h1m1 0h1m3 0h3m2 0h1m2 0h1m2 0h1m2 0h1m2 0h1m4 0h2m12 0h1m1 0h16m3 0h1m70 0h23m1 0h9m1 0h2m1 0h2m1 0h9m1 0h2m2 0h12m1 0h11m1 0h1m1 0h1m10 0h1m2 0h12M46 459h1m2 0h1m1 0h1m2 0h92m1 0h1m1 0h2m58 0h34m4 0h1m2 0h1m7 0h1m4 0h1m1 0h2m17 0h1m3 0h1m2 0h1m9 0h14m3 0h1m70 0h4m1 0h12m1 0h11m1 0h9m1 0h31m1 0h3m1 0h2m2 0h1m1 0h3m6 0h3m1 0h4m1 0h4M44 460h1m3 0h1m4 0h1m1 0h89m1 0h5m59 0h31m1 0h2m1 0h1m1 0h2m2 0h1m6 0h1m2 0h1m1 0h3m1 0h2m5 0h1m6 0h1m5 0h1m11 0h1m1 0h15m6 0h1m68 0h4m1 0h7m1 0h4m1 0h4m1 0h1m1 0h14m1 0h4m1 0h1m1 0h3m1 0h1m1 0h2m2 0h12m1 0h8m4 0h1m8 0h11m1 0h1m7 0h1m1 0h1M34 461h1m8 0h1m2 0h3m1 0h101m58 0h32m5 0h1m2 0h3m1 0h1m7 0h1m2 0h1m4 0h1m1 0h2m4 0h1m2 0h1m3 0h1m14 0h14m5 0h1m70 0h16m1 0h6m1 0h16m1 0h5m1 0h7m1 0h10m1 0h2m1 0h4m1 0h1m1 0h2m1 0h2m9 0h1m2 0h2m1 0h8m1 0h1M33 462h1m7 0h1m1 0h3m1 0h1m1 0h102m58 0h32m2 0h1m5 0h1m1 0h1m2 0h1m4 0h3m5 0h2m7 0h2m13 0h1m1 0h2m4 0h15m75 0h1m1 0h2m1 0h1m1 0h9m1 0h7m1 0h2m1 0h12m1 0h21m1 0h4m1 0h3m1 0h1m1 0h7m2 0h1m7 0h4m1 0h4m1 0h3m1 0h1m2 0h1M42 463h1m2 0h2m3 0h101m58 0h30m2 0h1m1 0h1m6 0h3m5 0h1m3 0h1m1 0h1m4 0h1m1 0h1m8 0h1m2 0h1m2 0h1m6 0h1m1 0h1m2 0h15m2 0h1m73 0h6m1 0h9m1 0h7m1 0h1m1 0h11m1 0h11m1 0h4m1 0h19m5 0h1m1 0h1m5 0h1m6 0h11M34 464h1m2 0h1m5 0h4m2 0h100m1 0h1m58 0h29m1 0h4m4 0h2m2 0h1m2 0h3m4 0h1m3 0h2m3 0h1m3 0h1m17 0h1m3 0h3m1 0h15m75 0h4m1 0h2m1 0h8m2 0h1m2 0h2m1 0h1m1 0h13m1 0h7m1 0h5m1 0h6m1 0h9m1 0h9m13 0h4m1 0h6m1 0h2M33 465h2m2 0h3m2 0h3m1 0h105m58 0h30m1 0h1m3 0h1m2 0h1m4 0h1m1 0h2m1 0h1m6 0h2m5 0h1m4 0h1m7 0h1m12 0h1m1 0h14m76 0h6m1 0h2m2 0h6m1 0h4m1 0h22m1 0h25m1 0h2m2 0h1m1 0h1m4 0h1m8 0h3m1 0h9m1 0h1M34 466h1m2 0h3m2 0h6m1 0h102m58 0h32m12 0h4m4 0h2m1 0h1m2 0h2m8 0h1m2 0h1m5 0h1m1 0h1m2 0h1m7 0h12m78 0h1m2 0h17m1 0h2m1 0h11m1 0h15m1 0h5m1 0h2m1 0h16m7 0h1m8 0h3m1 0h2m2 0h4m2 0h2M39 467h4m2 0h106m58 0h31m1 0h1m6 0h2m5 0h1m8 0h2m4 0h2m6 0h1m2 0h2m4 0h1m5 0h1m4 0h1m1 0h11m1 0h1m76 0h4m1 0h13m1 0h4m1 0h7m1 0h1m1 0h2m1 0h1m1 0h8m1 0h9m1 0h20m1 0h1m6 0h1m8 0h10M32 468h1m2 0h1m1 0h2m3 0h3m1 0h105m58 0h26m1 0h2m2 0h1m1 0h1m5 0h1m1 0h1m1 0h2m2 0h2m1 0h1m6 0h1m1 0h1m7 0h1m15 0h1m6 0h11m79 0h25m1 0h2m2 0h1m1 0h1m1 0h4m1 0h6m2 0h7m1 0h21m1 0h1m2 0h1m1 0h1m2 0h1m6 0h1m1 0h4m2 0h3m1 0h1M31 469h1m4 0h1m1 0h1m1 0h1m2 0h108m58 0h26m1 0h2m4 0h1m2 0h2m1 0h1m8 0h1m15 0h1m4 0h1m3 0h1m19 0h6m2 0h2m77 0h1m1 0h2m1 0h13m1 0h1m2 0h33m1 0h9m1 0h6m1 0h2m2 0h2m2 0h1m3 0h1m7 0h2m2 0h8m2 0h1M30 470h1m2 0h2m1 0h2m1 0h112m58 0h24m1 0h1m1 0h1m4 0h1m3 0h1m3 0h2m4 0h1m2 0h2m1 0h1m7 0h2m11 0h1m3 0h1m14 0h1m1 0h4m1 0h2m80 0h14m2 0h20m1 0h27m1 0h5m1 0h2m3 0h1m13 0h1m2 0h10m3 0h1M30 471h3m1 0h117m60 0h23m13 0h1m3 0h3m3 0h3m11 0h2m17 0h1m11 0h3m2 0h1m81 0h1m1 0h1m1 0h4m1 0h6m1 0h3m1 0h24m1 0h5m1 0h1m1 0h5m1 0h7m1 0h3m1 0h1m1 0h1m2 0h1m5 0h1m7 0h1m5 0h7M30 472h4m1 0h116m60 0h1m1 0h13m1 0h2m1 0h1m2 0h1m1 0h1m1 0h1m3 0h1m12 0h1m5 0h1m1 0h1m1 0h1m2 0h1m2 0h2m6 0h2m1 0h1m2 0h1m3 0h1m6 0h1m12 0h1m80 0h2m1 0h1m1 0h4m1 0h1m1 0h8m1 0h2m1 0h16m1 0h1m1 0h2m1 0h5m1 0h20m1 0h2m1 0h1m15 0h2m1 0h7m2 0h1m3 0h1M30 473h121m59 0h1m1 0h1m1 0h4m1 0h6m1 0h2m2 0h1m4 0h1m7 0h1m1 0h1m1 0h1m11 0h1m2 0h1m3 0h1m3 0h2m9 0h2m1 0h1m7 0h1m1 0h1m94 0h23m1 0h14m1 0h18m1 0h12m2 0h2m2 0h2m11 0h1m5 0h2m1 0h5m1 0h1m1 0h1M30 474h121m58 0h1m3 0h1m4 0h1m1 0h4m3 0h1m2 0h1m2 0h1m7 0h2m6 0h1m2 0h1m6 0h2m1 0h1m29 0h1m96 0h9m1 0h3m1 0h1m1 0h13m1 0h2m1 0h24m1 0h12m2 0h1m3 0h1m15 0h1m1 0h1m1 0h9M30 475h121m60 0h1m2 0h1m1 0h2m3 0h1m2 0h3m5 0h1m5 0h1m8 0h2m18 0h1m1 0h1m15 0h2m13 0h1m89 0h16m1 0h1m1 0h28m1 0h12m1 0h2m1 0h3m1 0h4m1 0h1m16 0h2m1 0h4m1 0h3m1 0h2M30 476h121m58 0h1m13 0h1m3 0h3m7 0h1m2 0h1m12 0h1m3 0h1m2 0h1m1 0h1m1 0h1m11 0h1m10 0h1m4 0h1m3 0h1m1 0h1m92 0h10m1 0h2m1 0h8m3 0h3m1 0h5m1 0h8m1 0h20m1 0h1m1 0h1m1 0h1m1 0h1m7 0h1m10 0h2m1 0h6m2 0h3M30 477h121m73 0h1m5 0h1m5 0h1m1 0h2m1 0h1m4 0h1m8 0h1m3 0h1m1 0h2m1 0h1m3 0h1m6 0h2m7 0h1m5 0h1m99 0h6m1 0h6m1 0h3m1 0h1m1 0h2m1 0h4m1 0h13m1 0h4m1 0h14m1 0h1m2 0h4m7 0h1m6 0h1m6 0h1m3 0h1m1 0h1m1 0h6m1 0h1M30 478h121m69 0h1m5 0h1m1 0h2m20 0h1m10 0h1m5 0h1m1 0h1m11 0h1m108 0h3m1 0h4m1 0h32m1 0h12m1 0h3m1 0h2m1 0h6m21 0h1m1 0h1m3 0h4m1 0h2m2 0h1m2 0h1M30 479h121m63 0h1m18 0h1m2 0h1m11 0h1m7 0h1m4 0h1m6 0h1m17 0h1m103 0h10m1 0h3m1 0h1m2 0h4m1 0h16m1 0h9m1 0h1m1 0h2m1 0h6m1 0h1m1 0h1m1 0h1m2 0h2m14 0h1m5 0h1m2 0h5m1 0h4m2 0h1M30 480h121m78 0h1m7 0h1m13 0h2m7 0h1m2 0h1m15 0h1m8 0h1m8 0h1m92 0h11m1 0h10m1 0h19m2 0h21m3 0h1m23 0h2m4 0h6m4 0h1M30 481h121m79 0h1m1 0h1m8 0h1m15 0h1m25 0h1m7 0h1m97 0h1m1 0h4m1 0h26m2 0h13m1 0h6m1 0h7m29 0h2m1 0h9M30 482h121m85 0h1m14 0h1m2 0h1m9 0h1m1 0h1m1 0h1m7 0h1m5 0h1m4 0h1m101 0h1m1 0h3m1 0h3m1 0h1m1 0h11m1 0h4m3 0h23m1 0h1m2 0h6m1 0h2m5 0h1m3 0h1m10 0h1m5 0h1m1 0h1m1 0h1m1 0h5m2 0h2m2 0h1M30 483h121m60 0h1m11 0h1m5 0h1m8 0h1m3 0h2m1 0h1m2 0h1m2 0h1m6 0h1m8 0h1m12 0h1m5 0h1m103 0h1m1 0h1m3 0h4m1 0h6m5 0h2m3 0h3m4 0h5m1 0h2m1 0h1m1 0h8m6 0h1m2 0h1m27 0h3m2 0h4m1 0h1m1 0h1m1 0h2M30 484h121m71 0h2m5 0h1m2 0h1m8 0h1m7 0h1m11 0h1m5 0h1m13 0h1m6 0h1m12 0h1m90 0h11m1 0h4m1 0h1m4 0h1m2 0h6m1 0h6m1 0h3m2 0h2m1 0h2m1 0h1m1 0h3m1 0h1m1 0h1m31 0h1m1 0h2m2 0h4m1 0h2M30 485h121m73 0h2m7 0h1m3 0h1m20 0h1m21 0h1m109 0h3m1 0h1m1 0h3m1 0h4m1 0h1m1 0h1m4 0h3m1 0h1m1 0h2m1 0h1m3 0h2m1 0h3m3 0h1m1 0h1m3 0h2m1 0h2m1 0h2m1 0h1m1 0h1m1 0h2m10 0h1m8 0h1m5 0h1m2 0h1m1 0h3m4 0h2M30 486h121" stroke="#c0c0c0" stroke-width="1" fill="none" shape-rendering="crispEdges"/><ellipse cx="292.8" cy="97.8" rx="23.2" ry="10.2" transform="rotate(-63 292.8 97.8)" fill="none" stroke="#111" stroke-width="1.2"/><ellipse cx="287.8" cy="272.0" rx="24.8" ry="8.5" transform="rotate(-58.5 287.8 272.0)" fill="none" stroke="#111" stroke-width="1.2"/><ellipse cx="293.8" cy="448.8" rx="23.2" ry="10.2" transform="rotate(-63 293.8 448.8)" fill="none" stroke="#111" stroke-width="1.2"/><path d="M41.5 47.3h0M41.9 54.3h0M44.7 47.7h0M42.2 39.0h0M33.3 47.1h0M35.1 39.8h0M47.1 46.1h0M46.5 37.2h0M32.9 39.9h0M49.7 49.9h0M42.8 48.6h0M46.1 48.8h0M27.7 51.0h0M48.6 41.6h0M37.4 36.6h0M45.6 43.2h0M40.5 45.4h0M53.7 55.3h0M35.9 35.0h0M30.8 48.7h0M54.7 35.8h0M29.7 55.8h0M51.3 49.0h0M44.8 45.7h0M51.4 43.1h0M44.5 58.9h0M293.2 96.3h0M296.2 91.6h0M298.8 91.2h0M290.7 94.0h0M296.4 88.2h0M286.4 99.6h0M296.2 90.2h0M286.8 103.0h0M293.4 101.0h0M287.7 98.4h0M294.1 95.4h0M288.9 99.5h0M289.9 98.0h0M286.8 101.7h0M289.0 101.7h0M294.8 102.1h0M297.5 96.9h0M299.0 93.6h0M287.2 91.7h0M286.3 106.5h0M289.4 86.5h0M300.8 93.6h0M299.6 100.6h0M307.8 109.0h0M483.0 109.9h0M481.3 130.5h0M480.3 117.5h0M471.5 107.9h0M489.9 111.2h0M477.0 92.0h0M478.8 96.7h0M478.5 110.0h0M474.4 110.3h0M489.0 129.8h0M481.3 100.4h0M486.6 92.5h0M466.7 109.4h0M477.2 99.5h0M465.0 108.3h0M475.9 104.2h0M481.9 116.3h0M486.3 113.1h0M481.7 113.4h0M479.8 31.8h0M466.5 51.8h0M472.2 59.8h0M485.2 76.5h0M34.7 246.8h0M43.4 255.8h0M37.8 251.2h0M41.6 236.9h0M45.1 249.3h0M41.1 264.3h0M47.0 243.2h0M36.1 246.0h0M33.6 261.2h0M39.9 234.3h0M38.3 257.8h0M40.3 242.4h0M45.6 244.7h0M39.0 246.3h0M41.0 238.5h0M37.9 269.2h0M38.7 229.0h0M42.4 244.6h0M35.0 243.8h0M46.8 239.4h0M45.2 241.4h0M34.8 241.3h0M45.5 251.7h0M292.9 277.6h0M288.0 274.1h0M285.3 269.5h0M277.1 275.8h0M295.2 273.6h0M280.8 276.8h0M285.5 275.7h0M277.7 282.5h0M281.2 280.0h0M286.9 275.9h0M282.9 278.0h0M284.9 277.4h0M289.9 273.3h0M286.2 279.4h0M292.3 270.8h0M281.5 282.8h0M281.6 273.0h0M291.7 269.1h0M285.6 273.0h0M280.4 269.5h0M282.7 280.8h0M286.9 284.5h0M292.9 272.0h0M293.7 267.8h0M286.5 264.0h0M294.8 270.5h0M296.3 262.1h0M280.9 281.5h0M276.9 279.8h0M290.3 265.7h0M264.8 271.5h0M478.5 210.6h0M453.2 208.9h0M465.2 211.0h0M474.9 217.9h0M464.5 217.6h0M460.7 213.0h0M469.5 210.3h0M465.4 218.9h0M466.3 214.8h0M457.3 211.6h0M462.9 218.4h0M478.7 218.7h0M459.3 214.5h0M468.9 218.5h0M470.9 219.1h0M467.0 216.3h0M466.9 211.3h0M467.2 209.6h0M444.8 210.5h0M389.5 220.5h0M480.2 213.5h0M67.9 408.5h0M70.3 408.6h0M68.2 400.5h0M67.4 400.2h0M66.0 414.1h0M71.8 401.0h0M60.6 408.0h0M70.1 411.7h0M62.1 403.7h0M58.5 409.1h0M61.5 418.0h0M59.9 405.4h0M57.3 401.4h0M76.2 411.5h0M54.8 416.6h0M67.7 412.7h0M58.6 402.3h0M62.9 399.0h0M72.6 402.7h0M58.3 412.3h0M66.5 424.6h0M67.8 401.2h0M70.7 397.3h0M73.2 420.6h0M56.6 420.5h0M72.7 404.4h0M69.6 415.4h0M61.6 395.7h0M67.6 400.4h0M75.3 414.5h0M67.3 413.0h0M66.1 408.7h0M57.6 408.2h0M65.8 408.1h0M67.2 408.1h0M72.1 402.6h0M65.3 401.1h0M60.8 408.8h0M68.0 403.9h0M65.9 410.0h0M62.7 420.8h0M64.9 416.0h0M62.7 410.6h0M64.3 401.7h0M70.8 412.8h0M70.0 423.3h0M57.8 412.7h0M74.0 417.2h0M74.9 407.0h0M62.8 399.6h0M67.1 407.1h0M59.5 401.5h0M54.0 407.0h0M70.6 401.7h0M65.5 403.2h0M66.2 419.0h0M58.7 403.6h0M56.9 401.3h0M67.6 402.2h0M59.0 410.8h0M70.0 422.2h0M61.0 408.9h0M57.3 410.8h0M62.7 411.1h0M70.0 423.3h0M61.5 404.4h0M71.1 411.6h0M71.4 402.0h0M66.9 421.6h0M71.4 412.3h0M63.7 394.9h0M54.7 414.0h0M68.0 407.2h0M70.8 397.2h0M72.0 398.6h0M55.8 417.5h0M63.1 413.8h0M59.2 409.5h0M66.3 413.4h0M65.3 403.6h0M72.3 413.7h0M74.7 409.5h0M61.1 404.3h0M70.5 408.5h0M74.0 406.6h0M59.2 405.1h0M75.1 405.4h0M68.0 395.7h0M67.8 407.8h0M72.8 421.4h0M66.9 414.5h0M58.2 418.2h0M66.8 411.5h0M68.9 417.6h0M56.5 402.8h0M62.4 416.8h0M74.3 407.5h0M56.0 413.7h0M57.0 412.7h0M75.9 406.7h0M54.8 413.4h0M74.0 417.1h0M66.5 412.4h0M76.6 413.0h0M61.9 409.9h0M58.8 402.6h0M75.0 400.8h0M64.9 409.5h0M69.9 420.9h0M46.6 398.9h0M60.7 404.9h0M67.5 427.9h0M65.8 419.9h0M77.3 423.6h0M60.5 394.3h0M63.6 396.9h0M62.9 398.7h0M51.5 391.4h0M60.4 430.1h0M62.8 418.4h0M69.3 399.4h0M54.5 409.3h0M62.9 407.6h0M78.4 412.2h0M67.4 421.1h0M65.9 434.3h0M57.7 421.5h0M65.8 423.2h0M57.9 408.9h0M56.7 413.0h0M72.1 411.3h0M50.4 405.1h0M45.0 406.5h0M62.5 432.8h0M266.1 414.6h0M267.7 440.8h0M275.6 416.0h0M277.1 420.3h0M289.8 433.7h0M268.1 441.9h0M275.5 421.4h0M263.9 425.7h0M259.2 430.6h0M280.8 444.5h0M275.8 433.8h0M276.5 418.7h0M267.1 436.2h0M267.7 432.0h0M260.2 445.1h0M264.5 414.3h0M274.0 438.7h0M288.1 430.2h0M258.9 425.1h0M256.2 438.3h0M279.7 419.8h0M266.7 435.3h0M279.3 417.2h0M272.6 429.5h0M291.4 428.8h0M275.2 413.6h0M271.1 433.8h0M261.2 430.3h0M267.8 411.7h0M278.5 433.4h0M271.6 422.7h0M261.1 421.2h0M274.8 409.4h0M271.6 425.0h0M278.6 445.5h0M290.4 421.6h0M260.5 438.7h0M289.5 429.5h0M289.1 428.0h0M274.7 428.9h0M268.9 440.5h0M268.1 412.4h0M282.9 434.7h0M265.8 417.5h0M274.1 449.8h0M275.2 432.1h0M282.7 412.3h0M286.7 411.1h0M268.1 414.0h0M272.8 444.1h0M272.6 414.4h0M272.3 413.5h0M268.9 440.7h0M273.0 406.3h0M275.1 434.4h0M272.5 447.5h0M273.9 429.8h0M269.0 421.4h0M273.3 436.3h0M278.9 407.3h0M279.5 431.3h0M285.5 418.9h0M287.2 425.8h0M260.9 415.0h0M269.6 436.1h0M277.8 449.1h0M262.0 448.1h0M266.2 425.1h0M278.2 434.0h0M267.5 420.6h0M268.7 424.8h0M269.7 440.9h0M267.3 430.3h0M273.6 421.6h0M276.5 411.0h0M262.4 438.0h0M277.7 436.8h0M264.4 440.8h0M275.9 409.9h0M269.5 427.9h0M258.0 425.4h0M265.6 420.8h0M271.2 430.9h0M276.0 415.7h0M274.7 433.4h0M270.7 414.3h0M271.9 422.9h0M270.7 440.4h0M263.7 449.7h0M266.8 435.4h0M283.1 429.6h0M266.9 433.3h0M266.5 436.1h0M288.0 428.2h0M265.1 419.5h0M274.4 408.2h0M282.2 433.6h0M271.5 438.7h0M268.4 432.9h0M269.2 425.9h0M279.8 436.8h0M286.1 414.4h0M264.3 413.7h0M275.9 425.0h0M288.6 424.1h0M267.8 412.5h0M271.0 428.6h0M271.3 437.7h0M266.3 432.5h0M280.3 432.8h0M282.4 425.6h0M285.4 440.0h0M270.8 446.8h0M262.5 432.9h0M270.0 436.2h0M269.2 440.5h0M279.7 414.9h0M265.5 414.4h0M269.5 406.7h0M271.9 442.6h0M279.9 423.7h0M285.3 424.8h0M279.6 432.8h0M280.4 419.1h0M276.3 412.7h0M271.6 443.3h0M265.9 428.6h0M267.3 447.4h0M280.3 440.7h0M278.4 429.4h0M284.7 427.5h0M265.7 419.5h0M260.9 427.0h0M285.0 411.0h0M273.0 426.8h0M271.6 407.2h0M282.9 412.1h0M264.3 429.2h0M281.8 433.7h0M276.3 448.4h0M268.7 430.4h0M262.9 430.1h0M278.7 432.1h0M279.0 412.9h0M285.6 428.9h0M277.6 426.1h0M291.2 427.4h0M282.0 414.5h0M272.1 414.4h0M273.1 427.9h0M264.7 446.7h0M283.2 422.3h0M284.0 426.0h0M268.5 431.4h0M279.3 431.1h0M258.6 438.6h0M268.5 419.5h0M274.8 437.1h0M275.1 432.4h0M265.5 431.1h0M268.9 422.6h0M261.7 433.9h0M280.8 419.9h0M282.0 414.8h0M285.5 415.9h0M270.3 420.2h0M276.3 435.6h0M286.1 426.3h0M279.3 420.5h0M274.6 443.4h0M281.9 441.3h0M280.7 426.6h0M278.2 425.0h0M280.5 429.1h0M277.3 437.3h0M268.6 416.6h0M284.6 432.4h0M279.8 441.0h0M281.1 423.1h0M257.8 444.5h0M275.7 422.3h0M283.1 439.3h0M262.9 441.6h0M280.4 430.4h0M271.5 440.8h0M269.2 426.3h0M276.8 431.3h0M275.0 432.7h0M270.9 422.1h0M271.3 428.7h0M272.8 429.6h0M284.5 420.4h0M282.0 444.1h0M282.6 428.3h0M282.2 418.5h0M256.0 426.0h0M277.9 426.7h0M278.1 426.3h0M272.2 434.0h0M258.9 414.9h0M265.4 424.2h0M270.9 425.0h0M237.6 442.8h0M244.2 430.2h0M256.9 434.9h0M241.2 438.7h0M242.6 437.7h0M247.2 434.4h0M261.3 442.1h0M286.3 408.7h0M284.4 407.2h0M288.1 402.9h0M281.9 399.4h0M281.3 409.9h0M285.2 414.3h0M278.5 414.2h0M288.3 400.7h0M289.6 404.6h0M283.7 402.9h0M291.5 415.1h0M287.9 415.7h0M232.8 426.8h0M227.8 445.5h0M221.0 454.2h0M241.5 440.5h0M251.5 431.8h0M291.5 443.0h0M297.8 435.0h0M286.5 398.0h0M279.0 395.5h0M445.8 413.4h0M444.5 424.8h0M450.9 401.0h0M452.6 418.2h0M449.4 423.8h0M458.7 420.0h0M468.3 432.1h0M454.3 420.4h0M443.5 427.3h0M455.9 413.2h0M447.2 407.3h0M456.7 412.3h0M456.6 419.7h0M470.1 418.4h0M473.9 422.2h0M467.9 422.9h0M449.7 426.6h0M449.2 425.1h0M443.1 413.2h0M451.5 436.0h0M462.1 399.1h0M457.6 406.6h0M451.4 420.2h0M456.5 421.1h0M471.6 424.7h0M452.9 416.9h0M442.7 416.3h0M461.6 403.9h0M462.7 399.3h0M469.8 409.9h0M455.8 417.8h0M443.7 405.9h0M456.5 427.9h0M452.1 418.4h0M459.5 422.3h0M450.5 405.5h0M452.7 415.2h0M452.9 425.2h0M447.2 424.1h0M452.6 399.2h0M455.5 413.9h0M464.1 412.4h0M459.3 403.9h0M456.7 432.8h0M459.2 405.1h0M458.0 398.9h0M469.6 422.1h0M472.1 424.9h0M449.5 422.4h0M452.2 426.7h0M464.8 410.6h0M453.9 413.0h0M448.1 421.8h0M442.9 416.9h0M445.1 414.9h0M457.1 433.2h0M453.9 421.9h0M453.3 418.4h0M457.5 416.7h0M453.0 415.3h0M454.4 435.8h0M456.0 400.4h0M456.8 422.2h0M457.8 415.4h0M442.2 429.0h0M457.2 432.4h0M453.9 404.4h0M459.6 436.2h0M451.9 426.6h0M445.6 414.8h0M450.0 420.8h0M463.0 413.1h0M441.0 410.8h0M455.9 405.3h0M470.8 416.4h0M443.5 420.2h0M463.6 418.9h0M455.9 413.9h0M464.9 421.2h0M471.1 423.3h0M468.5 423.2h0M441.6 427.8h0M458.2 424.2h0M454.1 414.3h0M453.2 404.0h0M448.1 412.7h0M468.0 407.2h0M464.8 424.6h0M466.4 408.2h0M451.8 424.4h0M454.2 435.3h0M457.1 432.2h0M459.6 419.1h0M458.6 418.0h0M449.5 418.8h0M459.9 421.8h0M454.5 412.4h0M461.6 410.4h0M461.4 418.9h0M450.7 419.8h0M468.7 414.9h0M458.1 424.4h0M461.7 411.8h0M441.0 428.3h0M443.7 409.4h0M462.8 413.2h0M462.1 430.5h0M453.7 435.2h0M454.3 409.8h0M449.1 422.4h0M465.1 409.2h0M461.3 408.9h0M452.9 422.9h0M468.5 423.4h0M447.3 421.7h0M466.9 408.5h0M460.1 429.3h0M445.1 410.4h0M450.4 431.2h0M441.9 416.8h0M465.2 418.2h0M469.2 427.0h0M457.5 403.9h0M448.1 404.9h0M452.7 423.1h0M469.5 420.7h0M452.6 412.2h0M456.6 424.9h0M446.4 431.1h0M461.7 427.8h0M453.7 431.8h0M447.3 423.0h0M463.4 411.7h0M459.9 410.5h0M449.5 422.0h0M451.9 423.1h0M442.5 410.5h0M453.9 415.3h0M468.7 433.2h0M448.3 412.0h0M460.5 435.3h0M455.1 412.5h0M456.4 422.8h0M471.9 419.7h0M454.4 423.8h0M461.9 419.1h0M444.6 424.3h0M462.1 412.7h0M455.7 412.6h0M463.6 422.6h0M445.4 427.2h0M448.2 435.7h0M461.0 432.8h0M457.2 417.6h0M475.9 396.4h0M450.3 400.0h0M490.4 421.3h0M455.3 416.4h0M447.0 421.1h0M442.2 420.5h0M462.1 411.1h0M448.7 411.2h0M455.8 404.2h0M464.0 426.2h0M451.0 422.8h0M458.2 418.6h0M449.1 434.8h0M454.3 405.5h0M452.1 431.0h0M440.8 424.1h0M450.2 415.0h0M461.1 413.6h0M459.7 423.1h0M443.5 407.4h0M451.8 406.7h0M447.0 428.1h0M462.5 409.1h0M456.3 417.2h0M465.4 418.8h0M459.9 421.0h0M463.7 412.0h0M468.6 394.9h0M465.2 394.7h0M463.0 392.5h0M427.8 405.5h0M410.2 420.5h0M411.0 425.5h0M414.0 433.0h0M417.8 431.0h0M430.2 438.0h0M434.0 433.0h0M463.5 388.0h0" stroke="#0a0a0a" stroke-width="1.75" stroke-linecap="round" fill="none"/><path d="M41.3 49.9h0M32.8 42.2h0M42.5 44.0h0M48.4 39.8h0M37.7 44.5h0M42.2 45.7h0M50.3 34.8h0M37.3 58.8h0M50.9 40.7h0M42.8 42.1h0M45.7 31.8h0M39.9 55.5h0M30.5 31.5h0M42.6 60.4h0M34.8 44.7h0M40.7 31.8h0M36.0 50.5h0M42.4 34.9h0M40.1 41.0h0M32.5 51.7h0M47.8 44.3h0M45.0 50.5h0M34.1 33.9h0M38.5 50.3h0M37.0 32.0h0M48.8 46.3h0M37.4 56.1h0M35.9 41.8h0M294.6 92.9h0M295.7 94.0h0M300.7 94.8h0M284.5 103.2h0M291.3 95.7h0M292.9 92.4h0M290.4 101.0h0M297.5 95.1h0M301.7 80.8h0M297.5 85.2h0M290.4 91.4h0M293.1 103.1h0M292.7 94.2h0M290.9 98.8h0M296.4 96.3h0M289.5 103.0h0M293.4 99.7h0M294.9 88.2h0M293.5 89.6h0M288.5 104.4h0M293.7 86.5h0M291.7 101.4h0M293.1 91.0h0M285.7 98.6h0M299.2 84.2h0M297.5 82.9h0M291.3 83.0h0M286.6 96.6h0M291.8 104.6h0M291.6 90.5h0M299.6 95.9h0M299.0 86.0h0M292.3 98.0h0M302.2 92.8h0M292.3 100.2h0M294.6 91.4h0M306.4 85.6h0M285.4 101.5h0M295.4 97.0h0M484.7 115.7h0M481.0 106.2h0M489.5 127.2h0M462.8 117.1h0M475.2 115.1h0M460.9 122.6h0M478.2 121.6h0M468.4 106.2h0M472.9 105.2h0M471.9 124.7h0M487.0 104.6h0M477.1 106.1h0M485.9 96.0h0M481.6 108.2h0M474.0 96.8h0M471.4 102.3h0M468.3 115.1h0M480.8 111.4h0M467.3 126.5h0M493.9 101.4h0M466.7 107.1h0M484.3 106.4h0M482.8 105.3h0M472.8 37.2h0M467.8 45.5h0M471.5 48.0h0M462.8 80.2h0M38.8 249.3h0M39.7 236.0h0M53.1 245.7h0M32.3 259.1h0M41.7 240.9h0M40.7 253.1h0M37.2 225.6h0M41.4 248.7h0M37.8 259.7h0M54.7 239.3h0M45.1 247.3h0M39.1 238.7h0M42.8 238.4h0M47.0 248.2h0M42.7 252.1h0M39.1 224.7h0M42.2 233.0h0M29.6 236.8h0M44.6 233.6h0M51.4 227.2h0M41.2 273.6h0M45.9 260.2h0M35.8 238.0h0M39.8 231.2h0M41.3 250.3h0M289.4 260.7h0M288.7 271.4h0M283.4 275.5h0M287.0 270.7h0M286.8 273.5h0M281.8 278.4h0M283.7 279.1h0M286.0 280.9h0M291.1 261.5h0M289.6 274.6h0M276.5 283.1h0M285.3 263.2h0M280.5 272.7h0M288.6 269.9h0M292.0 274.8h0M278.9 277.5h0M284.9 283.7h0M282.4 271.6h0M286.1 282.5h0M291.3 272.0h0M288.1 275.5h0M277.9 279.2h0M288.6 265.5h0M283.1 285.4h0M291.4 267.5h0M288.3 262.2h0M278.4 281.0h0M282.9 269.4h0M265.8 267.8h0M278.5 263.2h0M258.5 288.5h0M271.5 279.8h0M232.2 283.0h0M209.5 278.5h0M209.5 280.2h0M231.5 223.2h0M463.1 215.2h0M461.7 207.6h0M463.3 216.3h0M469.9 214.4h0M458.7 215.9h0M461.0 206.4h0M479.6 216.1h0M474.3 211.3h0M458.4 213.5h0M463.9 213.7h0M458.3 218.4h0M467.9 212.3h0M462.6 208.8h0M464.0 211.1h0M465.3 215.4h0M473.7 216.6h0M471.0 214.2h0M477.1 211.9h0M466.1 208.3h0M462.9 212.5h0M467.4 219.4h0M471.5 212.0h0M464.3 215.7h0M468.7 223.0h0M446.0 218.0h0M411.5 209.2h0M452.8 215.5h0M63.4 405.2h0M65.9 405.0h0M56.5 405.0h0M67.6 400.2h0M72.5 409.8h0M61.2 417.6h0M70.1 408.3h0M59.7 410.0h0M71.4 404.6h0M68.0 422.9h0M70.2 410.0h0M62.2 417.7h0M65.6 408.0h0M62.7 405.0h0M64.7 410.9h0M55.3 407.3h0M60.9 421.3h0M66.8 421.1h0M59.9 409.1h0M56.9 401.0h0M61.8 404.2h0M76.2 412.7h0M64.0 409.0h0M71.8 405.7h0M61.6 407.1h0M63.2 414.0h0M55.0 405.4h0M69.6 415.7h0M67.6 420.6h0M74.6 408.7h0M70.0 401.7h0M58.3 408.0h0M55.6 413.6h0M75.7 404.6h0M59.0 420.4h0M66.1 398.2h0M72.0 414.5h0M73.0 404.0h0M57.6 419.5h0M72.9 402.1h0M62.6 395.1h0M62.2 413.6h0M61.5 420.3h0M59.3 421.5h0M59.1 405.9h0M60.6 403.2h0M67.4 396.9h0M69.6 407.9h0M55.8 413.5h0M57.5 410.4h0M67.4 421.6h0M65.1 422.3h0M66.8 412.1h0M72.6 408.8h0M62.6 396.3h0M72.2 399.2h0M69.7 412.9h0M57.1 409.5h0M61.0 418.3h0M63.1 409.1h0M64.3 409.7h0M67.5 408.8h0M70.4 399.2h0M64.5 419.5h0M62.0 401.9h0M61.8 414.9h0M67.9 407.2h0M56.5 401.5h0M59.3 397.4h0M60.1 404.5h0M64.4 416.4h0M71.3 406.2h0M56.4 409.8h0M70.5 414.8h0M55.1 412.4h0M62.2 413.3h0M63.7 400.4h0M71.1 404.1h0M58.9 416.6h0M66.9 398.0h0M56.9 420.0h0M63.5 409.8h0M66.2 404.7h0M71.7 418.2h0M76.3 409.5h0M63.0 395.3h0M65.0 406.0h0M59.3 397.3h0M69.7 405.9h0M60.6 415.4h0M65.2 400.1h0M70.9 411.4h0M61.8 421.9h0M65.3 394.5h0M61.0 410.5h0M68.6 416.2h0M69.3 414.6h0M71.6 415.7h0M59.7 414.9h0M56.2 404.0h0M65.7 424.5h0M59.7 406.2h0M58.8 418.9h0M57.3 419.7h0M67.6 403.7h0M66.2 414.1h0M72.6 420.4h0M59.5 402.2h0M61.7 420.9h0M72.9 409.7h0M63.7 402.7h0M61.8 411.6h0M72.7 403.7h0M58.8 405.8h0M66.4 410.1h0M67.1 405.7h0M60.7 403.6h0M63.1 410.5h0M63.7 414.6h0M62.7 425.1h0M72.0 421.9h0M60.4 400.6h0M66.7 416.7h0M65.6 407.8h0M69.0 405.6h0M71.6 412.3h0M62.7 408.6h0M61.6 418.3h0M62.9 412.8h0M69.5 410.2h0M61.5 398.3h0M63.0 401.7h0M59.0 407.5h0M63.3 417.9h0M67.1 422.2h0M67.0 411.6h0M67.3 411.9h0M65.5 409.8h0M71.7 410.8h0M72.2 402.2h0M59.1 408.7h0M58.9 403.9h0M72.2 409.1h0M65.1 409.9h0M70.5 404.8h0M66.2 410.2h0M65.8 397.5h0M65.5 406.1h0M73.6 415.3h0M60.4 417.2h0M60.3 413.3h0M65.6 421.5h0M69.7 398.4h0M73.2 414.5h0M70.6 403.5h0M62.6 411.0h0M67.9 419.0h0M66.9 397.2h0M71.2 420.0h0M72.3 401.9h0M62.3 420.8h0M58.7 414.3h0M69.7 416.5h0M66.1 418.2h0M67.9 403.4h0M65.9 408.1h0M56.4 412.0h0M68.1 394.9h0M64.6 414.3h0M67.2 421.1h0M70.5 415.7h0M70.1 415.1h0M67.9 420.8h0M55.9 415.1h0M64.0 419.1h0M69.2 406.6h0M71.0 417.3h0M58.1 403.0h0M56.8 404.2h0M63.4 399.2h0M68.5 410.4h0M73.0 420.7h0M70.8 410.5h0M61.2 419.7h0M67.4 401.2h0M67.4 395.8h0M67.0 408.9h0M73.7 409.0h0M62.1 415.2h0M64.3 406.1h0M71.1 424.4h0M62.4 423.6h0M68.7 418.3h0M70.8 407.8h0M58.9 413.4h0M68.8 404.5h0M54.8 401.4h0M70.4 414.3h0M63.5 393.9h0M48.8 423.0h0M51.2 418.1h0M80.4 388.7h0M64.6 399.9h0M58.5 406.1h0M66.9 417.4h0M55.0 421.5h0M55.9 428.4h0M53.1 414.4h0M49.8 409.3h0M56.6 396.8h0M58.6 416.6h0M49.0 412.6h0M70.0 412.1h0M63.7 412.2h0M59.6 400.3h0M56.3 423.7h0M66.4 426.3h0M64.3 403.1h0M63.3 427.0h0M61.4 425.6h0M57.4 398.9h0M67.9 406.4h0M35.0 439.8h0M47.0 437.0h0M43.0 427.0h0M40.0 416.5h0M43.8 419.0h0M60.0 391.5h0M260.2 430.4h0M276.4 418.9h0M266.6 434.3h0M272.4 429.2h0M265.9 440.4h0M268.5 425.9h0M272.4 430.1h0M272.1 430.9h0M267.9 413.3h0M261.2 428.9h0M268.9 439.1h0M272.3 434.6h0M262.1 424.1h0M276.3 424.3h0M266.1 444.0h0M270.1 429.7h0M260.3 434.5h0M263.7 433.5h0M270.4 442.9h0M261.3 433.9h0M259.3 426.7h0M267.7 440.1h0M276.8 421.5h0M273.2 423.1h0M263.6 417.6h0M272.0 427.2h0M267.0 431.7h0M265.5 422.9h0M266.9 444.8h0M276.9 428.4h0M273.7 423.4h0M280.0 437.6h0M276.8 409.9h0M277.9 440.9h0M280.8 435.7h0M265.1 431.4h0M266.6 439.2h0M281.2 421.1h0M285.6 411.8h0M281.8 445.6h0M276.6 439.2h0M269.6 430.1h0M263.3 435.9h0M271.8 430.2h0M265.0 418.3h0M274.3 410.4h0M262.1 445.2h0M279.9 430.5h0M270.3 429.7h0M259.8 438.8h0M286.4 430.2h0M278.6 431.7h0M275.3 422.2h0M266.5 432.2h0M274.3 439.6h0M279.0 411.2h0M279.2 426.3h0M269.4 418.1h0M277.3 410.4h0M272.8 430.4h0M283.5 423.1h0M257.9 439.3h0M280.4 413.9h0M279.9 421.6h0M280.3 437.7h0M282.1 427.6h0M274.7 425.4h0M255.1 430.8h0M272.1 421.6h0M266.0 434.5h0M270.6 440.6h0M287.5 420.2h0M282.9 431.7h0M275.6 415.4h0M286.4 418.0h0M264.4 427.4h0M274.4 435.0h0M280.1 424.2h0M279.8 412.0h0M270.5 420.8h0M278.2 423.4h0M285.2 434.6h0M270.5 424.8h0M281.4 421.6h0M281.4 445.1h0M267.5 425.1h0M288.0 434.1h0M277.5 437.2h0M276.1 412.9h0M269.0 410.8h0M272.2 439.6h0M283.2 425.7h0M267.2 425.1h0M281.6 420.6h0M284.9 429.3h0M271.1 443.9h0M284.9 437.2h0M271.3 434.3h0M269.4 426.1h0M269.7 423.8h0M277.0 425.8h0M274.0 416.1h0M269.4 444.4h0M262.7 419.6h0M268.2 435.1h0M262.7 420.1h0M284.7 420.9h0M263.6 429.0h0M286.5 414.6h0M277.5 420.9h0M268.8 427.9h0M268.4 447.2h0M285.7 417.9h0M285.2 431.8h0M262.8 433.9h0M265.2 422.3h0M273.9 418.1h0M257.5 431.9h0M278.4 449.1h0M269.8 442.0h0M261.7 428.1h0M265.3 429.1h0M258.4 442.0h0M271.4 414.6h0M271.8 432.4h0M268.1 433.9h0M264.7 420.3h0M273.3 426.8h0M278.4 433.1h0M260.6 427.1h0M277.2 437.9h0M270.7 441.1h0M272.6 423.0h0M272.4 417.2h0M278.9 417.1h0M277.9 448.5h0M267.2 424.3h0M277.0 437.2h0M276.6 414.0h0M276.9 435.0h0M278.7 436.1h0M262.4 420.9h0M263.8 435.7h0M284.6 417.6h0M269.7 449.1h0M287.8 421.7h0M281.5 419.4h0M274.8 438.4h0M270.7 450.5h0M261.6 441.4h0M284.4 426.5h0M263.3 441.3h0M260.3 418.9h0M273.2 427.8h0M269.6 437.7h0M272.2 411.6h0M285.9 438.8h0M264.3 426.5h0M277.4 446.3h0M271.6 443.3h0M259.2 437.3h0M266.8 427.8h0M268.6 448.0h0M255.0 430.5h0M266.7 432.8h0M263.1 421.3h0M283.9 429.4h0M277.3 437.1h0M278.6 429.9h0M264.3 444.8h0M268.2 421.0h0M285.1 428.4h0M262.3 435.8h0M283.9 422.2h0M282.6 442.8h0M258.4 424.5h0M272.5 419.7h0M274.3 420.8h0M280.7 416.7h0M271.4 414.8h0M260.8 426.4h0M275.3 439.2h0M272.8 424.2h0M277.2 423.7h0M272.7 443.0h0M281.5 424.1h0M278.4 416.6h0M277.9 430.3h0M272.9 425.7h0M281.7 408.2h0M278.5 421.6h0M286.5 429.3h0M274.0 420.2h0M283.3 435.5h0M275.9 428.1h0M263.1 423.7h0M276.6 445.0h0M277.0 441.0h0M258.9 423.0h0M260.0 426.2h0M267.3 433.4h0M257.6 431.0h0M265.1 428.6h0M274.2 437.6h0M278.2 428.7h0M277.4 426.1h0M276.4 414.7h0M266.2 418.9h0M271.9 414.5h0M276.1 412.9h0M280.9 427.1h0M274.3 428.7h0M259.8 424.6h0M266.5 434.1h0M278.2 410.1h0M258.5 433.7h0M284.5 421.3h0M269.2 424.9h0M284.4 422.9h0M281.8 431.8h0M267.8 420.4h0M275.4 438.1h0M261.5 437.3h0M267.5 422.7h0M275.8 406.6h0M268.8 417.8h0M270.9 432.3h0M263.1 419.4h0M276.1 437.5h0M267.1 422.2h0M265.2 436.4h0M268.4 420.0h0M258.2 436.3h0M274.6 436.0h0M276.5 441.7h0M257.6 420.9h0M281.5 424.3h0M285.9 416.0h0M261.8 424.2h0M280.1 413.8h0M257.4 424.1h0M265.5 440.4h0M269.1 409.7h0M261.3 415.8h0M281.4 427.2h0M277.6 438.3h0M261.3 418.2h0M270.0 408.6h0M281.0 414.7h0M263.3 418.0h0M258.2 429.9h0M277.1 432.0h0M281.1 441.1h0M259.3 437.7h0M275.8 427.1h0M271.0 424.4h0M265.2 426.4h0M269.6 441.0h0M272.5 444.8h0M275.9 417.9h0M258.8 443.8h0M274.1 433.9h0M290.0 424.0h0M264.1 416.1h0M275.0 419.6h0M263.5 428.1h0M269.5 431.2h0M258.4 425.0h0M279.9 447.8h0M263.7 445.4h0M272.3 423.5h0M265.2 424.6h0M283.0 426.0h0M269.0 433.5h0M278.7 440.6h0M268.2 433.4h0M278.7 440.6h0M267.1 450.9h0M265.5 430.9h0M287.5 437.3h0M281.8 437.5h0M267.1 439.2h0M276.2 416.8h0M283.3 429.6h0M264.7 431.6h0M264.3 433.8h0M288.7 431.8h0M268.7 417.6h0M265.9 451.0h0M282.6 426.4h0M275.2 419.3h0M279.9 422.6h0M271.3 436.6h0M279.4 426.8h0M272.4 434.3h0M266.1 421.4h0M264.9 436.5h0M287.0 437.4h0M282.0 439.6h0M271.7 435.6h0M250.4 446.0h0M236.8 449.9h0M240.5 431.6h0M244.9 448.2h0M285.9 401.1h0M282.5 412.5h0M281.7 406.3h0M284.6 396.8h0M284.0 416.7h0M281.3 416.3h0M280.5 401.5h0M288.8 394.0h0M278.7 410.2h0M284.6 405.1h0M278.3 402.8h0M287.1 411.8h0M289.6 414.9h0M288.4 408.6h0M272.6 408.5h0M277.2 407.7h0M237.8 439.2h0M230.2 455.0h0M246.5 441.8h0M249.0 439.2h0M250.2 428.0h0M252.8 424.2h0M287.2 458.0h0M289.0 401.8h0M458.7 417.0h0M452.1 417.0h0M464.9 406.1h0M458.5 427.4h0M458.8 417.3h0M451.9 417.8h0M471.2 405.9h0M444.2 428.5h0M459.7 416.1h0M446.4 423.3h0M457.5 415.4h0M441.0 422.7h0M442.8 414.8h0M442.4 430.7h0M453.7 413.9h0M458.3 424.7h0M467.2 424.1h0M462.9 410.6h0M448.3 403.8h0M459.6 428.9h0M465.0 419.7h0M452.0 412.8h0M459.0 412.8h0M450.8 407.1h0M471.4 416.2h0M462.9 412.8h0M460.0 423.3h0M457.7 402.8h0M449.7 421.8h0M465.1 415.9h0M440.6 418.1h0M450.3 425.1h0M455.3 413.2h0M465.9 433.3h0M468.7 432.2h0M454.0 405.9h0M459.3 414.1h0M465.4 421.0h0M469.7 427.7h0M445.1 422.0h0M448.8 399.9h0M460.2 411.6h0M461.9 428.4h0M455.8 428.2h0M441.9 422.5h0M462.9 424.1h0M460.1 432.8h0M451.4 402.7h0M466.0 426.7h0M455.1 402.7h0M451.7 425.8h0M452.0 428.7h0M469.9 427.5h0M468.4 423.7h0M465.4 429.0h0M461.1 418.8h0M456.7 415.0h0M450.1 403.3h0M456.4 426.1h0M452.7 419.3h0M460.7 405.7h0M465.7 419.3h0M445.5 430.8h0M461.7 417.7h0M451.8 418.8h0M454.6 407.2h0M467.7 420.0h0M467.5 413.4h0M463.8 429.7h0M460.7 427.7h0M466.3 407.0h0M461.3 419.9h0M448.5 424.1h0M464.9 408.9h0M451.5 413.2h0M451.4 401.8h0M448.9 419.8h0M452.3 401.0h0M451.2 413.3h0M448.2 413.8h0M455.1 413.9h0M442.5 419.5h0M460.9 423.1h0M451.6 411.0h0M455.7 425.3h0M462.6 422.3h0M455.4 413.2h0M465.3 407.8h0M454.3 412.1h0M442.8 410.8h0M449.3 416.2h0M462.4 432.5h0M463.7 410.9h0M472.1 424.0h0M456.2 420.7h0M467.5 413.6h0M457.5 412.2h0M439.7 411.1h0M456.7 424.4h0M457.5 406.8h0M469.4 420.9h0M458.4 419.6h0M468.6 428.8h0M459.7 399.2h0M452.4 420.0h0M456.0 433.6h0M455.8 418.3h0M458.9 399.9h0M449.8 405.4h0M449.2 415.2h0M450.8 422.9h0M454.6 411.2h0M459.5 398.5h0M473.5 422.5h0M453.2 409.2h0M446.4 420.4h0M453.6 431.8h0M464.1 406.4h0M469.4 418.6h0M471.1 424.7h0M459.4 411.8h0M462.5 400.5h0M454.2 422.0h0M455.9 432.1h0M461.6 416.4h0M458.5 432.2h0M451.9 413.8h0M463.5 408.2h0M452.3 406.9h0M468.6 428.9h0M459.3 422.0h0M458.6 420.4h0M470.4 405.3h0M444.8 423.8h0M474.5 416.3h0M455.5 427.8h0M458.7 421.8h0M453.7 433.0h0M453.5 409.0h0M441.8 408.6h0M443.8 405.1h0M446.9 420.5h0M460.6 428.6h0M466.3 412.0h0M458.1 402.3h0M459.6 415.4h0M468.3 414.9h0M448.1 411.5h0M462.2 417.3h0M443.7 409.8h0M449.1 417.9h0M459.1 419.7h0M464.2 403.3h0M460.1 412.3h0M462.2 423.2h0M452.7 407.1h0M458.4 406.2h0M444.3 417.6h0M451.9 411.2h0M464.4 404.8h0M459.3 405.8h0M458.5 427.3h0M468.9 411.7h0M452.7 426.3h0M454.7 408.2h0M447.9 420.7h0M462.7 430.2h0M466.0 413.7h0M452.8 411.8h0M448.7 403.5h0M449.3 432.7h0M447.7 430.7h0M446.8 418.8h0M455.1 432.9h0M461.4 406.5h0M459.3 430.8h0M463.4 418.1h0M445.6 423.5h0M464.3 413.9h0M464.5 427.3h0M467.6 430.3h0M449.9 406.5h0M455.6 413.7h0M464.4 432.9h0M451.6 400.1h0M456.4 398.8h0M443.7 427.0h0M458.7 407.3h0M468.2 412.5h0M443.3 426.3h0M444.0 421.5h0M474.6 415.2h0M440.6 423.7h0M449.2 435.9h0M458.9 412.7h0M453.4 420.1h0M458.6 406.0h0M448.4 423.1h0M456.5 413.2h0M450.2 400.4h0M468.5 421.0h0M454.6 407.9h0M442.1 427.2h0M472.5 415.9h0M458.1 417.8h0M447.4 429.3h0M460.2 411.2h0M450.4 399.5h0M450.0 427.6h0M452.0 421.3h0M454.6 410.3h0M466.0 419.2h0M449.1 416.9h0M460.8 420.3h0M462.0 409.6h0M456.1 397.1h0M454.2 404.5h0M471.3 425.8h0M452.0 427.3h0M455.8 427.4h0M456.4 419.0h0M457.5 423.5h0M458.0 424.6h0M447.2 411.8h0M460.6 399.0h0M458.6 413.1h0M463.8 430.2h0M450.8 426.9h0M458.8 408.1h0M465.9 414.7h0M457.5 403.4h0M455.6 404.6h0M443.7 422.1h0M446.0 419.6h0M447.1 418.3h0M455.0 413.4h0M451.1 426.6h0M453.6 415.6h0M472.4 430.7h0M471.3 419.6h0M458.3 422.9h0M459.4 423.3h0M448.2 414.7h0M462.6 418.9h0M437.4 417.6h0M453.0 393.3h0M468.2 407.0h0M446.5 412.9h0M458.1 429.9h0M436.7 438.1h0M457.4 440.1h0M460.8 405.5h0M443.7 415.9h0M453.6 439.2h0M453.6 430.8h0M465.2 423.9h0M458.2 420.4h0M442.9 418.4h0M463.8 436.9h0M456.1 431.5h0M466.9 420.8h0M460.8 412.7h0M452.8 422.2h0M456.2 426.6h0M444.6 404.3h0M465.9 409.6h0M462.7 430.9h0M443.9 421.6h0M453.7 414.8h0M456.6 407.3h0M466.5 387.1h0M466.6 391.2h0M465.4 398.4h0M468.6 398.2h0M461.4 390.6h0M464.2 385.7h0M409.0 431.8h0M407.8 436.0h0M421.5 426.8h0M422.8 431.8h0M426.5 433.0h0M430.2 426.8h0M432.8 424.2h0M432.8 416.8h0M464.0 383.0h0M466.5 391.8h0" stroke="#0a0a0a" stroke-width="2.20" stroke-linecap="round" fill="none"/><path d="M39.7 39.2h0M38.3 41.1h0M29.1 36.5h0M29.5 43.7h0M42.3 37.2h0M47.3 53.0h0M39.4 42.8h0M39.3 52.4h0M30.2 50.4h0M49.6 55.0h0M49.7 44.2h0M36.6 48.3h0M34.3 37.0h0M34.7 48.7h0M37.1 52.6h0M44.0 27.6h0M37.6 46.5h0M54.2 43.9h0M290.0 104.5h0M289.3 93.0h0M302.1 94.7h0M291.6 92.4h0M300.5 90.3h0M295.7 98.3h0M290.8 89.4h0M300.0 88.4h0M297.5 86.9h0M289.7 96.8h0M287.9 93.2h0M298.0 89.6h0M288.2 96.0h0M309.0 92.5h0M474.9 107.5h0M465.1 114.5h0M464.3 102.5h0M465.1 110.7h0M485.4 117.7h0M491.9 110.3h0M475.1 119.7h0M478.3 112.2h0M472.0 116.1h0M470.3 91.3h0M478.6 126.1h0M472.1 92.2h0M479.1 114.9h0M474.7 113.0h0M480.2 104.1h0M473.4 103.0h0M468.6 103.4h0M477.5 128.0h0M466.5 38.0h0M464.0 130.2h0M467.8 129.8h0M40.4 257.2h0M44.7 236.8h0M47.6 272.3h0M40.2 262.8h0M46.1 255.3h0M47.9 233.4h0M47.9 241.3h0M48.0 254.2h0M52.1 265.9h0M28.3 237.8h0M40.0 258.8h0M34.0 258.1h0M34.8 231.5h0M46.9 246.5h0M42.8 266.7h0M50.4 236.9h0M51.5 250.0h0M47.7 236.4h0M36.2 257.3h0M49.7 222.7h0M33.6 245.2h0M47.6 225.5h0M288.4 282.1h0M281.0 275.7h0M283.1 274.1h0M287.6 277.9h0M290.0 268.2h0M282.2 275.9h0M280.1 283.2h0M288.2 268.2h0M292.4 280.2h0M284.0 272.4h0M279.2 274.9h0M285.0 279.6h0M259.5 267.0h0M272.0 270.8h0M259.0 286.0h0M265.2 283.5h0M231.5 282.2h0M473.0 207.4h0M469.8 217.7h0M472.5 218.8h0M472.9 213.9h0M463.3 210.0h0M460.8 214.7h0M460.0 210.6h0M477.2 215.4h0M461.0 216.1h0M459.8 216.2h0M456.8 218.5h0M462.2 216.3h0M459.5 212.8h0M437.8 213.0h0M439.5 215.5h0M444.0 214.2h0M411.5 218.0h0M389.0 218.0h0M451.5 211.8h0M64.5 423.0h0M65.4 408.5h0M65.1 397.5h0M56.0 416.6h0M61.9 406.5h0M58.2 400.7h0M59.2 411.2h0M57.7 412.7h0M63.3 421.7h0M61.1 411.8h0M67.3 411.3h0M62.5 404.3h0M57.2 409.6h0M57.9 414.5h0M61.2 401.5h0M67.7 420.8h0M66.0 422.7h0M65.7 400.1h0M62.8 417.9h0M70.2 402.8h0M70.4 407.3h0M71.3 400.0h0M71.4 421.9h0M60.0 418.1h0M62.1 401.8h0M67.3 410.9h0M73.9 417.2h0M70.3 409.0h0M66.4 409.9h0M57.4 415.7h0M61.9 406.9h0M71.6 417.3h0M68.9 413.9h0M59.5 406.4h0M67.7 416.8h0M73.6 411.1h0M63.8 406.8h0M61.1 409.2h0M60.6 408.5h0M75.9 409.6h0M62.3 395.1h0M62.3 402.6h0M56.9 417.1h0M59.8 410.9h0M61.1 395.3h0M70.6 405.8h0M74.7 403.4h0M67.7 402.9h0M59.2 410.8h0M56.9 401.8h0M69.1 414.8h0M62.3 415.2h0M59.9 399.1h0M64.0 408.3h0M73.1 415.2h0M63.2 414.7h0M72.7 403.9h0M63.1 413.4h0M57.7 402.4h0M61.4 409.2h0M65.0 407.9h0M58.1 411.4h0M66.9 398.2h0M62.9 407.3h0M54.1 408.5h0M72.5 401.3h0M63.8 410.7h0M76.0 410.5h0M70.0 417.6h0M74.2 405.8h0M63.3 399.4h0M67.2 398.4h0M62.5 398.6h0M68.0 407.0h0M61.9 417.6h0M73.7 407.5h0M59.1 411.8h0M63.6 408.4h0M64.9 419.8h0M59.8 401.6h0M73.4 415.4h0M68.0 415.5h0M62.5 394.5h0M63.6 419.9h0M69.7 415.9h0M61.5 395.2h0M66.3 407.3h0M70.3 414.2h0M61.0 401.1h0M61.7 413.0h0M62.7 413.3h0M66.0 402.3h0M75.7 407.1h0M66.3 403.9h0M64.6 395.5h0M73.4 408.5h0M68.4 414.1h0M60.4 401.1h0M69.5 409.0h0M73.7 414.6h0M69.0 420.4h0M71.8 411.0h0M63.5 400.5h0M68.4 407.8h0M61.3 414.9h0M66.8 399.9h0M65.1 395.7h0M65.9 401.7h0M58.7 419.5h0M72.8 418.3h0M55.5 406.4h0M60.0 397.5h0M68.2 410.9h0M65.3 405.4h0M72.4 416.3h0M55.8 401.1h0M61.1 400.9h0M66.5 403.1h0M76.4 402.2h0M71.2 404.8h0M64.4 415.4h0M60.7 402.8h0M52.5 399.7h0M56.1 407.3h0M59.7 424.2h0M59.5 398.0h0M49.5 407.3h0M61.7 400.8h0M56.3 411.1h0M73.2 404.6h0M70.6 402.4h0M70.5 416.3h0M53.2 405.6h0M58.8 419.8h0M58.4 411.5h0M59.3 436.1h0M55.1 418.7h0M72.6 413.9h0M67.1 414.9h0M58.1 427.4h0M73.1 421.2h0M45.9 405.8h0M72.8 426.0h0M69.5 410.0h0M61.7 421.0h0M53.6 411.6h0M63.4 430.4h0M47.1 420.0h0M54.6 431.4h0M72.3 419.4h0M84.3 421.0h0M45.1 410.6h0M47.0 413.3h0M54.5 403.5h0M80.5 411.2h0M75.5 434.6h0M38.8 412.8h0M42.5 407.8h0M71.2 390.2h0M68.8 430.2h0M263.5 447.4h0M272.8 419.4h0M272.5 426.2h0M262.2 424.6h0M279.2 431.6h0M267.5 432.7h0M276.9 430.9h0M269.1 441.6h0M269.8 430.6h0M270.3 440.7h0M269.1 427.9h0M271.7 450.4h0M284.3 431.3h0M270.5 422.1h0M268.9 423.6h0M276.8 435.3h0M282.1 438.1h0M266.0 432.2h0M277.0 430.7h0M272.9 422.9h0M272.2 415.6h0M271.7 434.8h0M273.2 430.2h0M263.6 428.2h0M277.8 416.6h0M284.3 434.4h0M288.0 431.1h0M273.6 438.8h0M278.0 436.3h0M277.2 432.0h0M265.8 423.4h0M261.3 425.4h0M263.5 417.9h0M261.0 437.8h0M257.4 418.8h0M277.0 418.5h0M288.7 415.1h0M280.5 431.1h0M280.3 421.3h0M260.5 418.2h0M274.7 448.3h0M269.5 415.7h0M272.6 417.5h0M262.3 417.9h0M282.7 415.6h0M276.5 434.9h0M266.2 418.4h0M277.1 440.4h0M287.3 418.8h0M264.3 442.4h0M259.6 432.9h0M275.1 420.2h0M276.9 443.2h0M262.3 430.2h0M285.3 416.2h0M276.4 432.8h0M263.8 435.3h0M270.2 420.0h0M263.4 433.7h0M272.6 436.0h0M285.6 422.3h0M268.1 425.5h0M268.5 443.7h0M276.3 446.8h0M270.0 421.4h0M267.6 438.6h0M254.8 428.8h0M270.0 430.5h0M256.4 437.6h0M289.1 420.0h0M284.0 422.6h0M282.3 420.4h0M273.5 433.9h0M268.1 431.8h0M280.9 427.7h0M283.5 419.3h0M275.4 433.4h0M276.8 444.2h0M268.9 434.9h0M273.4 440.9h0M284.3 438.5h0M274.7 432.2h0M276.3 435.3h0M269.7 431.5h0M273.8 438.1h0M281.9 424.1h0M270.4 409.1h0M285.6 442.6h0M273.9 438.6h0M276.8 418.6h0M280.8 436.1h0M266.4 445.6h0M282.4 428.1h0M271.4 428.5h0M278.0 411.0h0M273.0 440.3h0M261.1 435.9h0M256.7 429.8h0M260.4 439.5h0M261.4 418.9h0M276.2 417.1h0M266.7 427.6h0M275.0 436.1h0M259.4 434.1h0M265.4 434.1h0M274.9 426.4h0M259.6 423.9h0M267.5 441.6h0M269.3 424.4h0M265.1 449.1h0M276.4 422.1h0M277.7 419.3h0M259.0 443.5h0M275.8 431.6h0M261.0 445.4h0M261.0 443.1h0M270.9 434.9h0M275.9 434.1h0M274.7 415.3h0M261.8 428.9h0M267.1 433.4h0M261.4 420.9h0M279.2 417.1h0M265.1 450.6h0M269.8 416.2h0M275.1 431.1h0M272.0 433.1h0M290.7 429.5h0M281.7 434.0h0M285.1 410.4h0M272.2 430.6h0M283.3 439.0h0M272.3 431.7h0M267.5 429.6h0M268.3 436.6h0M274.6 421.8h0M283.7 417.3h0M259.3 422.5h0M271.2 412.9h0M278.1 438.0h0M258.6 418.6h0M270.7 444.0h0M277.3 427.5h0M283.0 416.3h0M279.2 411.8h0M260.7 432.0h0M258.3 435.1h0M283.1 428.0h0M257.7 435.5h0M261.9 436.0h0M267.0 425.0h0M276.4 410.8h0M264.2 421.4h0M272.6 421.5h0M263.6 446.1h0M276.9 439.0h0M266.9 441.0h0M260.5 421.9h0M275.6 432.3h0M265.4 419.4h0M279.5 432.0h0M276.0 418.1h0M270.9 425.8h0M270.0 424.3h0M281.0 441.4h0M265.7 423.7h0M279.4 428.8h0M270.4 427.8h0M261.5 438.3h0M262.2 439.9h0M261.9 426.9h0M291.1 425.7h0M257.1 442.8h0M265.1 447.8h0M266.2 442.6h0M264.0 432.3h0M284.3 428.1h0M268.5 424.3h0M246.2 426.6h0M255.7 439.7h0M249.3 444.8h0M248.5 446.7h0M255.2 429.5h0M280.9 403.6h0M282.5 414.4h0M284.5 409.5h0M275.9 401.6h0M280.2 419.0h0M281.6 395.8h0M288.3 397.4h0M227.8 433.0h0M230.2 429.2h0M236.5 435.5h0M236.0 444.2h0M229.0 452.5h0M287.8 446.8h0M286.5 451.8h0M264.0 399.2h0M456.9 411.6h0M447.1 413.2h0M466.3 424.1h0M451.1 425.1h0M459.1 429.1h0M458.2 426.2h0M471.2 415.2h0M451.2 431.1h0M450.7 414.0h0M462.5 402.9h0M451.3 425.0h0M462.2 426.8h0M461.5 433.1h0M446.0 421.2h0M453.0 415.0h0M470.4 428.3h0M452.6 411.2h0M466.3 414.7h0M444.3 410.0h0M453.8 404.1h0M449.0 429.3h0M442.6 409.0h0M468.7 423.7h0M451.9 425.7h0M448.3 433.3h0M451.2 408.1h0M452.2 428.7h0M455.5 427.1h0M465.0 402.8h0M445.3 429.6h0M450.3 421.6h0M466.4 401.6h0M460.9 414.1h0M462.0 412.2h0M455.9 429.2h0M462.9 421.1h0M462.4 417.7h0M459.4 416.7h0M473.6 419.7h0M444.1 422.1h0M447.8 414.0h0M465.9 414.2h0M449.3 399.8h0M450.8 418.3h0M452.3 417.6h0M458.1 432.4h0M447.4 418.5h0M448.0 412.2h0M474.3 420.0h0M456.7 420.2h0M452.1 423.8h0M448.8 411.8h0M457.4 416.6h0M452.2 432.9h0M458.3 426.0h0M444.9 408.5h0M457.0 426.2h0M470.2 430.8h0M460.2 416.4h0M451.3 411.7h0M453.4 402.6h0M462.5 417.7h0M457.7 422.2h0M461.9 436.5h0M448.1 424.6h0M450.3 417.8h0M455.7 401.6h0M460.5 432.3h0M449.9 407.7h0M465.2 405.3h0M467.1 419.6h0M457.9 427.9h0M462.0 422.0h0M464.6 420.9h0M468.1 424.0h0M468.2 430.0h0M467.0 413.9h0M456.9 419.8h0M455.4 422.9h0M461.4 429.7h0M464.9 408.3h0M468.5 413.6h0M461.4 414.2h0M457.3 431.0h0M459.2 420.5h0M461.0 417.2h0M450.7 404.8h0M454.2 405.0h0M446.1 403.4h0M455.4 419.6h0M459.6 423.7h0M447.6 407.3h0M450.8 427.2h0M455.4 400.8h0M457.0 421.5h0M445.2 405.4h0M457.7 407.3h0M448.5 432.6h0M465.6 416.7h0M463.0 414.0h0M452.5 428.5h0M456.9 409.3h0M450.9 404.5h0M450.5 436.5h0M464.1 418.3h0M463.7 417.3h0M464.0 433.5h0M471.8 407.1h0M452.1 403.5h0M454.0 429.9h0M463.3 402.2h0M447.1 407.2h0M458.9 416.3h0M464.7 417.2h0M463.0 415.8h0M465.4 405.0h0M452.9 420.4h0M455.3 419.6h0M461.5 419.7h0M457.6 437.8h0M447.5 411.6h0M448.1 422.9h0M461.2 414.8h0M469.8 414.7h0M448.8 421.7h0M464.4 415.2h0M454.5 423.9h0M456.1 440.1h0M480.9 405.1h0M456.1 408.4h0M464.7 420.4h0M444.7 425.7h0M443.8 431.2h0M453.4 388.3h0M459.8 430.1h0M438.8 406.8h0M439.1 415.6h0M436.0 418.1h0M455.5 420.5h0M459.9 431.0h0M451.5 418.7h0M457.3 429.3h0M451.7 408.2h0M452.5 422.6h0M443.0 409.8h0M457.9 403.9h0M450.5 409.8h0M456.9 445.1h0M454.2 427.3h0M453.0 418.9h0M457.7 423.9h0M450.8 416.4h0M452.1 425.3h0M450.2 409.7h0M462.0 411.6h0M451.9 411.9h0M444.3 417.3h0M455.5 407.4h0M468.0 404.1h0M467.6 419.8h0M455.7 411.8h0M450.2 413.5h0M461.4 436.2h0M446.7 417.6h0M452.8 410.2h0M461.8 424.3h0M469.8 405.7h0M447.6 424.2h0M443.2 440.6h0M463.4 389.3h0M466.5 401.6h0M464.1 401.2h0M410.2 411.8h0M412.8 411.8h0M402.0 436.0h0M416.5 438.0h0M435.2 412.5h0" stroke="#0a0a0a" stroke-width="2.70" stroke-linecap="round" fill="none"/><rect x="28.1" y="10.8" width="121.9" height="124.2" fill="none" stroke="#000" stroke-width="1.15"/><path d="M28.6 135.0v5.0M58.7 135.0v5.0M88.8 135.0v5.0M119.0 135.0v5.0M149.1 135.0v5.0M37.7 135.0v1.6M43.0 135.0v1.6M46.7 135.0v1.6M49.7 135.0v1.6M52.0 135.0v1.6M54.1 135.0v1.6M55.8 135.0v1.6M57.3 135.0v1.6M67.8 135.0v1.6M73.1 135.0v1.6M76.9 135.0v1.6M79.8 135.0v1.6M82.2 135.0v1.6M84.2 135.0v1.6M85.9 135.0v1.6M87.5 135.0v1.6M97.9 135.0v1.6M103.2 135.0v1.6M107.0 135.0v1.6M109.9 135.0v1.6M112.3 135.0v1.6M114.3 135.0v1.6M116.1 135.0v1.6M117.6 135.0v1.6M128.0 135.0v1.6M133.3 135.0v1.6M137.1 135.0v1.6M140.0 135.0v1.6M142.4 135.0v1.6M144.4 135.0v1.6M146.2 135.0v1.6M147.7 135.0v1.6M28.1 133.9h-5.0M28.1 103.2h-5.0M28.1 72.5h-5.0M28.1 41.7h-5.0M28.1 11.0h-5.0M28.1 124.7h-1.6M28.1 119.2h-1.6M28.1 115.4h-1.6M28.1 112.4h-1.6M28.1 110.0h-1.6M28.1 107.9h-1.6M28.1 106.2h-1.6M28.1 104.6h-1.6M28.1 93.9h-1.6M28.1 88.5h-1.6M28.1 84.7h-1.6M28.1 81.7h-1.6M28.1 79.3h-1.6M28.1 77.2h-1.6M28.1 75.4h-1.6M28.1 73.9h-1.6M28.1 63.2h-1.6M28.1 57.8h-1.6M28.1 54.0h-1.6M28.1 51.0h-1.6M28.1 48.5h-1.6M28.1 46.5h-1.6M28.1 44.7h-1.6M28.1 43.1h-1.6M28.1 32.5h-1.6M28.1 27.1h-1.6M28.1 23.2h-1.6M28.1 20.2h-1.6M28.1 17.8h-1.6M28.1 15.8h-1.6M28.1 14.0h-1.6M28.1 12.4h-1.6" stroke="#0c0c0c" stroke-width="1" fill="none"/><text x="24.2" y="150.5" font-size="9.8" textLength="9.8" lengthAdjust="spacingAndGlyphs" fill="#111" stroke="#111" stroke-width="0.25">10</text><text x="34.2" y="146.6" font-size="6.6" fill="#111" stroke="#111" stroke-width="0.25">0</text><text x="54.3" y="150.5" font-size="9.8" textLength="9.8" lengthAdjust="spacingAndGlyphs" fill="#111" stroke="#111" stroke-width="0.25">10</text><text x="64.3" y="146.6" font-size="6.6" fill="#111" stroke="#111" stroke-width="0.25">1</text><text x="84.4" y="150.5" font-size="9.8" textLength="9.8" lengthAdjust="spacingAndGlyphs" fill="#111" stroke="#111" stroke-width="0.25">10</text><text x="94.4" y="146.6" font-size="6.6" fill="#111" stroke="#111" stroke-width="0.25">2</text><text x="114.6" y="150.5" font-size="9.8" textLength="9.8" lengthAdjust="spacingAndGlyphs" fill="#111" stroke="#111" stroke-width="0.25">10</text><text x="124.6" y="146.6" font-size="6.6" fill="#111" stroke="#111" stroke-width="0.25">3</text><text x="144.7" y="150.5" font-size="9.8" textLength="9.8" lengthAdjust="spacingAndGlyphs" fill="#111" stroke="#111" stroke-width="0.25">10</text><text x="154.7" y="146.6" font-size="6.6" fill="#111" stroke="#111" stroke-width="0.25">4</text><text transform="translate(21.6 140.5) rotate(-90)" font-size="10" textLength="9.8" lengthAdjust="spacingAndGlyphs" fill="#111" stroke="#111" stroke-width="0.25">10</text><text transform="translate(18.5 129.9) rotate(-90)" font-size="6.6" fill="#111" stroke="#111" stroke-width="0.25">0</text><text transform="translate(21.6 109.8) rotate(-90)" font-size="10" textLength="9.8" lengthAdjust="spacingAndGlyphs" fill="#111" stroke="#111" stroke-width="0.25">10</text><text transform="translate(18.5 99.2) rotate(-90)" font-size="6.6" fill="#111" stroke="#111" stroke-width="0.25">1</text><text transform="translate(21.6 79.0) rotate(-90)" font-size="10" textLength="9.8" lengthAdjust="spacingAndGlyphs" fill="#111" stroke="#111" stroke-width="0.25">10</text><text transform="translate(18.5 68.5) rotate(-90)" font-size="6.6" fill="#111" stroke="#111" stroke-width="0.25">2</text><text transform="translate(21.6 48.3) rotate(-90)" font-size="10" textLength="9.8" lengthAdjust="spacingAndGlyphs" fill="#111" stroke="#111" stroke-width="0.25">10</text><text transform="translate(18.5 37.7) rotate(-90)" font-size="6.6" fill="#111" stroke="#111" stroke-width="0.25">3</text><text transform="translate(21.6 17.6) rotate(-90)" font-size="10" textLength="9.8" lengthAdjust="spacingAndGlyphs" fill="#111" stroke="#111" stroke-width="0.25">10</text><text transform="translate(18.5 7.0) rotate(-90)" font-size="6.6" fill="#111" stroke="#111" stroke-width="0.25">4</text><rect x="207.7" y="10.8" width="121.5" height="124.0" fill="none" stroke="#000" stroke-width="1.15"/><path d="M208.2 134.8v5.0M238.2 134.8v5.0M268.2 134.8v5.0M298.3 134.8v5.0M328.3 134.8v5.0M217.2 134.8v1.6M222.5 134.8v1.6M226.3 134.8v1.6M229.2 134.8v1.6M231.6 134.8v1.6M233.6 134.8v1.6M235.3 134.8v1.6M236.9 134.8v1.6M247.3 134.8v1.6M252.6 134.8v1.6M256.3 134.8v1.6M259.2 134.8v1.6M261.6 134.8v1.6M263.6 134.8v1.6M265.3 134.8v1.6M266.9 134.8v1.6M277.3 134.8v1.6M282.6 134.8v1.6M286.3 134.8v1.6M289.2 134.8v1.6M291.6 134.8v1.6M293.6 134.8v1.6M295.4 134.8v1.6M296.9 134.8v1.6M307.3 134.8v1.6M312.6 134.8v1.6M316.4 134.8v1.6M319.3 134.8v1.6M321.6 134.8v1.6M323.6 134.8v1.6M325.4 134.8v1.6M326.9 134.8v1.6M207.7 133.7h-5.0M207.7 103.0h-5.0M207.7 72.4h-5.0M207.7 41.7h-5.0M207.7 11.0h-5.0M207.7 133.7h-1.6M207.7 126.0h-1.6M207.7 118.4h-1.6M207.7 110.7h-1.6M207.7 103.0h-1.6M207.7 95.4h-1.6M207.7 87.7h-1.6M207.7 80.0h-1.6M207.7 72.4h-1.6M207.7 64.7h-1.6M207.7 57.0h-1.6M207.7 49.3h-1.6M207.7 41.7h-1.6M207.7 34.0h-1.6M207.7 26.3h-1.6M207.7 18.7h-1.6" stroke="#0c0c0c" stroke-width="1" fill="none"/><text x="203.8" y="150.3" font-size="9.8" textLength="9.8" lengthAdjust="spacingAndGlyphs" fill="#111" stroke="#111" stroke-width="0.25">10</text><text x="213.8" y="146.4" font-size="6.6" fill="#111" stroke="#111" stroke-width="0.25">0</text><text x="233.8" y="150.3" font-size="9.8" textLength="9.8" lengthAdjust="spacingAndGlyphs" fill="#111" stroke="#111" stroke-width="0.25">10</text><text x="243.8" y="146.4" font-size="6.6" fill="#111" stroke="#111" stroke-width="0.25">1</text><text x="263.9" y="150.3" font-size="9.8" textLength="9.8" lengthAdjust="spacingAndGlyphs" fill="#111" stroke="#111" stroke-width="0.25">10</text><text x="273.9" y="146.4" font-size="6.6" fill="#111" stroke="#111" stroke-width="0.25">2</text><text x="293.9" y="150.3" font-size="9.8" textLength="9.8" lengthAdjust="spacingAndGlyphs" fill="#111" stroke="#111" stroke-width="0.25">10</text><text x="303.9" y="146.4" font-size="6.6" fill="#111" stroke="#111" stroke-width="0.25">3</text><text x="323.9" y="150.3" font-size="9.8" textLength="9.8" lengthAdjust="spacingAndGlyphs" fill="#111" stroke="#111" stroke-width="0.25">10</text><text x="333.9" y="146.4" font-size="6.6" fill="#111" stroke="#111" stroke-width="0.25">4</text><text transform="translate(200.8 134.5) rotate(-90)" font-size="9.3" text-anchor="middle" fill="#111" stroke="#111" stroke-width="0.25">0</text><text transform="translate(200.8 103.8) rotate(-90)" font-size="9.3" text-anchor="middle" fill="#111" stroke="#111" stroke-width="0.25">256</text><text transform="translate(200.8 73.2) rotate(-90)" font-size="9.3" text-anchor="middle" fill="#111" stroke="#111" stroke-width="0.25">512</text><text transform="translate(200.8 42.5) rotate(-90)" font-size="9.3" text-anchor="middle" fill="#111" stroke="#111" stroke-width="0.25">768</text><text transform="translate(200.8 11.8) rotate(-90)" font-size="9.3" text-anchor="middle" fill="#111" stroke="#111" stroke-width="0.25">1024</text><rect x="387.8" y="9.8" width="121.8" height="124.2" fill="none" stroke="#000" stroke-width="1.15"/><path d="M388.3 134.0v5.0M418.4 134.0v5.0M448.5 134.0v5.0M478.6 134.0v5.0M508.7 134.0v5.0M397.4 134.0v1.6M402.7 134.0v1.6M406.4 134.0v1.6M409.3 134.0v1.6M411.7 134.0v1.6M413.7 134.0v1.6M415.5 134.0v1.6M417.0 134.0v1.6M427.5 134.0v1.6M432.8 134.0v1.6M436.5 134.0v1.6M439.4 134.0v1.6M441.8 134.0v1.6M443.8 134.0v1.6M445.6 134.0v1.6M447.1 134.0v1.6M457.6 134.0v1.6M462.9 134.0v1.6M466.6 134.0v1.6M469.5 134.0v1.6M471.9 134.0v1.6M473.9 134.0v1.6M475.7 134.0v1.6M477.2 134.0v1.6M487.7 134.0v1.6M493.0 134.0v1.6M496.7 134.0v1.6M499.6 134.0v1.6M502.0 134.0v1.6M504.0 134.0v1.6M505.8 134.0v1.6M507.3 134.0v1.6M387.8 132.9h-5.0M387.8 102.2h-5.0M387.8 71.5h-5.0M387.8 40.8h-5.0M387.8 10.0h-5.0M387.8 123.7h-1.6M387.8 118.2h-1.6M387.8 114.4h-1.6M387.8 111.4h-1.6M387.8 109.0h-1.6M387.8 106.9h-1.6M387.8 105.2h-1.6M387.8 103.6h-1.6M387.8 92.9h-1.6M387.8 87.5h-1.6M387.8 83.7h-1.6M387.8 80.7h-1.6M387.8 78.3h-1.6M387.8 76.2h-1.6M387.8 74.5h-1.6M387.8 72.9h-1.6M387.8 62.2h-1.6M387.8 56.8h-1.6M387.8 53.0h-1.6M387.8 50.0h-1.6M387.8 47.6h-1.6M387.8 45.5h-1.6M387.8 43.7h-1.6M387.8 42.2h-1.6M387.8 31.5h-1.6M387.8 26.1h-1.6M387.8 22.3h-1.6M387.8 19.3h-1.6M387.8 16.9h-1.6M387.8 14.8h-1.6M387.8 13.0h-1.6M387.8 11.5h-1.6" stroke="#0c0c0c" stroke-width="1" fill="none"/><text x="383.9" y="149.5" font-size="9.8" textLength="9.8" lengthAdjust="spacingAndGlyphs" fill="#111" stroke="#111" stroke-width="0.25">10</text><text x="393.9" y="145.6" font-size="6.6" fill="#111" stroke="#111" stroke-width="0.25">0</text><text x="414.0" y="149.5" font-size="9.8" textLength="9.8" lengthAdjust="spacingAndGlyphs" fill="#111" stroke="#111" stroke-width="0.25">10</text><text x="424.0" y="145.6" font-size="6.6" fill="#111" stroke="#111" stroke-width="0.25">1</text><text x="444.1" y="149.5" font-size="9.8" textLength="9.8" lengthAdjust="spacingAndGlyphs" fill="#111" stroke="#111" stroke-width="0.25">10</text><text x="454.1" y="145.6" font-size="6.6" fill="#111" stroke="#111" stroke-width="0.25">2</text><text x="474.2" y="149.5" font-size="9.8" textLength="9.8" lengthAdjust="spacingAndGlyphs" fill="#111" stroke="#111" stroke-width="0.25">10</text><text x="484.2" y="145.6" font-size="6.6" fill="#111" stroke="#111" stroke-width="0.25">3</text><text x="504.3" y="149.5" font-size="9.8" textLength="9.8" lengthAdjust="spacingAndGlyphs" fill="#111" stroke="#111" stroke-width="0.25">10</text><text x="514.3" y="145.6" font-size="6.6" fill="#111" stroke="#111" stroke-width="0.25">4</text><text transform="translate(381.3 139.5) rotate(-90)" font-size="10" textLength="9.8" lengthAdjust="spacingAndGlyphs" fill="#111" stroke="#111" stroke-width="0.25">10</text><text transform="translate(378.2 128.9) rotate(-90)" font-size="6.6" fill="#111" stroke="#111" stroke-width="0.25">0</text><text transform="translate(381.3 108.8) rotate(-90)" font-size="10" textLength="9.8" lengthAdjust="spacingAndGlyphs" fill="#111" stroke="#111" stroke-width="0.25">10</text><text transform="translate(378.2 98.2) rotate(-90)" font-size="6.6" fill="#111" stroke="#111" stroke-width="0.25">1</text><text transform="translate(381.3 78.1) rotate(-90)" font-size="10" textLength="9.8" lengthAdjust="spacingAndGlyphs" fill="#111" stroke="#111" stroke-width="0.25">10</text><text transform="translate(378.2 67.5) rotate(-90)" font-size="6.6" fill="#111" stroke="#111" stroke-width="0.25">2</text><text transform="translate(381.3 47.4) rotate(-90)" font-size="10" textLength="9.8" lengthAdjust="spacingAndGlyphs" fill="#111" stroke="#111" stroke-width="0.25">10</text><text transform="translate(378.2 36.8) rotate(-90)" font-size="6.6" fill="#111" stroke="#111" stroke-width="0.25">3</text><text transform="translate(381.3 16.6) rotate(-90)" font-size="10" textLength="9.8" lengthAdjust="spacingAndGlyphs" fill="#111" stroke="#111" stroke-width="0.25">10</text><text transform="translate(378.2 6.0) rotate(-90)" font-size="6.6" fill="#111" stroke="#111" stroke-width="0.25">4</text><rect x="28.1" y="187.5" width="121.7" height="124.4" fill="none" stroke="#000" stroke-width="1.15"/><path d="M28.6 311.9v5.0M58.7 311.9v5.0M88.8 311.9v5.0M118.8 311.9v5.0M148.9 311.9v5.0M37.7 311.9v1.6M42.9 311.9v1.6M46.7 311.9v1.6M49.6 311.9v1.6M52.0 311.9v1.6M54.0 311.9v1.6M55.8 311.9v1.6M57.3 311.9v1.6M67.7 311.9v1.6M73.0 311.9v1.6M76.8 311.9v1.6M79.7 311.9v1.6M82.1 311.9v1.6M84.1 311.9v1.6M85.8 311.9v1.6M87.4 311.9v1.6M97.8 311.9v1.6M103.1 311.9v1.6M106.9 311.9v1.6M109.8 311.9v1.6M112.2 311.9v1.6M114.2 311.9v1.6M115.9 311.9v1.6M117.4 311.9v1.6M127.9 311.9v1.6M133.2 311.9v1.6M136.9 311.9v1.6M139.8 311.9v1.6M142.2 311.9v1.6M144.2 311.9v1.6M146.0 311.9v1.6M147.5 311.9v1.6M28.1 310.8h-5.0M28.1 280.0h-5.0M28.1 249.2h-5.0M28.1 218.5h-5.0M28.1 187.7h-5.0M28.1 301.5h-1.6M28.1 296.1h-1.6M28.1 292.2h-1.6M28.1 289.2h-1.6M28.1 286.8h-1.6M28.1 284.8h-1.6M28.1 283.0h-1.6M28.1 281.4h-1.6M28.1 270.7h-1.6M28.1 265.3h-1.6M28.1 261.5h-1.6M28.1 258.5h-1.6M28.1 256.0h-1.6M28.1 254.0h-1.6M28.1 252.2h-1.6M28.1 250.6h-1.6M28.1 240.0h-1.6M28.1 234.5h-1.6M28.1 230.7h-1.6M28.1 227.7h-1.6M28.1 225.3h-1.6M28.1 223.2h-1.6M28.1 221.4h-1.6M28.1 219.9h-1.6M28.1 209.2h-1.6M28.1 203.8h-1.6M28.1 199.9h-1.6M28.1 197.0h-1.6M28.1 194.5h-1.6M28.1 192.5h-1.6M28.1 190.7h-1.6M28.1 189.1h-1.6" stroke="#0c0c0c" stroke-width="1" fill="none"/><text x="24.2" y="327.4" font-size="9.8" textLength="9.8" lengthAdjust="spacingAndGlyphs" fill="#111" stroke="#111" stroke-width="0.25">10</text><text x="34.2" y="323.5" font-size="6.6" fill="#111" stroke="#111" stroke-width="0.25">0</text><text x="54.3" y="327.4" font-size="9.8" textLength="9.8" lengthAdjust="spacingAndGlyphs" fill="#111" stroke="#111" stroke-width="0.25">10</text><text x="64.3" y="323.5" font-size="6.6" fill="#111" stroke="#111" stroke-width="0.25">1</text><text x="84.3" y="327.4" font-size="9.8" textLength="9.8" lengthAdjust="spacingAndGlyphs" fill="#111" stroke="#111" stroke-width="0.25">10</text><text x="94.3" y="323.5" font-size="6.6" fill="#111" stroke="#111" stroke-width="0.25">2</text><text x="114.4" y="327.4" font-size="9.8" textLength="9.8" lengthAdjust="spacingAndGlyphs" fill="#111" stroke="#111" stroke-width="0.25">10</text><text x="124.4" y="323.5" font-size="6.6" fill="#111" stroke="#111" stroke-width="0.25">3</text><text x="144.5" y="327.4" font-size="9.8" textLength="9.8" lengthAdjust="spacingAndGlyphs" fill="#111" stroke="#111" stroke-width="0.25">10</text><text x="154.5" y="323.5" font-size="6.6" fill="#111" stroke="#111" stroke-width="0.25">4</text><text transform="translate(21.6 317.4) rotate(-90)" font-size="10" textLength="9.8" lengthAdjust="spacingAndGlyphs" fill="#111" stroke="#111" stroke-width="0.25">10</text><text transform="translate(18.5 306.8) rotate(-90)" font-size="6.6" fill="#111" stroke="#111" stroke-width="0.25">0</text><text transform="translate(21.6 286.6) rotate(-90)" font-size="10" textLength="9.8" lengthAdjust="spacingAndGlyphs" fill="#111" stroke="#111" stroke-width="0.25">10</text><text transform="translate(18.5 276.0) rotate(-90)" font-size="6.6" fill="#111" stroke="#111" stroke-width="0.25">1</text><text transform="translate(21.6 255.8) rotate(-90)" font-size="10" textLength="9.8" lengthAdjust="spacingAndGlyphs" fill="#111" stroke="#111" stroke-width="0.25">10</text><text transform="translate(18.5 245.2) rotate(-90)" font-size="6.6" fill="#111" stroke="#111" stroke-width="0.25">2</text><text transform="translate(21.6 225.1) rotate(-90)" font-size="10" textLength="9.8" lengthAdjust="spacingAndGlyphs" fill="#111" stroke="#111" stroke-width="0.25">10</text><text transform="translate(18.5 214.5) rotate(-90)" font-size="6.6" fill="#111" stroke="#111" stroke-width="0.25">3</text><text transform="translate(21.6 194.3) rotate(-90)" font-size="10" textLength="9.8" lengthAdjust="spacingAndGlyphs" fill="#111" stroke="#111" stroke-width="0.25">10</text><text transform="translate(18.5 183.7) rotate(-90)" font-size="6.6" fill="#111" stroke="#111" stroke-width="0.25">4</text><rect x="208.1" y="187.9" width="121.5" height="124.2" fill="none" stroke="#000" stroke-width="1.15"/><path d="M208.6 312.1v5.0M238.6 312.1v5.0M268.7 312.1v5.0M298.7 312.1v5.0M328.7 312.1v5.0M217.6 312.1v1.6M222.9 312.1v1.6M226.7 312.1v1.6M229.6 312.1v1.6M232.0 312.1v1.6M234.0 312.1v1.6M235.7 312.1v1.6M237.3 312.1v1.6M247.7 312.1v1.6M253.0 312.1v1.6M256.7 312.1v1.6M259.6 312.1v1.6M262.0 312.1v1.6M264.0 312.1v1.6M265.7 312.1v1.6M267.3 312.1v1.6M277.7 312.1v1.6M283.0 312.1v1.6M286.7 312.1v1.6M289.6 312.1v1.6M292.0 312.1v1.6M294.0 312.1v1.6M295.8 312.1v1.6M297.3 312.1v1.6M307.7 312.1v1.6M313.0 312.1v1.6M316.8 312.1v1.6M319.7 312.1v1.6M322.0 312.1v1.6M324.0 312.1v1.6M325.8 312.1v1.6M327.3 312.1v1.6M208.1 311.0h-5.0M208.1 280.3h-5.0M208.1 249.6h-5.0M208.1 218.8h-5.0M208.1 188.1h-5.0M208.1 311.0h-1.6M208.1 303.4h-1.6M208.1 295.7h-1.6M208.1 288.0h-1.6M208.1 280.3h-1.6M208.1 272.6h-1.6M208.1 264.9h-1.6M208.1 257.3h-1.6M208.1 249.6h-1.6M208.1 241.9h-1.6M208.1 234.2h-1.6M208.1 226.5h-1.6M208.1 218.8h-1.6M208.1 211.2h-1.6M208.1 203.5h-1.6M208.1 195.8h-1.6" stroke="#0c0c0c" stroke-width="1" fill="none"/><text x="204.2" y="327.6" font-size="9.8" textLength="9.8" lengthAdjust="spacingAndGlyphs" fill="#111" stroke="#111" stroke-width="0.25">10</text><text x="214.2" y="323.8" font-size="6.6" fill="#111" stroke="#111" stroke-width="0.25">0</text><text x="234.2" y="327.6" font-size="9.8" textLength="9.8" lengthAdjust="spacingAndGlyphs" fill="#111" stroke="#111" stroke-width="0.25">10</text><text x="244.2" y="323.8" font-size="6.6" fill="#111" stroke="#111" stroke-width="0.25">1</text><text x="264.3" y="327.6" font-size="9.8" textLength="9.8" lengthAdjust="spacingAndGlyphs" fill="#111" stroke="#111" stroke-width="0.25">10</text><text x="274.3" y="323.8" font-size="6.6" fill="#111" stroke="#111" stroke-width="0.25">2</text><text x="294.3" y="327.6" font-size="9.8" textLength="9.8" lengthAdjust="spacingAndGlyphs" fill="#111" stroke="#111" stroke-width="0.25">10</text><text x="304.3" y="323.8" font-size="6.6" fill="#111" stroke="#111" stroke-width="0.25">3</text><text x="324.3" y="327.6" font-size="9.8" textLength="9.8" lengthAdjust="spacingAndGlyphs" fill="#111" stroke="#111" stroke-width="0.25">10</text><text x="334.3" y="323.8" font-size="6.6" fill="#111" stroke="#111" stroke-width="0.25">4</text><text transform="translate(201.2 311.8) rotate(-90)" font-size="9.3" text-anchor="middle" fill="#111" stroke="#111" stroke-width="0.25">0</text><text transform="translate(201.2 281.1) rotate(-90)" font-size="9.3" text-anchor="middle" fill="#111" stroke="#111" stroke-width="0.25">256</text><text transform="translate(201.2 250.4) rotate(-90)" font-size="9.3" text-anchor="middle" fill="#111" stroke="#111" stroke-width="0.25">512</text><text transform="translate(201.2 219.6) rotate(-90)" font-size="9.3" text-anchor="middle" fill="#111" stroke="#111" stroke-width="0.25">768</text><text transform="translate(201.2 188.9) rotate(-90)" font-size="9.3" text-anchor="middle" fill="#111" stroke="#111" stroke-width="0.25">1024</text><rect x="388.1" y="186.7" width="121.9" height="124.2" fill="none" stroke="#000" stroke-width="1.15"/><path d="M388.6 310.9v5.0M418.7 310.9v5.0M448.9 310.9v5.0M479.0 310.9v5.0M509.1 310.9v5.0M397.7 310.9v1.6M403.0 310.9v1.6M406.7 310.9v1.6M409.7 310.9v1.6M412.0 310.9v1.6M414.1 310.9v1.6M415.8 310.9v1.6M417.3 310.9v1.6M427.8 310.9v1.6M433.1 310.9v1.6M436.9 310.9v1.6M439.8 310.9v1.6M442.2 310.9v1.6M444.2 310.9v1.6M445.9 310.9v1.6M447.5 310.9v1.6M457.9 310.9v1.6M463.2 310.9v1.6M467.0 310.9v1.6M469.9 310.9v1.6M472.3 310.9v1.6M474.3 310.9v1.6M476.1 310.9v1.6M477.6 310.9v1.6M488.0 310.9v1.6M493.3 310.9v1.6M497.1 310.9v1.6M500.0 310.9v1.6M502.4 310.9v1.6M504.4 310.9v1.6M506.2 310.9v1.6M507.7 310.9v1.6M388.1 309.8h-5.0M388.1 279.1h-5.0M388.1 248.3h-5.0M388.1 217.6h-5.0M388.1 186.9h-5.0M388.1 300.6h-1.6M388.1 295.1h-1.6M388.1 291.3h-1.6M388.1 288.3h-1.6M388.1 285.9h-1.6M388.1 283.8h-1.6M388.1 282.1h-1.6M388.1 280.5h-1.6M388.1 269.8h-1.6M388.1 264.4h-1.6M388.1 260.6h-1.6M388.1 257.6h-1.6M388.1 255.2h-1.6M388.1 253.1h-1.6M388.1 251.3h-1.6M388.1 249.8h-1.6M388.1 239.1h-1.6M388.1 233.7h-1.6M388.1 229.9h-1.6M388.1 226.9h-1.6M388.1 224.4h-1.6M388.1 222.4h-1.6M388.1 220.6h-1.6M388.1 219.0h-1.6M388.1 208.4h-1.6M388.1 203.0h-1.6M388.1 199.1h-1.6M388.1 196.1h-1.6M388.1 193.7h-1.6M388.1 191.7h-1.6M388.1 189.9h-1.6M388.1 188.3h-1.6" stroke="#0c0c0c" stroke-width="1" fill="none"/><text x="384.2" y="326.4" font-size="9.8" textLength="9.8" lengthAdjust="spacingAndGlyphs" fill="#111" stroke="#111" stroke-width="0.25">10</text><text x="394.2" y="322.5" font-size="6.6" fill="#111" stroke="#111" stroke-width="0.25">0</text><text x="414.3" y="326.4" font-size="9.8" textLength="9.8" lengthAdjust="spacingAndGlyphs" fill="#111" stroke="#111" stroke-width="0.25">10</text><text x="424.3" y="322.5" font-size="6.6" fill="#111" stroke="#111" stroke-width="0.25">1</text><text x="444.5" y="326.4" font-size="9.8" textLength="9.8" lengthAdjust="spacingAndGlyphs" fill="#111" stroke="#111" stroke-width="0.25">10</text><text x="454.5" y="322.5" font-size="6.6" fill="#111" stroke="#111" stroke-width="0.25">2</text><text x="474.6" y="326.4" font-size="9.8" textLength="9.8" lengthAdjust="spacingAndGlyphs" fill="#111" stroke="#111" stroke-width="0.25">10</text><text x="484.6" y="322.5" font-size="6.6" fill="#111" stroke="#111" stroke-width="0.25">3</text><text x="504.7" y="326.4" font-size="9.8" textLength="9.8" lengthAdjust="spacingAndGlyphs" fill="#111" stroke="#111" stroke-width="0.25">10</text><text x="514.7" y="322.5" font-size="6.6" fill="#111" stroke="#111" stroke-width="0.25">4</text><text transform="translate(381.6 316.4) rotate(-90)" font-size="10" textLength="9.8" lengthAdjust="spacingAndGlyphs" fill="#111" stroke="#111" stroke-width="0.25">10</text><text transform="translate(378.5 305.8) rotate(-90)" font-size="6.6" fill="#111" stroke="#111" stroke-width="0.25">0</text><text transform="translate(381.6 285.7) rotate(-90)" font-size="10" textLength="9.8" lengthAdjust="spacingAndGlyphs" fill="#111" stroke="#111" stroke-width="0.25">10</text><text transform="translate(378.5 275.1) rotate(-90)" font-size="6.6" fill="#111" stroke="#111" stroke-width="0.25">1</text><text transform="translate(381.6 254.9) rotate(-90)" font-size="10" textLength="9.8" lengthAdjust="spacingAndGlyphs" fill="#111" stroke="#111" stroke-width="0.25">10</text><text transform="translate(378.5 244.3) rotate(-90)" font-size="6.6" fill="#111" stroke="#111" stroke-width="0.25">2</text><text transform="translate(381.6 224.2) rotate(-90)" font-size="10" textLength="9.8" lengthAdjust="spacingAndGlyphs" fill="#111" stroke="#111" stroke-width="0.25">10</text><text transform="translate(378.5 213.6) rotate(-90)" font-size="6.6" fill="#111" stroke="#111" stroke-width="0.25">3</text><text transform="translate(381.6 193.5) rotate(-90)" font-size="10" textLength="9.8" lengthAdjust="spacingAndGlyphs" fill="#111" stroke="#111" stroke-width="0.25">10</text><text transform="translate(378.5 182.9) rotate(-90)" font-size="6.6" fill="#111" stroke="#111" stroke-width="0.25">4</text><rect x="29.2" y="363.1" width="122.0" height="124.3" fill="none" stroke="#000" stroke-width="1.15"/><path d="M29.7 487.4v5.0M59.8 487.4v5.0M90.0 487.4v5.0M120.1 487.4v5.0M150.2 487.4v5.0M38.8 487.4v1.6M44.1 487.4v1.6M47.8 487.4v1.6M50.8 487.4v1.6M53.2 487.4v1.6M55.2 487.4v1.6M56.9 487.4v1.6M58.5 487.4v1.6M68.9 487.4v1.6M74.2 487.4v1.6M78.0 487.4v1.6M80.9 487.4v1.6M83.3 487.4v1.6M85.3 487.4v1.6M87.1 487.4v1.6M88.6 487.4v1.6M99.0 487.4v1.6M104.4 487.4v1.6M108.1 487.4v1.6M111.0 487.4v1.6M113.4 487.4v1.6M115.4 487.4v1.6M117.2 487.4v1.6M118.7 487.4v1.6M129.2 487.4v1.6M134.5 487.4v1.6M138.3 487.4v1.6M141.2 487.4v1.6M143.6 487.4v1.6M145.6 487.4v1.6M147.3 487.4v1.6M148.9 487.4v1.6M29.2 486.3h-5.0M29.2 455.5h-5.0M29.2 424.8h-5.0M29.2 394.1h-5.0M29.2 363.3h-5.0M29.2 477.0h-1.6M29.2 471.6h-1.6M29.2 467.8h-1.6M29.2 464.8h-1.6M29.2 462.4h-1.6M29.2 460.3h-1.6M29.2 458.5h-1.6M29.2 457.0h-1.6M29.2 446.3h-1.6M29.2 440.9h-1.6M29.2 437.0h-1.6M29.2 434.1h-1.6M29.2 431.6h-1.6M29.2 429.6h-1.6M29.2 427.8h-1.6M29.2 426.2h-1.6M29.2 415.5h-1.6M29.2 410.1h-1.6M29.2 406.3h-1.6M29.2 403.3h-1.6M29.2 400.9h-1.6M29.2 398.8h-1.6M29.2 397.0h-1.6M29.2 395.5h-1.6M29.2 384.8h-1.6M29.2 379.4h-1.6M29.2 375.5h-1.6M29.2 372.6h-1.6M29.2 370.1h-1.6M29.2 368.1h-1.6M29.2 366.3h-1.6M29.2 364.7h-1.6" stroke="#0c0c0c" stroke-width="1" fill="none"/><text x="25.3" y="502.9" font-size="9.8" textLength="9.8" lengthAdjust="spacingAndGlyphs" fill="#111" stroke="#111" stroke-width="0.25">10</text><text x="35.3" y="499.0" font-size="6.6" fill="#111" stroke="#111" stroke-width="0.25">0</text><text x="55.4" y="502.9" font-size="9.8" textLength="9.8" lengthAdjust="spacingAndGlyphs" fill="#111" stroke="#111" stroke-width="0.25">10</text><text x="65.4" y="499.0" font-size="6.6" fill="#111" stroke="#111" stroke-width="0.25">1</text><text x="85.6" y="502.9" font-size="9.8" textLength="9.8" lengthAdjust="spacingAndGlyphs" fill="#111" stroke="#111" stroke-width="0.25">10</text><text x="95.6" y="499.0" font-size="6.6" fill="#111" stroke="#111" stroke-width="0.25">2</text><text x="115.7" y="502.9" font-size="9.8" textLength="9.8" lengthAdjust="spacingAndGlyphs" fill="#111" stroke="#111" stroke-width="0.25">10</text><text x="125.7" y="499.0" font-size="6.6" fill="#111" stroke="#111" stroke-width="0.25">3</text><text x="145.8" y="502.9" font-size="9.8" textLength="9.8" lengthAdjust="spacingAndGlyphs" fill="#111" stroke="#111" stroke-width="0.25">10</text><text x="155.8" y="499.0" font-size="6.6" fill="#111" stroke="#111" stroke-width="0.25">4</text><text transform="translate(22.7 492.9) rotate(-90)" font-size="10" textLength="9.8" lengthAdjust="spacingAndGlyphs" fill="#111" stroke="#111" stroke-width="0.25">10</text><text transform="translate(19.6 482.3) rotate(-90)" font-size="6.6" fill="#111" stroke="#111" stroke-width="0.25">0</text><text transform="translate(22.7 462.1) rotate(-90)" font-size="10" textLength="9.8" lengthAdjust="spacingAndGlyphs" fill="#111" stroke="#111" stroke-width="0.25">10</text><text transform="translate(19.6 451.5) rotate(-90)" font-size="6.6" fill="#111" stroke="#111" stroke-width="0.25">1</text><text transform="translate(22.7 431.4) rotate(-90)" font-size="10" textLength="9.8" lengthAdjust="spacingAndGlyphs" fill="#111" stroke="#111" stroke-width="0.25">10</text><text transform="translate(19.6 420.8) rotate(-90)" font-size="6.6" fill="#111" stroke="#111" stroke-width="0.25">2</text><text transform="translate(22.7 400.7) rotate(-90)" font-size="10" textLength="9.8" lengthAdjust="spacingAndGlyphs" fill="#111" stroke="#111" stroke-width="0.25">10</text><text transform="translate(19.6 390.1) rotate(-90)" font-size="6.6" fill="#111" stroke="#111" stroke-width="0.25">3</text><text transform="translate(22.7 369.9) rotate(-90)" font-size="10" textLength="9.8" lengthAdjust="spacingAndGlyphs" fill="#111" stroke="#111" stroke-width="0.25">10</text><text transform="translate(19.6 359.3) rotate(-90)" font-size="6.6" fill="#111" stroke="#111" stroke-width="0.25">4</text><rect x="208.1" y="361.9" width="121.1" height="124.3" fill="none" stroke="#000" stroke-width="1.15"/><path d="M208.6 486.2v5.0M238.5 486.2v5.0M268.4 486.2v5.0M298.4 486.2v5.0M328.3 486.2v5.0M217.6 486.2v1.6M222.9 486.2v1.6M226.6 486.2v1.6M229.5 486.2v1.6M231.9 486.2v1.6M233.9 486.2v1.6M235.6 486.2v1.6M237.2 486.2v1.6M247.5 486.2v1.6M252.8 486.2v1.6M256.5 486.2v1.6M259.4 486.2v1.6M261.8 486.2v1.6M263.8 486.2v1.6M265.5 486.2v1.6M267.1 486.2v1.6M277.5 486.2v1.6M282.7 486.2v1.6M286.5 486.2v1.6M289.4 486.2v1.6M291.7 486.2v1.6M293.7 486.2v1.6M295.5 486.2v1.6M297.0 486.2v1.6M307.4 486.2v1.6M312.7 486.2v1.6M316.4 486.2v1.6M319.3 486.2v1.6M321.7 486.2v1.6M323.7 486.2v1.6M325.4 486.2v1.6M326.9 486.2v1.6M208.1 485.1h-5.0M208.1 454.3h-5.0M208.1 423.6h-5.0M208.1 392.8h-5.0M208.1 362.1h-5.0M208.1 485.1h-1.6M208.1 477.4h-1.6M208.1 469.7h-1.6M208.1 462.0h-1.6M208.1 454.3h-1.6M208.1 446.7h-1.6M208.1 439.0h-1.6M208.1 431.3h-1.6M208.1 423.6h-1.6M208.1 415.9h-1.6M208.1 408.2h-1.6M208.1 400.5h-1.6M208.1 392.8h-1.6M208.1 385.2h-1.6M208.1 377.5h-1.6M208.1 369.8h-1.6" stroke="#0c0c0c" stroke-width="1" fill="none"/><text x="204.2" y="501.7" font-size="9.8" textLength="9.8" lengthAdjust="spacingAndGlyphs" fill="#111" stroke="#111" stroke-width="0.25">10</text><text x="214.2" y="497.8" font-size="6.6" fill="#111" stroke="#111" stroke-width="0.25">0</text><text x="234.1" y="501.7" font-size="9.8" textLength="9.8" lengthAdjust="spacingAndGlyphs" fill="#111" stroke="#111" stroke-width="0.25">10</text><text x="244.1" y="497.8" font-size="6.6" fill="#111" stroke="#111" stroke-width="0.25">1</text><text x="264.1" y="501.7" font-size="9.8" textLength="9.8" lengthAdjust="spacingAndGlyphs" fill="#111" stroke="#111" stroke-width="0.25">10</text><text x="274.1" y="497.8" font-size="6.6" fill="#111" stroke="#111" stroke-width="0.25">2</text><text x="294.0" y="501.7" font-size="9.8" textLength="9.8" lengthAdjust="spacingAndGlyphs" fill="#111" stroke="#111" stroke-width="0.25">10</text><text x="304.0" y="497.8" font-size="6.6" fill="#111" stroke="#111" stroke-width="0.25">3</text><text x="323.9" y="501.7" font-size="9.8" textLength="9.8" lengthAdjust="spacingAndGlyphs" fill="#111" stroke="#111" stroke-width="0.25">10</text><text x="333.9" y="497.8" font-size="6.6" fill="#111" stroke="#111" stroke-width="0.25">4</text><text transform="translate(201.2 485.9) rotate(-90)" font-size="9.3" text-anchor="middle" fill="#111" stroke="#111" stroke-width="0.25">0</text><text transform="translate(201.2 455.1) rotate(-90)" font-size="9.3" text-anchor="middle" fill="#111" stroke="#111" stroke-width="0.25">256</text><text transform="translate(201.2 424.4) rotate(-90)" font-size="9.3" text-anchor="middle" fill="#111" stroke="#111" stroke-width="0.25">512</text><text transform="translate(201.2 393.6) rotate(-90)" font-size="9.3" text-anchor="middle" fill="#111" stroke="#111" stroke-width="0.25">768</text><text transform="translate(201.2 362.9) rotate(-90)" font-size="9.3" text-anchor="middle" fill="#111" stroke="#111" stroke-width="0.25">1024</text><rect x="388.5" y="361.9" width="121.9" height="124.2" fill="none" stroke="#000" stroke-width="1.15"/><path d="M389.0 486.1v5.0M419.1 486.1v5.0M449.2 486.1v5.0M479.4 486.1v5.0M509.5 486.1v5.0M398.1 486.1v1.6M403.4 486.1v1.6M407.1 486.1v1.6M410.1 486.1v1.6M412.4 486.1v1.6M414.5 486.1v1.6M416.2 486.1v1.6M417.7 486.1v1.6M428.2 486.1v1.6M433.5 486.1v1.6M437.3 486.1v1.6M440.2 486.1v1.6M442.6 486.1v1.6M444.6 486.1v1.6M446.3 486.1v1.6M447.9 486.1v1.6M458.3 486.1v1.6M463.6 486.1v1.6M467.4 486.1v1.6M470.3 486.1v1.6M472.7 486.1v1.6M474.7 486.1v1.6M476.5 486.1v1.6M478.0 486.1v1.6M488.4 486.1v1.6M493.7 486.1v1.6M497.5 486.1v1.6M500.4 486.1v1.6M502.8 486.1v1.6M504.8 486.1v1.6M506.6 486.1v1.6M508.1 486.1v1.6M388.5 485.0h-5.0M388.5 454.3h-5.0M388.5 423.5h-5.0M388.5 392.8h-5.0M388.5 362.1h-5.0M388.5 475.7h-1.6M388.5 470.3h-1.6M388.5 466.5h-1.6M388.5 463.5h-1.6M388.5 461.1h-1.6M388.5 459.0h-1.6M388.5 457.2h-1.6M388.5 455.7h-1.6M388.5 445.0h-1.6M388.5 439.6h-1.6M388.5 435.8h-1.6M388.5 432.8h-1.6M388.5 430.3h-1.6M388.5 428.3h-1.6M388.5 426.5h-1.6M388.5 424.9h-1.6M388.5 414.3h-1.6M388.5 408.9h-1.6M388.5 405.0h-1.6M388.5 402.0h-1.6M388.5 399.6h-1.6M388.5 397.5h-1.6M388.5 395.8h-1.6M388.5 394.2h-1.6M388.5 383.5h-1.6M388.5 378.1h-1.6M388.5 374.3h-1.6M388.5 371.3h-1.6M388.5 368.9h-1.6M388.5 366.8h-1.6M388.5 365.0h-1.6M388.5 363.5h-1.6" stroke="#0c0c0c" stroke-width="1" fill="none"/><text x="384.6" y="501.6" font-size="9.8" textLength="9.8" lengthAdjust="spacingAndGlyphs" fill="#111" stroke="#111" stroke-width="0.25">10</text><text x="414.7" y="501.6" font-size="9.8" textLength="9.8" lengthAdjust="spacingAndGlyphs" fill="#111" stroke="#111" stroke-width="0.25">10</text><text x="424.7" y="497.7" font-size="6.6" fill="#111" stroke="#111" stroke-width="0.25">1</text><text x="444.9" y="501.6" font-size="9.8" textLength="9.8" lengthAdjust="spacingAndGlyphs" fill="#111" stroke="#111" stroke-width="0.25">10</text><text x="454.9" y="497.7" font-size="6.6" fill="#111" stroke="#111" stroke-width="0.25">2</text><text x="475.0" y="501.6" font-size="9.8" textLength="9.8" lengthAdjust="spacingAndGlyphs" fill="#111" stroke="#111" stroke-width="0.25">10</text><text x="485.0" y="497.7" font-size="6.6" fill="#111" stroke="#111" stroke-width="0.25">3</text><text x="505.1" y="501.6" font-size="9.8" textLength="9.8" lengthAdjust="spacingAndGlyphs" fill="#111" stroke="#111" stroke-width="0.25">10</text><text x="515.1" y="497.7" font-size="6.6" fill="#111" stroke="#111" stroke-width="0.25">4</text><text transform="translate(382.0 491.6) rotate(-90)" font-size="10" textLength="9.8" lengthAdjust="spacingAndGlyphs" fill="#111" stroke="#111" stroke-width="0.25">10</text><text transform="translate(378.9 481.0) rotate(-90)" font-size="6.6" fill="#111" stroke="#111" stroke-width="0.25">0</text><text transform="translate(382.0 460.9) rotate(-90)" font-size="10" textLength="9.8" lengthAdjust="spacingAndGlyphs" fill="#111" stroke="#111" stroke-width="0.25">10</text><text transform="translate(378.9 450.3) rotate(-90)" font-size="6.6" fill="#111" stroke="#111" stroke-width="0.25">1</text><text transform="translate(382.0 430.1) rotate(-90)" font-size="10" textLength="9.8" lengthAdjust="spacingAndGlyphs" fill="#111" stroke="#111" stroke-width="0.25">10</text><text transform="translate(378.9 419.5) rotate(-90)" font-size="6.6" fill="#111" stroke="#111" stroke-width="0.25">2</text><text transform="translate(382.0 399.4) rotate(-90)" font-size="10" textLength="9.8" lengthAdjust="spacingAndGlyphs" fill="#111" stroke="#111" stroke-width="0.25">10</text><text transform="translate(378.9 388.8) rotate(-90)" font-size="6.6" fill="#111" stroke="#111" stroke-width="0.25">3</text><text transform="translate(382.0 368.7) rotate(-90)" font-size="10" textLength="9.8" lengthAdjust="spacingAndGlyphs" fill="#111" stroke="#111" stroke-width="0.25">10</text><text transform="translate(378.9 358.1) rotate(-90)" font-size="6.6" fill="#111" stroke="#111" stroke-width="0.25">4</text><text x="29.8" y="166.2" font-size="12" textLength="63" lengthAdjust="spacingAndGlyphs" fill="#141414" stroke="#141414" stroke-width="0.4">CD3 FITC -&gt;</text><text x="209.4" y="166.0" font-size="12" textLength="54" lengthAdjust="spacingAndGlyphs" fill="#141414" stroke="#141414" stroke-width="0.4">CD4 PE -&gt;</text><text x="389.5" y="165.2" font-size="12" textLength="53.5" lengthAdjust="spacingAndGlyphs" fill="#141414" stroke="#141414" stroke-width="0.4">CD4 PE -&gt;</text><text x="30.4" y="342.4" font-size="12" textLength="58" lengthAdjust="spacingAndGlyphs" fill="#141414" stroke="#141414" stroke-width="0.4">Lin FITC -&gt;</text><text x="209.8" y="343.3" font-size="12" textLength="63" lengthAdjust="spacingAndGlyphs" fill="#141414" stroke="#141414" stroke-width="0.4">CD4 APC -&gt;</text><text x="389.8" y="342.1" font-size="12" textLength="62" lengthAdjust="spacingAndGlyphs" fill="#141414" stroke="#141414" stroke-width="0.4">CD4 APC -&gt;</text><text x="30.9" y="518.6" font-size="12" textLength="58" lengthAdjust="spacingAndGlyphs" fill="#141414" stroke="#141414" stroke-width="0.4">Lin FITC -&gt;</text><text x="209.8" y="517.4" font-size="12" textLength="54" lengthAdjust="spacingAndGlyphs" fill="#141414" stroke="#141414" stroke-width="0.4">CD4 PE -&gt;</text><text x="390.2" y="517.3" font-size="12" textLength="53.5" lengthAdjust="spacingAndGlyphs" fill="#141414" stroke="#141414" stroke-width="0.4">CD4 PE -&gt;</text><text transform="translate(9.4 134.0) rotate(-90)" font-size="9.6" textLength="43.5" lengthAdjust="spacingAndGlyphs" fill="#141414" stroke="#141414" stroke-width="0.25">CD4 PE -&gt;</text><text transform="translate(188.1 133.8) rotate(-90)" font-size="8.8" textLength="99.5" lengthAdjust="spacingAndGlyphs" fill="#b4b4b4" stroke="#b4b4b4" stroke-width="0">TRANSFORMED SSC -&gt;</text><text transform="translate(368.2 133.0) rotate(-90)" font-size="9.3" textLength="67.5" lengthAdjust="spacingAndGlyphs" fill="#141414" stroke="#141414" stroke-width="0.25">CD11C APC-&gt;</text><text transform="translate(9.4 310.9) rotate(-90)" font-size="9.6" textLength="102" lengthAdjust="spacingAndGlyphs" fill="#141414" stroke="#141414" stroke-width="0.25">Anti-HLA-DR PerCP -&gt;</text><text transform="translate(188.5 311.1) rotate(-90)" font-size="8.8" textLength="99.5" lengthAdjust="spacingAndGlyphs" fill="#b4b4b4" stroke="#b4b4b4" stroke-width="0">TRANSFORMED SSC -&gt;</text><text transform="translate(368.7 309.9) rotate(-90)" font-size="9.3" textLength="56" lengthAdjust="spacingAndGlyphs" fill="#141414" stroke="#141414" stroke-width="0.25">CD123PE -&gt;</text><text transform="translate(10.5 486.4) rotate(-90)" font-size="9.6" textLength="102" lengthAdjust="spacingAndGlyphs" fill="#141414" stroke="#141414" stroke-width="0.25">Anti-HLA-DR PerCP -&gt;</text><text transform="translate(188.5 485.2) rotate(-90)" font-size="8.8" textLength="99.5" lengthAdjust="spacingAndGlyphs" fill="#b4b4b4" stroke="#b4b4b4" stroke-width="0">TRANSFORMED SSC -&gt;</text><text transform="translate(368.4 485.1) rotate(-90)" font-size="9.3" textLength="67.5" lengthAdjust="spacingAndGlyphs" fill="#141414" stroke="#141414" stroke-width="0.25">CD11C APC-&gt;</text><text x="135.8" y="36.5" font-size="20" text-anchor="middle" fill="#0a0a0a" stroke="#0a0a0a" stroke-width="0.9">A</text><text x="311.8" y="35.8" font-size="20" text-anchor="middle" fill="#0a0a0a" stroke="#0a0a0a" stroke-width="0.9">B</text><text x="497.2" y="36.0" font-size="20" text-anchor="middle" fill="#0a0a0a" stroke="#0a0a0a" stroke-width="0.9">C</text><text x="134.5" y="214.2" font-size="20" text-anchor="middle" fill="#0a0a0a" stroke="#0a0a0a" stroke-width="0.9">D</text><text x="312.0" y="212.8" font-size="20" text-anchor="middle" fill="#0a0a0a" stroke="#0a0a0a" stroke-width="0.9">E</text><text x="496.2" y="212.5" font-size="20" text-anchor="middle" fill="#0a0a0a" stroke="#0a0a0a" stroke-width="0.9">F</text><text x="135.0" y="387.8" font-size="20" text-anchor="middle" fill="#0a0a0a" stroke="#0a0a0a" stroke-width="0.9">G</text><text x="312.5" y="387.5" font-size="20" text-anchor="middle" fill="#0a0a0a" stroke="#0a0a0a" stroke-width="0.9">H</text><text x="492.8" y="387.5" font-size="20" text-anchor="middle" fill="#0a0a0a" stroke="#0a0a0a" stroke-width="0.9">I</text></svg></body></html>
